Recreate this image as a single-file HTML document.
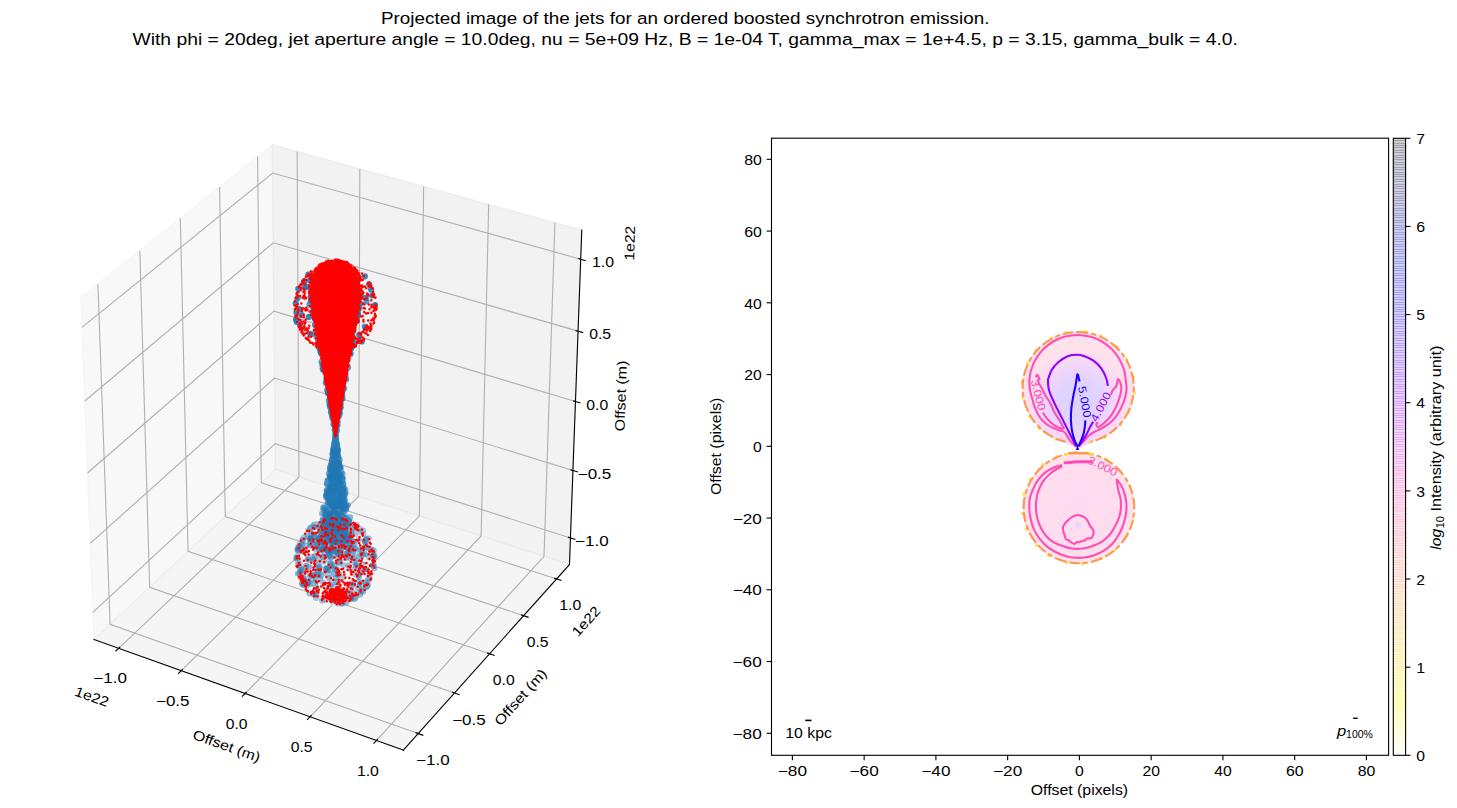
<!DOCTYPE html>
<html><head><meta charset="utf-8"><title>jets</title>
<style>html,body{margin:0;padding:0;background:#fff}svg{display:block}text{font-family:"Liberation Sans",sans-serif}</style>
</head><body>
<svg width="1457" height="808" viewBox="0 0 1457 808">
<rect width="1457" height="808" fill="#fff"/>
<g id="ax3d">
<polygon points="93.90,639.47 275.42,469.53 272.40,144.78 80.76,297.48" fill="rgb(242,242,242)" fill-opacity="0.5" stroke="rgb(242,242,242)" stroke-opacity="0.5" stroke-width="1.39" stroke-linejoin="miter"/>
<polygon points="275.42,469.53 569.48,564.54 581.78,230.00 272.40,144.78" fill="rgb(230,230,230)" fill-opacity="0.5" stroke="rgb(230,230,230)" stroke-opacity="0.5" stroke-width="1.39" stroke-linejoin="miter"/>
<polygon points="93.90,639.47 403.28,750.13 569.48,564.54 275.42,469.53" fill="rgb(236,236,236)" fill-opacity="0.5" stroke="rgb(236,236,236)" stroke-opacity="0.5" stroke-width="1.39" stroke-linejoin="miter"/>
<polyline points="118.62,648.32 298.99,477.14 297.15,151.60" fill="none" stroke="#b0b0b0" stroke-width="1.11"/>
<polyline points="181.24,670.72 358.64,496.41 359.82,168.86" fill="none" stroke="#b0b0b0" stroke-width="1.11"/>
<polyline points="245.06,693.54 419.34,516.03 423.65,186.44" fill="none" stroke="#b0b0b0" stroke-width="1.11"/>
<polyline points="310.10,716.80 481.12,535.99 488.67,204.35" fill="none" stroke="#b0b0b0" stroke-width="1.11"/>
<polyline points="376.40,740.52 544.01,556.31 554.93,222.60" fill="none" stroke="#b0b0b0" stroke-width="1.11"/>
<polyline points="97.91,283.81 110.09,624.31 418.15,733.53" fill="none" stroke="#b0b0b0" stroke-width="1.11"/>
<polyline points="139.81,250.42 149.68,587.25 454.47,692.97" fill="none" stroke="#b0b0b0" stroke-width="1.11"/>
<polyline points="180.33,218.13 188.04,551.33 489.62,653.72" fill="none" stroke="#b0b0b0" stroke-width="1.11"/>
<polyline points="219.56,186.88 225.23,516.52 523.64,615.73" fill="none" stroke="#b0b0b0" stroke-width="1.11"/>
<polyline points="257.54,156.62 261.30,482.75 556.59,578.94" fill="none" stroke="#b0b0b0" stroke-width="1.11"/>
<polyline points="570.46,537.94 275.18,443.66 92.86,612.33" fill="none" stroke="#b0b0b0" stroke-width="1.11"/>
<polyline points="572.94,470.47 274.57,378.07 90.21,543.43" fill="none" stroke="#b0b0b0" stroke-width="1.11"/>
<polyline points="575.47,401.55 273.95,311.14 87.50,473.00" fill="none" stroke="#b0b0b0" stroke-width="1.11"/>
<polyline points="578.06,331.15 273.31,242.82 84.73,401.01" fill="none" stroke="#b0b0b0" stroke-width="1.11"/>
<polyline points="580.71,259.22 272.67,173.08 81.90,327.39" fill="none" stroke="#b0b0b0" stroke-width="1.11"/>
<polyline points="93.90,639.47 403.28,750.13" fill="none" stroke="#000" stroke-width="1.11" stroke-linecap="square"/>
<polyline points="120.17,646.84 115.51,651.27" fill="none" stroke="#000" stroke-width="1.11"/>
<polyline points="182.77,669.21 178.18,673.73" fill="none" stroke="#000" stroke-width="1.11"/>
<polyline points="246.56,692.01 242.04,696.61" fill="none" stroke="#000" stroke-width="1.11"/>
<polyline points="311.57,715.24 307.14,719.93" fill="none" stroke="#000" stroke-width="1.11"/>
<polyline points="377.85,738.93 373.50,743.71" fill="none" stroke="#000" stroke-width="1.11"/>
<polyline points="569.48,564.54 403.28,750.13" fill="none" stroke="#000" stroke-width="1.11" stroke-linecap="square"/>
<polyline points="415.58,732.61 423.32,735.36" fill="none" stroke="#000" stroke-width="1.11"/>
<polyline points="451.93,692.08 459.58,694.74" fill="none" stroke="#000" stroke-width="1.11"/>
<polyline points="487.10,652.87 494.66,655.44" fill="none" stroke="#000" stroke-width="1.11"/>
<polyline points="521.14,614.90 528.62,617.39" fill="none" stroke="#000" stroke-width="1.11"/>
<polyline points="554.12,578.13 561.52,580.54" fill="none" stroke="#000" stroke-width="1.11"/>
<polyline points="569.48,564.54 581.78,230.00" fill="none" stroke="#000" stroke-width="1.11" stroke-linecap="square"/>
<polyline points="567.99,537.15 575.39,539.52" fill="none" stroke="#000" stroke-width="1.11"/>
<polyline points="570.45,469.70 577.93,472.01" fill="none" stroke="#000" stroke-width="1.11"/>
<polyline points="572.95,400.80 580.51,403.07" fill="none" stroke="#000" stroke-width="1.11"/>
<polyline points="575.52,330.41 583.16,332.63" fill="none" stroke="#000" stroke-width="1.11"/>
<polyline points="578.13,258.50 585.86,260.66" fill="none" stroke="#000" stroke-width="1.11"/>
</g>
<g id="scatter" fill="none" stroke-linecap="round">
<path d="M349.6 595.9h0M368.7 538.5h0M361.5 583.7h0M374.3 557.5h0M363.1 554.8h0M302.3 569.8h0M312.4 556.8h0M363.1 530.6h0M303.6 545.8h0M334.3 565.4h0M316.5 549.9h0M365.0 542.1h0M333.0 587.2h0M297.8 562.6h0M323.1 550.3h0M349.5 589.5h0M340.4 527.4h0M298.4 548.0h0M344.2 535.7h0M359.6 550.7h0M343.0 593.3h0M343.3 565.0h0M355.7 565.6h0M316.6 537.6h0M334.9 532.3h0M329.1 591.3h0M302.7 547.4h0M347.3 557.1h0M349.0 590.3h0M335.4 586.8h0M296.9 559.1h0M364.6 569.5h0M358.9 540.2h0M307.9 558.4h0M324.2 554.5h0M316.5 536.3h0M321.7 535.1h0M315.4 536.5h0M305.5 581.3h0M343.5 590.0h0M337.3 603.6h0M322.0 600.5h0M311.8 557.5h0M311.8 574.8h0M360.2 585.3h0M346.9 553.7h0M373.4 563.8h0M312.7 579.2h0M369.2 574.5h0" stroke="#1f77b4" stroke-opacity="0.36" stroke-width="6.2"/>
<path d="M332.0 599.5h0M316.1 598.0h0M323.8 599.7h0M313.7 533.6h0M367.8 547.8h0M300.7 572.1h0M355.6 534.2h0M360.6 572.4h0M325.4 572.9h0M353.7 532.1h0M329.2 574.3h0M299.9 544.1h0M340.4 532.2h0M345.2 535.4h0M338.0 552.6h0M303.5 551.8h0M297.7 549.8h0M358.3 531.5h0M329.9 550.0h0M368.9 557.4h0M330.1 565.2h0M318.4 559.4h0M337.3 531.0h0M358.0 588.4h0M362.5 548.2h0M338.6 532.2h0M330.9 599.6h0M339.5 519.0h0M323.9 529.4h0M299.5 563.4h0M341.5 557.4h0M369.4 578.4h0M322.0 526.5h0M355.5 597.7h0M319.8 573.4h0M303.9 537.4h0M316.1 574.4h0M359.3 586.9h0M323.0 582.7h0M360.3 549.2h0M329.4 560.9h0M302.7 539.0h0M312.9 593.8h0M352.9 553.4h0M329.0 532.7h0M341.8 558.1h0M311.4 539.3h0M346.2 544.5h0M309.6 543.6h0" stroke="#1f77b4" stroke-opacity="0.36" stroke-width="6.2"/>
<path d="M354.7 560.7h0M358.9 571.7h0M340.0 562.5h0M333.0 548.5h0M343.1 577.4h0M298.3 551.0h0M318.6 544.4h0M347.7 558.2h0M330.5 563.6h0M319.6 568.9h0M332.3 529.8h0M353.8 562.0h0M342.1 535.0h0M308.1 530.6h0M363.3 533.6h0M330.8 551.7h0M351.5 569.8h0M315.9 547.5h0M302.7 584.2h0M355.7 574.4h0M346.5 556.4h0M312.6 526.3h0M338.4 588.7h0M338.3 555.1h0M347.2 557.3h0M304.6 572.2h0M351.7 556.7h0M333.2 532.9h0M308.2 583.3h0M367.5 580.0h0M338.2 573.4h0M315.1 543.5h0M330.2 535.3h0M302.7 549.7h0M362.0 553.5h0M321.3 575.4h0M353.5 552.2h0M338.5 574.8h0M329.5 555.1h0M331.0 599.5h0M362.7 564.7h0M333.9 518.7h0M337.4 547.2h0M323.6 561.5h0M338.9 562.9h0M359.6 528.5h0M310.6 528.9h0M348.0 528.4h0M357.0 527.2h0" stroke="#1f77b4" stroke-opacity="0.36" stroke-width="6.2"/>
<path d="M329.8 530.9h0M333.3 531.7h0M341.2 528.5h0M328.4 531.0h0M334.1 529.2h0M338.8 525.1h0M355.0 547.8h0M373.2 556.0h0M315.5 578.3h0M373.7 550.3h0M337.9 527.5h0M336.3 532.8h0M314.8 556.1h0M341.6 534.5h0M319.1 540.3h0M334.4 573.9h0M318.1 538.1h0M320.0 539.0h0M337.9 513.2h0M327.9 570.1h0M326.0 515.2h0M374.4 568.2h0M343.7 517.2h0M374.0 566.7h0M320.2 578.3h0M322.3 542.7h0M344.3 528.3h0M303.6 584.9h0M346.2 527.3h0M353.5 558.1h0M318.1 564.5h0M367.0 586.4h0M337.4 529.7h0M350.1 546.5h0M336.7 538.7h0M303.0 540.1h0M328.3 525.1h0M337.0 569.4h0M329.3 578.4h0M324.2 544.3h0M332.5 537.9h0M341.8 528.4h0M341.1 518.0h0M330.9 519.5h0M323.6 541.9h0M296.3 558.1h0M348.3 565.7h0M331.9 564.1h0M330.6 514.1h0" stroke="#1f77b4" stroke-opacity="0.44" stroke-width="6.2"/>
<path d="M341.0 521.4h0M332.7 568.3h0M341.6 515.1h0M297.5 549.6h0M356.5 525.4h0M334.4 531.5h0M356.4 566.6h0M319.4 548.9h0M363.1 591.5h0M354.2 549.0h0M368.0 584.7h0M322.7 520.3h0M340.8 516.5h0M374.4 555.4h0M318.2 571.9h0M333.8 555.7h0M331.4 527.4h0M301.9 583.4h0M365.9 587.3h0M333.0 528.9h0M310.3 527.9h0M314.9 527.0h0M328.9 525.4h0M327.1 532.3h0M338.7 574.2h0M299.2 546.1h0M349.4 539.0h0M340.8 524.5h0M330.9 518.5h0M331.6 521.0h0M347.9 548.3h0M330.2 569.9h0M343.1 522.8h0M334.4 523.7h0M339.4 542.7h0M344.1 535.6h0M329.5 525.4h0M342.7 603.3h0M335.3 520.5h0M325.8 534.4h0M326.0 538.6h0M331.4 527.2h0M319.8 541.6h0M320.3 538.9h0M320.5 530.0h0M349.2 536.8h0M325.2 519.5h0M345.2 533.4h0M354.4 524.8h0" stroke="#1f77b4" stroke-opacity="0.44" stroke-width="6.2"/>
<path d="M316.5 524.3h0M297.9 573.5h0M353.1 583.1h0M342.1 543.1h0M354.5 598.8h0M360.1 594.4h0M328.8 552.1h0M337.5 528.0h0M316.2 540.8h0M322.0 548.9h0M354.4 544.1h0M320.2 529.6h0M346.3 532.5h0M345.1 541.0h0M298.2 547.9h0M338.9 561.9h0M327.5 540.4h0M342.5 528.7h0M326.7 520.7h0M333.6 542.2h0M345.7 528.4h0M317.4 544.5h0M337.2 525.0h0M339.8 520.0h0M314.3 524.7h0M316.0 525.7h0M333.9 525.8h0M328.1 524.8h0M356.5 563.6h0M352.5 541.5h0M329.7 519.3h0M325.0 520.7h0M309.4 593.3h0M335.3 537.2h0M325.4 525.7h0M335.9 536.0h0M335.3 569.4h0M318.0 574.9h0M334.9 519.7h0M327.9 529.6h0M358.5 595.0h0M339.4 520.3h0M346.5 517.9h0M333.0 518.8h0M326.7 532.3h0M341.4 603.6h0M321.9 535.4h0M346.4 602.4h0M296.9 556.7h0" stroke="#1f77b4" stroke-opacity="0.44" stroke-width="6.2"/>
<path d="M345.1 505.2h0M361.6 590.6h0M316.0 593.7h0M325.4 514.7h0M326.8 517.8h0M360.7 591.7h0M338.5 543.9h0M303.8 579.4h0M333.8 548.7h0M341.6 523.2h0M335.5 523.5h0M302.1 544.9h0M325.0 522.9h0M333.0 503.7h0M344.0 539.7h0M335.5 508.8h0M334.1 541.0h0M311.4 534.4h0M330.6 514.5h0M351.2 547.1h0M348.7 520.4h0M371.2 549.5h0M334.1 536.4h0M327.5 525.5h0M334.8 551.1h0M335.5 523.2h0M345.4 554.1h0M345.3 532.4h0M345.5 525.6h0M334.3 544.4h0M353.5 593.1h0M331.5 547.8h0M337.9 528.7h0M344.5 501.5h0M326.8 533.9h0M348.8 549.2h0M340.4 535.1h0M327.2 539.5h0M337.6 529.3h0M337.4 535.1h0M335.6 505.3h0M338.0 515.7h0M346.0 523.1h0M337.9 519.4h0M344.3 554.3h0M325.4 520.1h0M339.1 599.3h0M307.0 585.6h0M351.0 598.9h0" stroke="#1f77b4" stroke-opacity="0.48" stroke-width="6.2"/>
<path d="M328.3 520.2h0M329.4 537.3h0M339.3 541.5h0M345.5 522.5h0M352.6 528.1h0M365.5 542.8h0M344.1 521.1h0M326.4 510.7h0M304.3 583.0h0M345.0 536.4h0M340.2 542.6h0M372.7 555.3h0M342.7 539.6h0M338.7 531.8h0M334.4 524.5h0M332.0 599.4h0M333.3 521.1h0M337.0 539.6h0M334.3 533.9h0M340.7 534.7h0M335.8 577.5h0M343.0 534.2h0M321.3 550.2h0M339.4 515.1h0M324.6 513.5h0M341.8 531.9h0M340.3 503.2h0M327.5 549.3h0M341.2 529.4h0M347.1 537.8h0M338.2 505.1h0M327.7 504.3h0M372.6 565.6h0M323.5 543.6h0M330.4 516.4h0M341.4 522.3h0M332.5 516.1h0M338.1 515.9h0M342.9 522.4h0M325.4 529.9h0M301.0 568.3h0M338.6 513.5h0M366.2 538.7h0M338.5 551.4h0M303.9 578.2h0M337.5 524.0h0M324.4 526.1h0M338.0 519.9h0M347.7 534.1h0" stroke="#1f77b4" stroke-opacity="0.48" stroke-width="6.2"/>
<path d="M338.2 532.4h0M336.4 515.3h0M347.3 524.7h0M345.4 528.6h0M334.3 539.0h0M334.7 515.2h0M365.9 539.8h0M334.6 520.6h0M351.2 598.2h0M333.3 520.5h0M336.8 523.5h0M327.1 528.2h0M329.3 522.8h0M320.7 533.7h0M323.1 547.9h0M333.0 519.5h0M300.3 569.8h0M333.4 502.9h0M324.6 548.3h0M365.7 582.6h0M328.0 551.0h0M332.3 541.6h0M342.2 529.3h0M335.0 510.1h0M328.6 524.8h0M335.1 599.5h0M338.3 513.6h0M366.2 547.5h0M332.6 506.4h0M334.1 507.0h0M299.5 573.5h0M332.2 520.8h0M322.7 523.5h0M320.8 524.9h0M325.0 547.2h0M314.4 594.7h0M349.4 537.1h0M307.6 536.7h0M340.5 550.6h0M340.8 550.0h0M339.1 513.5h0M331.2 505.1h0M338.8 507.0h0M342.3 511.7h0M338.8 515.1h0M320.8 525.4h0M330.6 540.5h0M330.1 524.0h0M364.9 540.6h0" stroke="#1f77b4" stroke-opacity="0.48" stroke-width="6.2"/>
<path d="M335.7 499.8h0M332.9 502.3h0M314.7 545.0h0M349.1 521.7h0M359.7 582.3h0M319.2 539.2h0M326.8 534.7h0M310.4 542.3h0M330.7 544.2h0M331.7 497.9h0M344.3 545.3h0M327.7 491.9h0M324.1 542.4h0M334.7 527.5h0M345.5 523.0h0M331.5 523.8h0M333.7 494.6h0M327.5 530.3h0M329.5 489.2h0M323.4 507.9h0M330.7 527.2h0M310.1 576.0h0M348.6 551.4h0M346.2 523.8h0M329.0 555.4h0M315.4 582.8h0M325.9 496.8h0M323.1 521.8h0M322.9 519.5h0M343.2 508.7h0M344.1 534.9h0M339.5 495.1h0M338.6 531.5h0M314.0 536.6h0M332.6 540.3h0M341.1 500.5h0M308.2 559.7h0M311.6 583.8h0M346.2 507.0h0M310.2 545.5h0M336.8 497.2h0M339.7 501.2h0M347.7 521.9h0M341.8 548.1h0M325.3 547.1h0M332.9 503.9h0M334.7 502.9h0M316.5 587.9h0M329.9 513.1h0" stroke="#1f77b4" stroke-opacity="0.51" stroke-width="6.2"/>
<path d="M333.1 530.4h0M324.5 509.7h0M350.1 517.3h0M342.8 503.2h0M337.3 511.7h0M348.1 541.6h0M306.1 565.9h0M339.6 498.3h0M345.1 508.1h0M327.9 502.5h0M347.4 523.4h0M332.0 520.8h0M331.7 538.0h0M323.4 523.9h0M338.4 541.6h0M331.7 491.2h0M351.6 533.5h0M336.0 499.5h0M365.0 554.0h0M340.8 509.0h0M349.3 519.9h0M340.2 532.9h0M329.2 540.4h0M343.7 544.9h0M333.7 490.5h0M346.4 539.8h0M353.4 541.3h0M331.5 506.3h0M335.1 532.4h0M326.4 537.4h0M331.7 506.5h0M340.4 522.8h0M347.4 592.9h0M336.4 593.5h0M341.2 498.4h0M338.0 553.6h0M338.6 513.8h0M337.8 507.9h0M334.7 505.1h0M344.5 514.2h0M347.3 544.1h0M333.3 508.0h0M331.7 496.9h0M310.3 538.6h0M339.8 503.3h0M365.2 569.0h0M338.6 520.8h0M332.5 550.9h0M338.0 528.1h0" stroke="#1f77b4" stroke-opacity="0.51" stroke-width="6.2"/>
<path d="M327.2 509.8h0M330.6 537.0h0M327.3 493.1h0M323.4 509.5h0M358.9 576.8h0M329.6 531.5h0M332.5 502.6h0M332.2 524.1h0M335.9 538.4h0M332.3 504.2h0M330.0 499.2h0M331.1 557.4h0M348.0 505.1h0M340.3 504.0h0M347.2 505.5h0M324.8 520.7h0M340.6 594.3h0M339.1 540.0h0M338.5 503.6h0M326.3 518.1h0M348.1 538.0h0M308.4 581.9h0M310.2 538.9h0M345.2 530.4h0M341.7 492.9h0M323.5 507.3h0M326.6 497.1h0M345.0 500.2h0M336.0 486.9h0M339.3 498.7h0M322.2 513.7h0M337.5 530.7h0M334.7 491.8h0M326.8 534.8h0M352.6 585.1h0M331.2 523.0h0M329.9 499.0h0M332.8 489.9h0M348.5 540.9h0M309.2 567.1h0M329.4 554.2h0M332.0 544.1h0M335.3 527.5h0M323.9 512.7h0M325.8 532.6h0M330.1 502.8h0M339.9 495.8h0M332.0 505.7h0M343.3 489.8h0" stroke="#1f77b4" stroke-opacity="0.51" stroke-width="6.2"/>
<path d="M330.0 476.6h0M339.8 486.1h0M334.9 486.2h0M334.4 483.8h0M344.5 492.3h0M332.6 481.1h0M331.2 504.7h0M328.0 497.8h0M331.8 500.0h0M330.1 500.8h0M340.4 487.8h0M332.4 487.1h0M339.8 496.9h0M339.4 519.7h0M331.2 518.9h0M331.8 487.3h0M337.5 490.0h0M322.6 556.7h0M329.6 490.0h0M330.1 500.6h0M326.9 568.1h0M344.0 495.4h0M344.4 504.2h0M331.4 492.4h0M337.4 514.1h0M330.7 495.4h0M329.7 501.9h0M333.1 497.2h0M339.0 490.7h0M342.2 539.4h0M336.8 481.8h0M337.3 480.7h0M329.2 506.1h0M334.7 481.0h0M342.8 538.6h0M329.8 487.1h0M332.2 510.8h0M328.0 525.0h0M329.7 494.0h0M338.1 487.7h0M333.4 496.6h0M340.2 504.3h0M337.0 503.2h0M333.2 501.3h0M329.7 524.8h0M342.0 508.0h0M335.8 506.8h0M340.4 505.5h0M333.5 498.0h0" stroke="#1f77b4" stroke-opacity="0.54" stroke-width="6.2"/>
<path d="M336.9 506.2h0M333.6 502.4h0M333.0 520.2h0M337.4 485.0h0M333.8 529.0h0M329.9 489.8h0M346.1 508.7h0M316.6 568.1h0M325.8 568.8h0M339.3 481.9h0M320.3 540.1h0M334.8 491.6h0M329.7 515.4h0M343.5 496.2h0M332.8 478.8h0M344.7 518.5h0M332.5 503.5h0M331.5 480.1h0M337.6 523.1h0M333.3 486.7h0M339.4 486.1h0M334.1 525.0h0M329.7 524.8h0M326.9 549.9h0M333.5 476.1h0M335.5 501.8h0M335.6 483.5h0M337.4 479.2h0M329.3 498.8h0M339.6 500.4h0M334.7 488.9h0M342.7 479.9h0M343.7 489.4h0M341.1 481.3h0M345.4 490.1h0M340.5 481.9h0M338.3 491.5h0M338.4 505.5h0M333.1 505.5h0M333.9 510.8h0M331.4 476.4h0M339.7 480.1h0M340.4 477.3h0M336.5 502.1h0M319.4 567.0h0M336.6 507.5h0M341.6 506.0h0M330.2 514.6h0M345.5 493.1h0" stroke="#1f77b4" stroke-opacity="0.54" stroke-width="6.2"/>
<path d="M333.8 505.9h0M337.1 505.2h0M330.0 531.4h0M339.0 481.6h0M332.5 540.8h0M344.6 495.7h0M340.0 496.6h0M329.2 522.4h0M336.8 502.2h0M313.5 575.0h0M326.3 494.5h0M340.6 499.6h0M342.8 511.8h0M328.9 496.4h0M328.3 516.1h0M336.0 502.3h0M313.0 559.5h0M339.0 500.5h0M343.9 500.7h0M337.9 501.3h0M332.7 512.3h0M331.4 487.2h0M342.0 498.2h0M331.1 515.3h0M339.2 491.8h0M343.0 502.1h0M328.9 491.8h0M336.2 582.2h0M331.8 477.7h0M326.8 490.5h0M333.7 481.1h0M330.7 584.7h0M329.1 490.9h0M358.9 556.4h0M328.1 500.3h0M346.1 505.3h0M344.8 494.9h0M339.7 489.2h0M341.7 506.9h0M333.7 492.7h0M330.2 486.4h0M331.3 485.5h0M332.1 489.5h0M340.4 498.4h0M343.0 484.3h0M329.7 496.6h0M334.6 549.2h0M345.8 509.6h0M326.6 511.6h0" stroke="#1f77b4" stroke-opacity="0.54" stroke-width="6.2"/>
<path d="M332.3 492.6h0M335.5 463.9h0M336.4 489.2h0M338.5 469.8h0M328.5 492.6h0M335.1 489.3h0M340.6 475.1h0M331.8 472.1h0M330.0 475.8h0M337.4 471.9h0M340.4 502.8h0M334.0 474.7h0M339.6 475.6h0M333.4 486.6h0M330.6 480.0h0M340.8 468.6h0M341.3 472.2h0M337.3 466.1h0M334.3 475.8h0M338.1 486.3h0M338.9 504.3h0M333.5 491.2h0M333.7 481.1h0M331.8 487.6h0M338.4 491.6h0M339.1 473.8h0M332.8 471.1h0M335.8 473.6h0M334.1 465.1h0M339.0 483.2h0M342.6 489.0h0M334.6 467.3h0M333.9 461.7h0M335.6 481.0h0M332.3 472.9h0M335.3 486.1h0M334.3 469.0h0M337.1 491.5h0M335.7 471.7h0M334.8 461.5h0M332.3 492.1h0M339.4 489.2h0M336.9 488.6h0M334.8 481.1h0M338.3 479.8h0M334.0 469.1h0M328.9 473.5h0M334.2 474.1h0M340.7 504.2h0" stroke="#1f77b4" stroke-opacity="0.57" stroke-width="6.2"/>
<path d="M341.5 481.4h0M336.2 475.9h0M327.7 480.5h0M327.0 483.9h0M330.3 474.9h0M343.3 483.7h0M337.9 474.2h0M333.0 467.1h0M338.5 471.7h0M330.0 470.2h0M336.6 494.8h0M338.2 471.3h0M337.7 493.9h0M333.4 482.2h0M342.5 478.3h0M333.4 473.4h0M330.6 480.6h0M336.8 467.5h0M330.6 477.8h0M330.3 466.8h0M327.9 488.7h0M333.0 478.7h0M330.7 473.8h0M335.0 472.0h0M328.5 496.3h0M336.5 480.3h0M337.7 491.7h0M332.7 487.0h0M339.4 474.0h0M336.0 467.7h0M336.4 471.8h0M342.9 492.3h0M326.8 490.7h0M331.7 474.3h0M328.4 494.5h0M338.7 463.8h0M338.4 467.2h0M339.9 498.5h0M337.8 481.0h0M332.4 499.0h0M342.0 488.1h0M339.0 500.0h0M336.2 475.6h0M340.3 467.1h0M340.8 476.9h0M333.2 472.7h0M330.4 482.9h0M330.3 499.1h0M343.2 491.8h0" stroke="#1f77b4" stroke-opacity="0.57" stroke-width="6.2"/>
<path d="M334.1 467.5h0M328.3 492.5h0M329.4 483.4h0M335.4 466.8h0M333.6 481.2h0M333.0 470.6h0M327.8 480.9h0M341.6 489.0h0M340.6 483.1h0M338.3 466.4h0M333.7 496.1h0M336.4 471.8h0M338.9 487.0h0M329.3 480.6h0M336.1 499.8h0M343.6 499.3h0M340.8 485.0h0M339.3 503.1h0M327.0 483.5h0M331.3 503.3h0M328.7 481.2h0M337.1 484.0h0M330.5 475.9h0M340.7 483.0h0M344.2 488.0h0M332.2 488.4h0M341.1 483.1h0M331.0 470.0h0M338.6 475.8h0M339.2 473.2h0M341.5 479.9h0M337.9 483.5h0M331.2 489.9h0M339.2 464.3h0M337.5 464.5h0M326.6 495.0h0M341.8 477.6h0M342.2 495.2h0M334.6 491.9h0M334.7 476.7h0M329.8 476.8h0M334.6 478.4h0M327.8 480.6h0M331.9 466.2h0M337.0 498.1h0M342.5 474.0h0M331.7 464.3h0M338.1 493.9h0M342.5 476.8h0" stroke="#1f77b4" stroke-opacity="0.57" stroke-width="6.2"/>
<path d="M334.7 464.5h0M339.3 459.4h0M337.6 460.5h0M333.5 454.7h0M338.0 455.5h0M334.2 458.8h0M337.4 459.8h0M338.0 455.5h0M339.8 468.0h0M337.9 475.7h0M336.9 459.1h0M335.9 460.7h0M335.1 459.6h0M336.1 465.4h0M336.9 457.5h0M339.3 483.4h0M338.8 468.2h0M339.7 460.3h0M334.4 482.8h0M331.4 483.9h0M333.1 472.3h0M335.1 472.8h0M334.8 457.5h0M337.0 466.5h0M336.5 462.4h0M331.7 465.7h0M339.5 466.2h0M337.6 469.8h0M338.4 461.1h0M335.9 458.2h0M332.7 456.3h0M333.7 468.0h0M332.5 454.2h0M335.8 453.3h0M335.1 460.1h0M336.1 453.0h0M335.7 456.0h0M334.0 475.4h0M334.5 457.1h0M336.1 479.3h0M332.2 464.5h0M335.6 479.1h0M333.7 457.7h0M331.6 462.9h0M333.2 455.7h0M335.7 457.1h0M336.7 451.0h0M335.6 453.8h0M336.7 454.3h0" stroke="#1f77b4" stroke-opacity="0.60" stroke-width="6.2"/>
<path d="M333.8 463.3h0M338.8 465.0h0M336.0 453.8h0M332.2 459.7h0M338.9 462.5h0M334.1 459.1h0M333.7 454.7h0M338.2 478.0h0M335.9 455.4h0M333.6 453.7h0M336.2 476.0h0M337.2 462.6h0M331.9 465.2h0M332.0 469.1h0M337.3 451.9h0M338.5 464.3h0M331.7 473.2h0M333.5 476.1h0M335.1 470.8h0M332.3 465.8h0M330.1 468.0h0M338.4 457.9h0M336.4 449.3h0M334.9 460.0h0M338.0 473.6h0M335.1 452.0h0M333.7 460.0h0M337.2 460.1h0M333.3 457.2h0M336.8 455.9h0M332.3 466.9h0M333.6 459.3h0M333.4 465.0h0M331.0 465.2h0M336.8 454.5h0M336.3 465.1h0M333.5 454.9h0M333.1 455.0h0M336.9 450.4h0M335.5 460.0h0M334.0 467.8h0M337.3 457.2h0M338.0 461.2h0M333.7 464.1h0M333.5 461.1h0M337.1 450.9h0M335.6 462.3h0M335.6 452.8h0M336.7 457.2h0" stroke="#1f77b4" stroke-opacity="0.60" stroke-width="6.2"/>
<path d="M334.0 487.2h0M335.8 451.7h0M334.3 458.1h0M335.5 456.7h0M337.7 450.6h0M333.5 460.3h0M338.1 483.3h0M332.9 470.3h0M334.0 457.2h0M338.7 463.7h0M337.2 451.0h0M336.2 466.5h0M334.8 467.7h0M335.9 462.5h0M337.5 463.3h0M332.9 452.9h0M334.9 451.4h0M339.5 467.6h0M338.6 462.8h0M330.8 478.2h0M335.6 461.8h0M336.7 475.8h0M335.0 459.8h0M331.6 471.1h0M336.0 456.3h0M331.9 476.6h0M331.7 468.4h0M333.0 473.3h0M336.7 456.4h0M333.4 449.9h0M335.2 453.8h0M336.2 456.4h0M334.8 465.5h0M337.7 468.4h0M332.8 473.3h0M332.2 459.4h0M333.2 455.3h0M335.3 460.6h0M332.8 461.9h0M340.1 475.4h0M333.7 452.5h0M333.6 461.1h0M330.6 469.9h0M332.9 454.3h0M333.5 466.5h0M337.8 454.4h0M336.3 464.7h0M335.4 474.9h0M337.7 457.0h0" stroke="#1f77b4" stroke-opacity="0.60" stroke-width="6.2"/>
<path d="M335.3 439.8h0M332.7 418.7h0M334.0 451.8h0M336.4 431.5h0M335.2 447.4h0M333.6 450.1h0M334.4 446.2h0M335.7 433.9h0M337.7 402.4h0M334.6 451.9h0M336.0 446.4h0M335.4 438.2h0M336.9 445.4h0M335.7 439.0h0M335.9 444.5h0M335.0 444.2h0M339.5 410.4h0M336.1 424.2h0M334.3 448.6h0M336.8 421.1h0M333.8 446.9h0M336.5 429.4h0M336.1 442.0h0M337.3 446.5h0M337.1 447.6h0M334.5 443.8h0M334.5 424.3h0M336.6 454.0h0M335.5 436.5h0M334.8 449.4h0M338.9 416.2h0M335.3 446.8h0M335.3 445.4h0M336.9 405.1h0M335.7 432.7h0M336.2 447.0h0M336.6 447.7h0M335.7 429.3h0M335.5 436.9h0M335.6 441.1h0M335.8 439.2h0M336.6 422.6h0M335.5 436.9h0M335.6 438.2h0M336.0 458.6h0M335.7 435.5h0M335.9 445.7h0M337.6 449.8h0M337.6 451.1h0" stroke="#1f77b4" stroke-opacity="0.64" stroke-width="6.2"/>
<path d="M335.7 443.9h0M337.3 407.0h0M333.4 424.2h0M337.7 422.2h0M337.7 449.9h0M338.5 404.6h0M335.4 438.2h0M334.8 445.1h0M336.4 445.1h0M337.8 417.8h0M335.0 445.0h0M334.0 445.2h0M337.7 424.8h0M335.5 437.3h0M335.2 447.2h0M335.4 446.4h0M335.5 435.2h0M335.7 440.0h0M335.8 438.8h0M335.5 437.0h0M335.4 442.7h0M335.6 442.9h0M331.5 408.8h0M335.2 439.7h0M334.3 443.9h0M335.5 436.9h0M333.3 450.2h0M336.5 446.3h0M334.1 449.6h0M337.2 448.2h0M335.8 440.8h0M332.0 416.5h0M337.0 413.6h0M336.0 441.3h0M335.9 424.8h0M336.2 426.2h0M339.5 405.1h0M334.4 445.1h0M334.5 447.8h0M336.1 442.2h0M335.0 442.6h0M336.0 446.7h0M336.9 444.9h0M334.3 444.4h0M336.0 425.7h0M334.2 409.0h0M335.1 444.7h0M334.6 430.1h0M333.5 449.0h0" stroke="#1f77b4" stroke-opacity="0.64" stroke-width="6.2"/>
<path d="M334.9 423.3h0M333.3 455.3h0M331.4 412.2h0M335.0 455.1h0M334.9 447.9h0M335.8 440.3h0M334.9 441.5h0M335.3 454.8h0M336.7 447.4h0M334.8 448.0h0M335.4 438.0h0M335.6 436.0h0M335.6 439.7h0M336.5 402.7h0M335.2 449.5h0M335.7 435.1h0M335.9 441.1h0M334.7 441.6h0M336.5 442.6h0M333.7 451.0h0M331.1 412.7h0M335.5 437.6h0M335.1 419.0h0M335.2 444.1h0M338.5 403.2h0M335.4 433.2h0M335.6 437.4h0M335.4 439.2h0M335.8 454.8h0M335.7 429.9h0M334.8 426.3h0M334.8 452.3h0M335.3 440.0h0M336.1 450.9h0M335.4 446.1h0M333.6 419.8h0M337.3 449.0h0M335.5 437.3h0M337.1 451.5h0M335.5 444.3h0M334.2 449.5h0M335.5 444.0h0M333.9 448.7h0M336.9 425.9h0M336.6 430.4h0M335.3 446.0h0M335.6 439.9h0M336.3 443.1h0M334.9 453.5h0" stroke="#1f77b4" stroke-opacity="0.64" stroke-width="6.2"/>
<path d="M342.8 360.4h0M327.2 390.1h0M330.3 327.0h0M327.6 371.6h0M345.7 361.3h0M339.8 333.0h0M345.1 368.1h0M333.9 383.1h0M340.2 404.0h0M334.0 389.4h0M330.5 400.0h0M323.4 368.1h0M329.5 404.8h0M332.6 385.3h0M328.8 385.2h0M322.9 369.5h0M342.4 398.6h0M339.8 398.9h0M327.4 372.5h0M332.1 331.6h0M332.3 340.2h0M326.4 377.8h0M342.0 385.4h0M322.0 362.7h0M321.6 361.8h0M342.4 344.2h0M339.3 414.2h0M332.5 410.0h0M343.8 388.8h0M339.9 413.2h0M334.9 396.7h0M323.4 367.0h0M328.6 332.1h0M346.8 360.7h0M328.3 392.7h0M341.3 396.4h0M324.8 318.5h0M331.4 363.6h0M328.3 372.1h0M329.6 380.1h0M337.1 416.2h0M331.8 388.7h0M341.5 394.8h0M312.5 298.5h0M334.4 364.2h0M323.5 340.2h0M333.3 301.2h0M330.4 370.4h0M320.7 290.0h0" stroke="#1f77b4" stroke-opacity="0.74" stroke-width="6.2"/>
<path d="M324.0 366.6h0M325.9 382.7h0M339.2 387.8h0M330.1 406.9h0M326.5 379.6h0M309.5 304.7h0M335.5 351.8h0M335.9 390.9h0M323.9 370.1h0M323.4 346.0h0M343.0 376.8h0M328.7 369.1h0M332.0 414.2h0M334.6 391.7h0M334.9 405.9h0M329.5 360.6h0M314.4 334.3h0M348.2 328.3h0M319.6 348.3h0M340.0 399.3h0M334.2 414.2h0M333.8 340.1h0M335.5 378.9h0M325.8 382.8h0M327.1 373.0h0M341.6 392.7h0M333.0 337.1h0M333.9 309.1h0M333.6 394.6h0M337.5 388.7h0M327.9 393.0h0M343.6 388.1h0M326.4 371.5h0M337.8 412.6h0M323.9 346.4h0M331.1 399.7h0M340.2 387.6h0M334.3 413.7h0M340.3 407.8h0M328.3 276.4h0M342.3 395.6h0M326.0 365.3h0M337.6 370.9h0M337.8 404.7h0M339.0 413.4h0M331.1 411.5h0M348.4 292.3h0M332.3 390.7h0M328.3 364.4h0" stroke="#1f77b4" stroke-opacity="0.74" stroke-width="6.2"/>
<path d="M337.4 331.2h0M329.4 401.6h0M321.3 332.9h0M320.3 331.8h0M334.4 353.3h0M337.8 414.5h0M340.8 351.2h0M328.9 400.7h0M334.5 392.0h0M340.7 407.3h0M330.7 304.9h0M339.5 308.6h0M322.7 368.2h0M341.1 389.3h0M329.8 389.2h0M331.8 392.1h0M366.5 301.3h0M346.2 379.2h0M327.3 375.3h0M364.8 326.5h0M341.7 398.9h0M334.1 338.3h0M335.5 403.2h0M342.3 391.2h0M330.0 403.2h0M333.2 408.4h0M339.7 378.3h0M340.8 384.0h0M357.0 283.0h0M327.5 378.9h0M336.3 329.6h0M339.5 315.5h0M340.7 404.1h0M332.7 415.3h0M330.5 402.3h0M340.0 281.5h0M349.4 322.3h0M333.1 413.6h0M325.1 333.7h0M322.5 365.7h0M328.1 392.1h0M329.8 394.1h0M351.0 338.2h0M321.9 330.7h0M329.2 392.1h0M335.2 321.5h0M345.6 376.9h0M350.4 285.1h0M348.0 367.5h0" stroke="#1f77b4" stroke-opacity="0.74" stroke-width="6.2"/>
<path d="M354.4 280.7h0M325.2 319.8h0M320.9 353.0h0M312.9 293.6h0M311.2 288.6h0M299.5 309.1h0M356.7 294.1h0M360.7 294.8h0M355.4 308.5h0M318.4 344.2h0M326.2 302.0h0M311.3 277.5h0M346.4 264.2h0M319.5 348.1h0M323.0 348.2h0M361.8 341.5h0M329.1 282.8h0M353.7 339.2h0M312.6 312.2h0M296.4 312.5h0M313.1 306.7h0M352.2 342.4h0M357.4 315.7h0M308.3 274.5h0M358.3 296.8h0M340.3 269.1h0M316.9 304.7h0M308.8 316.9h0M345.4 270.5h0M310.9 300.5h0M348.8 353.6h0M344.1 315.8h0M304.3 281.2h0M350.4 331.9h0M353.1 320.8h0M349.6 324.4h0M324.9 311.5h0M330.1 324.5h0M347.3 351.1h0M354.6 343.4h0M353.4 329.2h0M330.5 370.6h0M349.5 301.3h0M304.6 287.3h0M354.8 322.1h0M329.4 358.4h0M320.3 270.6h0M325.7 272.6h0M303.9 281.9h0" stroke="#1f77b4" stroke-opacity="0.87" stroke-width="6.2"/>
<path d="M369.2 284.6h0M335.6 350.7h0M317.7 309.4h0M333.6 371.9h0M375.1 305.0h0M371.1 289.6h0M327.1 346.4h0M350.8 349.3h0M315.1 325.1h0M350.6 353.7h0M365.8 297.9h0M341.7 351.5h0M350.5 302.8h0M313.9 307.7h0M346.5 350.3h0M311.4 300.0h0M356.8 320.9h0M296.1 319.6h0M328.4 309.6h0M314.8 312.6h0M297.6 298.0h0M342.4 365.6h0M360.1 303.7h0M332.3 324.5h0M357.2 313.5h0M352.5 297.3h0M333.6 334.9h0M344.6 266.5h0M358.8 309.1h0M350.6 290.2h0M329.5 351.4h0M319.8 291.8h0M320.0 319.1h0M350.8 333.2h0M338.3 368.3h0M352.5 321.0h0M315.1 305.1h0M337.1 335.6h0M326.2 265.3h0M310.0 280.4h0M352.2 343.6h0M333.4 350.0h0M331.3 263.5h0M307.6 287.2h0M360.3 297.1h0M318.2 324.7h0M329.4 329.8h0M356.3 315.9h0M352.4 345.1h0" stroke="#1f77b4" stroke-opacity="0.87" stroke-width="6.2"/>
<path d="M320.5 351.2h0M316.2 315.4h0M358.8 306.2h0M364.9 276.3h0M351.7 347.0h0M355.5 310.3h0M349.0 302.4h0M328.1 366.4h0M318.0 323.1h0M365.8 328.2h0M322.5 303.1h0M346.4 270.0h0M301.7 315.2h0M321.1 303.6h0M359.4 334.9h0M314.9 306.7h0M372.2 295.5h0M358.4 307.5h0M329.0 273.8h0M295.7 303.3h0M318.0 339.6h0M320.9 329.4h0M325.0 285.7h0M300.0 324.9h0M358.1 314.2h0M348.6 285.9h0M326.7 350.8h0M319.8 333.7h0M315.3 310.2h0M332.9 315.3h0M352.2 333.8h0M348.1 339.4h0M349.5 287.7h0M343.7 351.2h0M350.0 321.0h0M317.0 333.5h0M296.7 321.7h0M314.8 318.5h0M335.8 326.2h0M340.5 295.0h0M328.6 263.9h0M310.6 297.0h0M334.9 339.2h0M317.9 331.4h0M342.8 345.2h0M310.1 333.8h0M298.3 288.9h0M329.1 354.8h0M336.0 267.3h0" stroke="#1f77b4" stroke-opacity="0.87" stroke-width="6.2"/>
<polygon points="326.79,261.00 323.09,263.00 321.20,265.00 318.98,267.00 316.13,269.00 315.67,271.00 314.36,273.00 313.49,275.00 312.98,277.00 312.59,279.00 311.62,281.00 310.93,283.00 311.39,285.00 311.56,287.00 310.74,289.00 311.48,291.00 310.80,293.00 310.90,295.00 311.33,297.00 311.64,299.00 313.01,301.00 312.77,303.00 312.83,305.00 312.60,307.00 313.75,309.00 313.41,311.00 314.09,313.00 315.59,315.00 315.91,317.00 315.00,319.00 316.25,321.00 316.60,323.00 316.36,325.00 316.89,327.00 317.22,329.00 318.15,331.00 317.48,333.00 318.28,335.00 318.63,337.00 319.22,339.00 319.57,341.00 319.56,343.00 319.59,345.00 320.12,347.00 320.81,349.00 320.59,351.00 321.13,353.00 321.50,355.00 321.58,357.00 322.76,359.00 322.42,361.00 322.68,363.00 323.72,365.00 323.92,367.00 324.15,369.00 324.11,371.00 324.71,373.00 324.92,375.00 325.27,377.00 325.43,379.00 325.94,381.00 326.79,383.00 326.50,385.00 327.14,387.00 327.63,389.00 327.94,391.00 328.18,393.00 328.28,395.00 328.79,397.00 328.97,399.00 329.48,401.00 329.85,403.00 330.26,405.00 330.62,407.00 330.84,409.00 331.16,411.00 331.38,413.00 331.69,415.00 332.11,417.00 332.46,419.00 332.79,421.00 333.18,423.00 333.53,425.00 333.83,427.00 334.15,429.00 334.52,431.00 334.87,433.00 335.18,435.00 335.50,437.50 335.87,435.00 336.21,433.00 336.50,431.00 336.84,429.00 337.25,427.00 337.47,425.00 337.86,423.00 338.17,421.00 338.57,419.00 338.92,417.00 339.20,415.00 339.59,413.00 340.00,411.00 340.14,409.00 340.54,407.00 341.11,405.00 341.11,403.00 341.57,401.00 341.84,399.00 342.11,397.00 342.45,395.00 343.10,393.00 343.39,391.00 343.73,389.00 343.99,387.00 344.23,385.00 344.46,383.00 345.04,381.00 345.62,379.00 345.37,377.00 346.03,375.00 346.21,373.00 346.98,371.00 347.21,369.00 347.06,367.00 347.86,365.00 347.97,363.00 348.33,361.00 348.65,359.00 349.40,357.00 349.55,355.00 349.72,353.00 349.73,351.00 350.42,349.00 350.96,347.00 351.25,345.00 351.77,343.00 351.74,341.00 353.20,339.00 352.20,337.00 353.63,335.00 352.94,333.00 353.53,331.00 353.64,329.00 354.33,327.00 354.80,325.00 355.36,323.00 354.92,321.00 356.28,319.00 356.14,317.00 356.39,315.00 356.41,313.00 357.54,311.00 356.80,309.00 358.24,307.00 356.67,305.00 357.56,303.00 359.01,301.00 358.92,299.00 359.31,297.00 359.31,295.00 360.38,293.00 360.26,291.00 360.27,289.00 359.62,287.00 360.42,285.00 358.24,283.00 359.12,281.00 359.40,279.00 357.26,277.00 357.04,275.00 356.68,273.00 355.53,271.00 354.05,269.00 352.14,267.00 350.19,265.00 347.72,263.00 344.56,261.00" fill="#ff0000" stroke="#ff0000" stroke-width="1.0" stroke-linejoin="round"/>
<path d="M335.7 389.6h0M335.9 315.6h0M334.7 408.4h0M330.7 382.0h0M334.5 274.2h0M346.9 343.4h0M333.2 390.1h0M333.0 391.0h0M331.8 403.5h0M349.4 323.7h0M332.6 416.7h0M332.3 265.3h0M336.7 427.6h0M337.4 384.1h0M332.7 405.0h0M334.5 347.4h0M348.8 290.1h0M336.0 412.4h0M323.4 299.8h0M339.5 277.4h0M343.9 300.8h0M325.5 355.0h0M333.4 389.3h0M337.1 362.8h0M327.2 349.4h0M330.2 389.8h0M341.0 342.0h0M330.4 327.0h0M333.2 408.1h0M329.2 347.2h0M335.9 434.1h0M318.5 328.2h0M347.2 299.5h0M335.9 413.8h0M348.9 264.3h0M323.9 333.8h0M335.6 435.6h0M326.8 323.9h0M337.8 362.1h0M347.0 314.3h0M335.2 430.8h0M340.0 384.7h0M335.4 422.8h0M325.5 353.7h0M334.8 301.0h0M331.4 391.0h0M318.4 289.6h0M327.8 381.3h0M346.4 296.7h0M332.9 382.6h0M338.5 409.1h0M334.9 431.2h0M340.1 380.4h0M359.4 281.5h0M339.7 405.4h0M356.1 310.1h0M334.3 416.3h0M351.8 314.2h0M330.0 379.5h0M350.0 285.6h0M349.6 311.4h0M343.1 389.7h0M324.2 339.2h0M347.0 356.3h0M318.5 265.7h0M335.5 279.3h0M335.1 374.6h0M341.9 364.8h0M331.9 383.8h0M336.8 402.2h0M335.0 418.6h0M339.5 342.9h0M335.6 407.7h0M358.1 313.7h0M339.9 392.5h0M337.0 363.2h0M346.0 287.5h0M321.3 269.3h0M337.5 367.7h0M329.6 399.0h0M331.9 267.3h0M344.2 338.0h0M334.4 404.1h0M339.0 273.6h0M342.2 305.7h0M346.5 278.2h0M330.8 375.7h0M342.2 393.4h0M345.1 361.5h0M346.7 296.8h0M349.3 317.8h0M328.4 392.3h0M335.7 433.8h0M335.4 321.6h0M338.4 410.3h0M344.9 330.1h0M334.1 319.4h0M339.8 403.4h0M339.6 350.7h0M334.9 321.6h0M340.3 282.4h0M326.0 338.1h0M329.9 383.1h0M338.6 344.9h0M336.3 370.8h0M336.8 360.6h0M333.3 399.1h0M335.2 414.3h0M343.2 330.9h0M315.9 314.0h0M315.0 310.6h0M347.1 315.0h0M326.7 344.2h0M322.2 337.9h0M336.5 335.5h0M334.1 321.9h0M331.2 298.4h0M337.9 355.1h0M332.7 268.9h0M336.2 411.9h0M351.6 274.6h0M343.1 372.1h0M329.7 399.6h0M314.4 274.5h0M336.6 418.5h0M344.7 378.0h0M326.4 347.0h0M338.1 261.6h0M331.8 389.6h0M316.9 290.5h0M334.1 398.8h0M340.2 358.0h0M348.2 322.5h0M330.5 389.0h0M330.2 401.0h0M337.1 408.5h0M337.5 423.2h0M333.3 421.3h0M337.2 403.3h0M345.0 274.8h0M326.7 377.0h0M336.8 427.6h0M336.3 303.2h0M338.6 328.1h0M335.9 373.8h0M339.1 368.7h0M333.7 288.3h0M336.4 430.3h0M332.9 394.3h0M332.3 412.2h0M349.4 311.9h0M336.2 404.9h0M336.2 424.7h0M341.6 346.7h0M320.3 331.5h0M337.7 418.0h0M334.3 374.3h0M321.0 351.8h0M330.2 376.2h0M325.1 306.6h0M336.4 423.8h0M335.1 386.7h0M328.8 338.6h0M336.5 421.2h0M318.8 331.5h0M334.8 306.0h0M337.2 407.5h0M332.8 287.9h0M337.7 386.9h0M334.5 375.5h0M344.0 274.9h0M330.7 261.5h0M346.1 354.9h0M346.0 376.0h0M342.1 324.0h0M320.8 309.0h0M333.3 294.4h0M327.3 363.5h0M338.2 389.2h0M330.6 305.2h0M324.8 343.0h0M334.7 376.9h0M350.6 341.8h0M333.8 332.0h0M330.7 357.5h0M321.7 281.3h0M330.6 302.7h0M343.1 326.1h0M331.8 374.7h0M345.5 286.7h0M343.2 374.3h0M315.0 307.1h0M341.3 326.3h0M333.8 293.4h0M335.0 398.9h0M355.5 294.2h0M342.1 324.1h0M312.4 305.6h0M338.2 410.1h0M342.4 353.3h0M330.3 359.8h0M336.0 433.9h0M335.3 417.1h0M338.0 393.2h0M335.5 435.9h0M344.3 314.4h0M332.7 392.6h0M335.3 392.7h0M338.4 346.0h0M340.2 300.7h0M318.5 336.8h0M337.8 310.5h0M336.5 340.2h0M339.5 263.0h0M345.5 313.9h0M327.4 388.4h0M335.2 432.8h0M335.2 428.8h0M338.1 356.5h0M350.2 317.1h0M323.1 297.3h0M340.0 263.0h0M338.7 397.1h0M335.4 433.6h0M325.7 377.2h0M342.5 391.0h0M335.0 269.7h0M357.6 292.6h0M334.9 419.2h0M340.7 265.7h0M336.9 304.0h0M339.9 301.7h0M331.4 392.0h0M327.8 305.3h0M342.2 396.4h0M329.0 379.4h0M330.5 299.6h0M320.9 312.2h0M339.6 411.3h0M332.0 416.0h0M327.9 330.8h0M329.6 391.6h0M335.5 416.2h0M332.8 414.9h0M337.2 417.2h0M320.2 286.6h0M346.4 267.0h0M325.1 331.3h0M336.1 421.0h0M335.4 434.4h0M355.8 298.0h0M336.1 372.5h0M326.1 276.2h0M334.0 406.5h0M334.5 423.8h0M335.6 434.9h0M325.4 351.5h0M331.2 400.4h0M336.9 373.8h0M336.5 426.6h0M343.5 390.5h0M325.5 345.3h0M340.4 319.4h0M340.1 372.9h0M332.1 339.9h0M335.2 427.0h0M342.8 372.8h0M336.3 410.8h0M339.5 357.4h0M335.6 436.3h0M344.1 309.5h0M338.9 289.2h0M335.6 292.0h0M327.0 359.6h0M346.3 355.0h0M329.8 402.9h0M336.9 396.2h0M341.7 279.7h0M333.8 421.5h0M337.6 292.1h0M330.5 297.3h0M354.0 272.0h0M331.0 409.7h0M330.9 319.8h0M348.0 352.3h0M334.8 260.4h0M335.3 433.0h0M342.1 371.5h0M343.7 384.2h0M348.3 344.5h0M333.5 293.1h0M319.0 329.6h0M321.1 291.9h0M334.0 409.3h0M343.4 360.3h0M338.0 307.4h0M341.0 292.2h0M323.4 268.9h0M331.7 334.3h0M321.0 313.6h0M350.5 332.1h0M328.5 363.2h0M341.2 358.5h0M337.6 397.2h0M337.3 355.0h0M328.7 278.1h0M337.4 338.3h0M331.8 383.6h0M330.0 329.5h0M352.5 305.8h0M336.7 419.6h0M327.6 383.1h0M332.1 296.1h0M341.3 316.8h0M314.8 275.5h0M331.0 409.6h0M316.4 299.6h0M335.1 381.7h0M334.9 394.1h0M340.1 374.3h0M321.2 278.0h0M337.7 424.0h0M341.9 353.6h0M329.6 380.2h0M327.5 283.4h0M325.7 348.6h0M338.4 286.9h0M346.5 275.4h0M339.4 403.6h0M339.0 316.2h0M328.9 344.8h0M334.1 423.0h0M335.9 432.2h0M337.3 416.0h0M340.1 403.7h0M340.4 389.5h0M348.4 291.5h0M336.5 297.3h0M349.9 303.1h0M333.1 296.2h0M329.0 383.4h0M334.1 384.8h0M336.2 359.6h0M339.2 409.3h0M337.3 358.3h0M334.3 309.2h0M319.8 349.3h0M342.1 281.5h0M337.9 272.2h0M335.8 416.7h0M354.6 291.7h0M335.4 400.3h0M328.3 367.1h0M344.4 370.0h0M320.9 338.9h0M331.8 381.0h0M332.9 405.2h0M344.9 350.8h0M336.1 423.5h0M337.2 370.1h0M344.6 378.4h0M335.5 436.4h0M314.1 303.6h0M338.7 339.7h0M332.8 352.8h0M340.0 398.2h0M322.3 274.9h0M339.4 403.7h0M335.6 428.4h0M339.1 380.5h0M339.8 266.5h0M331.5 385.2h0M327.4 305.4h0M332.3 290.2h0M322.9 343.2h0M329.8 305.7h0M341.4 358.8h0M330.7 360.2h0M343.4 382.9h0M328.1 335.3h0M350.4 268.5h0M354.8 312.8h0M332.4 392.0h0M344.7 332.1h0M338.4 341.7h0M341.3 327.9h0M332.6 311.1h0M349.4 345.9h0M336.0 261.7h0M342.5 374.6h0M319.7 342.0h0M324.0 268.6h0M344.5 291.0h0M335.6 428.2h0M328.6 298.9h0M345.5 293.3h0M335.1 322.2h0M334.5 421.4h0M324.9 315.7h0M348.1 275.5h0M328.2 277.0h0M336.2 367.3h0M340.6 386.3h0M339.1 404.0h0M337.7 384.7h0M340.1 344.6h0M332.1 327.0h0M348.6 350.9h0M332.2 349.6h0M317.1 333.7h0M334.3 419.6h0M334.6 385.7h0M335.1 431.1h0M318.6 268.7h0M338.5 408.9h0M341.7 366.5h0M334.5 377.5h0M329.6 372.5h0M315.4 271.4h0M331.1 402.0h0M328.6 268.8h0M336.9 280.4h0M340.0 357.1h0M336.3 424.5h0M325.6 313.5h0M327.9 318.1h0M336.0 412.4h0M340.1 338.9h0M346.7 280.5h0M337.4 380.6h0M313.9 315.3h0M317.6 295.2h0M333.5 396.3h0M320.4 325.4h0M354.0 299.4h0M337.7 361.6h0M333.0 394.7h0M337.1 422.8h0M345.8 281.1h0M327.0 282.4h0M331.6 400.2h0M336.1 429.6h0M344.5 365.6h0M358.2 287.7h0M334.1 412.2h0M335.3 435.1h0M338.2 345.8h0M313.0 282.1h0M312.9 313.1h0M327.3 359.8h0M325.2 337.3h0M334.8 262.3h0M329.4 341.4h0M335.8 433.4h0M342.4 380.9h0M342.0 392.1h0M317.8 309.1h0M335.4 399.1h0M332.6 339.9h0M341.0 389.0h0M314.9 273.5h0M347.7 322.7h0M330.1 392.3h0M332.3 402.5h0M327.5 360.9h0M331.5 377.1h0M330.2 283.8h0M337.5 351.0h0M328.8 387.3h0M321.3 289.8h0M335.5 430.6h0M330.4 381.9h0M344.6 312.4h0M329.3 286.2h0M332.2 341.8h0M347.5 357.8h0M335.7 432.3h0M333.8 423.6h0M332.5 373.2h0M335.5 381.0h0M350.3 267.5h0M334.2 338.4h0M320.9 352.3h0M343.7 306.0h0M346.3 339.4h0M325.0 293.6h0M335.6 426.8h0M337.2 340.1h0M335.7 402.7h0M317.9 325.1h0M347.4 356.0h0M346.3 301.3h0M336.4 425.3h0M339.5 376.2h0M330.4 270.2h0M337.0 326.9h0M333.5 283.8h0M321.8 308.5h0M351.4 322.6h0M344.5 294.3h0M337.3 380.0h0M325.7 364.8h0M333.9 421.9h0M335.2 416.0h0M343.9 334.9h0M336.2 375.2h0M351.6 331.1h0M339.0 380.3h0M353.1 319.8h0M332.1 342.8h0M335.7 431.2h0M333.8 339.4h0M347.8 291.3h0M332.4 404.0h0M319.1 280.2h0M340.0 341.3h0M343.9 386.8h0M316.1 294.7h0M331.2 263.3h0M334.8 404.9h0M333.9 416.0h0M335.9 431.4h0M334.6 370.6h0M321.9 309.3h0M331.7 354.1h0M338.5 376.6h0M340.6 405.6h0M328.0 266.9h0M332.1 377.0h0M317.5 292.3h0M327.2 300.4h0M340.2 358.4h0M340.7 375.5h0M341.6 288.5h0M336.9 418.4h0M338.2 394.6h0M330.9 336.7h0M329.2 371.5h0M331.8 324.2h0M330.8 401.5h0M338.1 384.1h0M334.4 398.1h0M325.0 303.4h0M336.6 406.0h0M324.1 291.9h0M328.4 363.5h0M332.4 414.7h0M328.5 290.0h0M334.0 357.2h0M329.0 366.0h0M333.1 342.6h0M342.4 383.7h0M349.5 267.0h0M338.6 414.8h0M338.8 384.3h0M335.3 362.7h0M337.4 378.7h0M335.3 431.2h0M323.5 368.1h0M333.9 294.8h0M334.0 428.8h0M322.3 346.0h0M329.8 289.1h0M337.3 269.3h0M333.4 407.8h0M338.7 400.7h0M325.5 294.0h0M330.6 372.6h0M351.1 309.0h0M325.5 268.9h0M337.6 415.4h0M333.9 373.7h0M332.3 416.8h0M334.6 430.9h0M341.5 312.4h0M330.6 342.5h0M336.4 333.6h0M333.4 411.3h0M335.5 436.5h0M327.9 316.5h0M339.2 321.9h0M335.6 434.2h0M335.1 431.4h0M332.7 336.6h0M331.3 297.9h0M335.5 433.2h0M342.5 273.5h0M342.3 337.8h0M326.5 358.6h0M335.9 433.9h0M340.8 349.4h0M344.0 328.4h0M330.4 330.6h0M340.4 273.2h0M333.1 404.9h0M330.6 291.7h0M344.6 376.1h0M335.2 395.8h0M335.9 432.2h0M336.4 394.3h0M327.9 340.1h0M346.8 282.7h0M331.7 361.6h0M339.0 411.5h0M335.0 400.0h0M325.9 355.2h0M357.9 308.4h0M334.4 292.6h0M326.9 338.5h0M340.1 407.7h0M342.1 274.2h0M336.4 419.0h0M331.2 279.2h0M336.4 298.3h0M334.6 300.4h0M335.0 431.9h0M342.2 395.9h0M337.7 417.1h0M335.8 433.8h0M336.6 303.3h0M336.7 416.1h0M353.4 277.1h0M347.0 365.4h0M328.0 370.6h0M337.2 343.1h0M338.8 336.5h0M324.5 283.4h0M326.8 369.4h0M337.1 287.3h0M342.9 359.2h0M345.8 312.4h0M335.8 433.4h0M335.8 357.9h0M347.6 325.7h0M335.2 377.8h0M341.8 337.7h0M336.9 403.4h0M337.9 418.3h0M326.6 281.3h0M360.5 280.0h0M334.1 418.1h0M339.0 303.9h0M335.4 433.4h0M344.9 290.5h0M337.9 410.3h0M341.0 334.9h0M345.7 348.9h0M322.9 311.1h0M345.5 302.3h0M339.1 352.9h0M335.9 417.7h0M331.1 299.2h0M333.3 386.2h0M333.9 411.0h0M338.9 383.8h0M339.9 345.3h0M335.9 433.2h0M332.0 288.3h0M344.9 385.6h0M325.9 311.5h0M350.0 291.4h0M337.4 339.9h0M335.6 420.7h0M341.2 396.0h0M355.1 271.7h0M334.9 432.3h0M344.0 385.9h0M331.5 345.7h0M341.3 356.2h0M336.7 423.1h0M332.7 404.4h0M346.6 304.5h0M334.1 386.4h0M333.0 337.6h0M340.4 383.1h0M318.0 293.1h0M337.3 420.4h0M338.8 377.1h0M323.3 313.7h0M336.6 420.1h0M329.2 373.8h0M348.4 300.6h0M345.6 329.0h0M333.0 407.7h0M340.8 314.6h0M329.2 369.5h0M352.4 303.7h0M325.3 286.2h0M332.9 366.2h0M336.7 417.5h0M336.4 411.7h0M341.6 293.6h0M333.8 390.1h0M334.7 428.9h0M339.5 404.1h0M350.4 343.7h0M335.5 435.8h0M334.9 344.7h0M339.8 341.7h0M347.5 306.6h0M337.5 399.2h0M330.3 399.2h0M331.2 333.8h0M333.6 376.3h0M335.7 428.3h0M330.3 321.4h0M336.3 400.6h0M320.0 270.7h0M333.8 425.4h0M337.3 406.3h0M310.7 287.4h0M350.3 339.2h0M335.1 405.4h0M335.6 352.2h0M331.9 320.1h0M338.1 343.0h0M323.4 272.0h0M335.2 418.2h0M335.6 421.4h0M335.7 281.3h0M340.7 381.3h0M337.8 354.4h0M351.0 301.7h0M351.9 316.7h0M336.5 294.8h0M323.9 263.9h0M329.3 295.1h0M321.3 284.7h0M344.0 372.6h0M336.4 424.9h0M358.1 282.1h0M329.7 363.2h0M334.6 413.9h0M334.2 405.6h0M327.9 388.0h0M339.7 355.1h0M342.7 338.1h0M344.0 348.7h0M332.9 364.3h0M334.8 286.2h0M337.9 412.4h0M337.3 406.1h0M338.8 361.0h0M329.0 352.2h0M337.6 390.2h0M331.8 406.9h0M335.5 435.1h0M335.4 421.0h0M336.1 407.1h0M335.4 296.8h0M335.0 362.1h0M334.6 416.4h0M344.0 306.4h0M335.4 412.7h0M316.8 325.2h0M346.9 299.0h0M350.8 271.3h0M338.4 303.8h0M356.5 282.2h0M336.3 429.1h0M327.1 387.1h0M317.7 267.7h0M337.2 356.3h0M331.9 389.8h0M327.1 325.5h0M336.7 267.5h0M329.7 358.5h0M339.6 360.9h0M340.0 368.6h0M326.8 310.6h0M335.4 435.7h0M320.0 302.5h0M336.6 318.5h0M347.7 283.4h0M341.3 375.6h0M352.1 345.3h0M336.0 429.3h0M325.9 371.7h0M337.2 426.5h0M339.1 300.6h0M316.4 323.9h0M337.2 379.5h0M333.3 374.4h0M340.8 325.8h0M352.4 341.5h0M343.7 356.6h0M323.9 362.0h0M345.5 271.3h0M332.7 395.9h0M337.1 424.6h0M352.9 331.0h0M343.8 348.4h0M325.4 301.2h0M332.2 302.7h0M325.3 321.3h0M335.3 384.1h0M325.7 300.4h0M319.5 280.3h0M337.7 410.3h0M329.6 390.4h0M343.1 348.9h0M326.0 368.5h0M341.4 379.6h0M331.4 308.8h0M337.5 412.9h0M335.5 426.0h0M338.6 409.3h0M339.1 289.1h0M332.2 416.4h0M316.3 283.8h0M334.7 395.5h0M345.2 310.4h0M337.1 394.1h0M322.9 289.3h0M335.0 385.4h0M319.7 277.6h0M317.3 323.5h0M336.4 358.6h0M337.2 414.5h0M336.4 419.5h0M338.2 372.3h0M349.2 273.2h0M321.6 295.3h0M334.6 371.9h0M332.4 378.1h0M340.6 317.8h0M331.8 410.2h0M335.9 427.9h0M327.3 371.4h0M332.3 401.6h0M317.7 290.5h0M338.8 338.5h0M316.2 321.5h0M347.1 290.7h0M324.1 320.8h0M346.7 322.8h0M335.7 430.4h0M326.9 307.1h0M344.9 278.7h0M341.8 315.9h0M345.6 353.0h0M334.3 310.3h0M342.8 294.3h0M338.0 308.1h0M336.1 427.9h0M333.2 370.3h0M335.8 347.7h0M330.7 401.2h0M334.5 380.2h0M341.5 373.2h0M350.2 336.2h0M335.4 428.4h0M330.1 386.8h0M319.9 312.8h0M321.9 272.9h0M346.3 299.7h0M335.2 411.5h0M321.5 300.8h0M321.8 352.2h0M324.0 278.7h0M343.8 367.5h0M337.3 356.8h0M337.8 414.9h0M336.0 382.8h0M319.6 345.6h0M315.5 319.3h0M338.5 386.4h0M337.1 318.1h0M337.3 338.2h0M336.9 381.0h0M332.4 281.1h0M312.6 286.0h0M338.4 392.6h0M333.2 297.3h0M336.6 381.2h0M349.7 295.9h0M336.3 431.3h0M320.7 341.2h0M335.5 435.9h0M336.9 427.9h0M343.2 321.4h0M344.3 265.5h0M325.0 370.9h0M329.9 393.5h0M332.2 410.2h0M335.4 430.3h0M340.6 362.2h0M332.1 340.3h0M332.3 405.6h0M335.2 365.5h0M336.2 408.8h0M334.4 424.1h0M322.2 263.4h0M338.9 400.5h0M336.1 430.8h0M333.5 404.6h0M338.7 264.9h0M345.5 352.0h0M332.0 404.9h0M332.2 400.5h0M329.6 382.9h0M338.5 317.7h0M339.9 399.4h0M336.3 273.9h0M333.2 423.3h0M346.5 266.2h0M337.9 409.4h0M340.3 319.0h0M341.3 404.7h0M347.0 363.4h0M345.0 343.6h0M346.4 348.4h0M336.1 316.0h0M330.2 302.8h0M353.6 312.8h0M354.3 315.5h0M328.4 392.2h0M346.0 351.6h0M334.0 279.4h0M317.7 319.9h0M347.9 335.6h0M334.1 310.1h0M334.2 266.6h0M340.4 371.3h0M345.9 299.1h0M329.1 328.0h0M335.7 314.3h0M335.9 434.0h0M354.5 312.4h0M332.1 267.9h0M353.7 292.9h0M333.1 355.4h0M336.1 423.1h0M336.7 333.0h0M343.5 379.7h0M328.2 269.3h0M338.5 360.1h0M322.1 331.1h0M317.3 298.0h0M337.1 365.6h0M334.9 363.8h0M335.5 433.3h0M346.0 315.9h0M336.9 302.5h0M326.4 356.1h0M335.6 385.6h0M334.1 381.4h0M323.4 323.9h0M335.8 432.0h0M345.2 382.9h0M336.2 397.1h0M334.4 407.1h0M336.4 407.6h0M331.5 350.0h0M342.8 330.2h0M331.0 309.4h0M343.5 362.6h0M323.5 365.8h0M335.9 414.8h0M332.2 295.4h0M337.4 387.2h0M326.3 334.8h0M334.5 347.8h0M330.3 370.5h0M334.6 387.8h0M343.8 378.9h0M337.5 424.8h0M335.6 434.4h0M336.0 429.3h0M326.7 310.9h0M334.3 405.3h0M332.5 278.9h0M339.8 344.7h0M320.9 319.2h0M318.8 281.0h0M320.8 272.0h0M338.5 397.6h0M357.4 307.3h0M342.0 322.6h0M347.4 318.2h0M325.0 271.3h0M337.2 338.5h0M338.3 387.9h0M332.5 341.8h0M345.1 332.2h0M322.5 350.8h0M331.9 382.0h0M329.0 314.5h0M326.5 370.1h0M334.4 339.7h0M336.5 406.1h0M338.7 411.1h0M336.3 403.7h0M341.7 346.0h0M338.3 365.8h0M331.2 362.9h0M335.9 416.2h0M335.3 432.9h0M330.1 333.3h0M339.3 345.8h0M334.8 317.8h0M346.0 364.4h0M340.7 400.6h0M330.7 336.5h0M353.5 327.3h0M350.8 337.3h0M343.9 275.8h0M337.9 381.1h0M325.5 354.5h0M337.2 342.8h0M326.7 329.8h0M352.5 275.7h0M343.7 353.9h0M317.6 315.1h0M324.8 269.3h0M336.1 364.7h0M337.8 418.1h0M334.2 425.7h0M320.0 278.2h0M349.7 346.2h0M336.9 418.3h0M316.9 281.9h0M321.7 303.8h0M332.4 270.1h0M331.8 300.5h0M325.6 360.0h0M336.4 276.1h0M331.5 408.7h0M335.8 403.6h0M335.2 421.9h0M335.6 434.5h0M327.4 324.9h0M340.4 285.0h0M335.2 421.9h0M335.9 434.3h0M328.2 295.0h0M337.1 365.3h0M343.2 383.6h0M329.7 399.3h0M326.2 331.3h0M343.4 346.0h0M330.7 276.2h0M335.2 396.6h0M336.4 429.8h0M333.9 425.4h0M340.8 269.0h0M324.1 338.1h0M330.8 350.5h0M338.1 399.1h0M339.0 261.0h0M336.2 428.1h0M327.2 284.6h0M334.1 306.9h0M335.0 428.1h0M353.9 288.8h0M335.4 426.9h0M325.6 307.9h0M326.7 327.5h0M318.9 326.1h0M351.0 265.7h0M332.6 264.0h0M342.3 396.3h0M329.6 393.7h0M346.7 271.5h0M332.8 264.2h0M348.9 334.2h0M336.5 429.6h0M334.1 287.0h0M337.1 363.1h0M332.2 272.7h0M341.5 305.9h0M353.3 329.4h0M335.7 432.7h0M329.8 361.2h0M347.8 289.2h0M333.6 367.1h0M328.1 389.1h0M329.6 388.6h0M335.9 402.0h0M328.5 320.3h0M341.7 393.9h0M336.5 420.8h0M333.4 414.1h0M316.1 317.3h0M319.7 338.5h0M337.1 334.5h0M344.0 372.6h0M333.9 425.8h0M335.5 435.5h0M332.2 414.4h0M332.9 388.2h0M336.4 412.3h0M340.4 369.8h0M337.7 326.6h0M335.5 418.6h0M331.4 276.8h0M342.3 396.1h0M346.0 367.1h0M334.6 421.5h0M335.2 412.9h0M338.4 378.8h0M349.7 333.9h0M339.8 385.8h0M334.0 409.1h0M327.3 328.2h0M352.9 297.9h0M326.0 299.6h0M336.3 421.8h0M336.6 408.1h0M324.7 347.2h0M336.2 421.8h0M337.0 272.1h0M350.2 311.4h0M321.1 334.8h0M338.7 370.4h0M331.6 408.6h0M338.0 409.8h0M347.8 363.0h0M337.7 285.3h0M315.7 281.2h0M338.1 266.4h0M332.2 411.5h0M335.2 420.3h0M334.2 308.8h0M337.3 291.2h0M335.8 344.3h0M335.5 408.6h0M319.5 324.8h0M331.7 407.9h0M350.6 309.2h0M346.6 344.7h0M340.4 408.9h0M349.3 335.6h0M321.8 322.6h0M335.1 414.8h0M329.0 343.9h0M327.0 372.7h0M328.4 316.5h0M335.5 436.4h0M331.6 290.5h0M344.9 369.7h0M335.0 352.2h0M318.4 335.9h0M335.4 434.5h0M336.4 401.5h0M311.0 299.4h0M357.8 289.0h0M336.4 428.4h0M338.7 297.6h0M334.5 386.7h0M330.7 401.8h0M323.5 350.3h0M348.0 280.8h0M334.9 425.3h0M330.4 375.0h0M330.9 394.7h0M344.4 341.5h0M331.0 397.4h0M336.8 399.3h0M333.3 413.3h0M339.7 399.2h0M348.0 316.1h0M332.7 408.3h0M332.3 393.8h0M342.6 294.4h0M337.7 350.9h0M337.7 407.7h0M326.9 336.1h0M332.3 262.2h0M334.8 406.7h0M316.6 297.9h0M333.2 417.3h0M334.8 431.1h0M356.9 303.6h0M323.6 300.3h0M328.6 391.4h0M340.7 354.4h0M341.9 368.2h0M330.4 393.3h0M335.1 395.0h0M345.9 319.4h0M347.1 284.3h0M336.3 420.9h0M338.7 291.2h0M327.2 308.4h0M336.7 381.7h0M341.9 330.6h0M333.8 418.4h0M329.0 286.9h0M337.1 421.9h0M335.5 435.6h0M334.2 401.5h0M325.2 367.9h0M334.2 385.7h0M335.1 429.4h0M335.5 432.2h0M330.7 381.0h0M332.4 361.3h0M346.2 305.9h0M326.9 262.1h0M334.4 422.7h0M336.4 423.1h0M339.2 347.4h0M331.4 328.5h0M350.3 320.4h0M331.9 342.8h0M341.2 381.7h0M332.7 339.9h0M335.5 431.1h0M328.4 328.4h0M333.1 342.6h0M339.9 380.0h0M332.8 319.4h0M324.9 287.9h0M333.4 384.0h0M335.9 271.1h0M341.1 262.9h0M353.0 278.0h0M342.2 346.9h0M339.3 354.5h0M336.8 424.9h0M344.8 299.7h0M334.9 428.1h0M325.8 375.7h0M334.4 287.6h0M348.9 325.1h0M324.6 373.1h0M336.3 335.1h0M355.5 273.2h0M340.1 346.9h0M324.5 333.9h0M335.7 431.1h0M344.0 324.7h0M344.5 320.8h0M333.0 411.8h0M337.3 413.4h0M332.9 263.0h0M346.8 358.1h0M329.4 263.2h0M335.9 381.7h0M340.2 396.4h0M342.6 389.9h0M337.4 384.8h0M336.8 322.7h0M337.0 361.4h0M332.9 312.5h0M353.9 290.0h0M336.9 421.8h0M329.9 337.0h0M319.7 268.7h0M336.1 287.2h0M347.1 348.0h0M326.9 309.3h0M338.0 412.9h0M340.9 315.8h0M329.1 291.2h0M320.0 328.3h0M335.1 430.6h0M332.3 410.7h0M349.9 306.1h0M342.2 274.5h0M335.6 433.8h0M345.4 309.9h0M325.3 285.4h0M348.2 315.0h0M328.9 365.0h0M336.6 412.6h0M344.0 317.7h0M336.3 420.1h0M344.1 344.0h0M325.4 357.5h0M344.2 358.2h0M337.4 411.1h0M327.6 303.2h0M337.5 370.1h0M330.9 273.8h0M340.0 303.7h0M346.7 339.1h0M337.4 396.8h0M323.1 306.6h0M335.4 333.9h0M327.2 266.2h0M334.2 401.7h0M339.8 299.5h0M343.2 338.6h0M342.2 385.5h0M342.1 292.2h0M330.0 388.6h0M329.7 367.9h0M338.1 397.4h0M335.2 321.1h0M319.3 317.1h0M349.3 266.6h0M333.6 356.4h0M339.0 391.2h0M334.4 370.6h0M330.8 401.9h0M326.4 306.4h0M334.4 378.8h0M338.8 412.6h0M341.1 337.5h0M327.6 267.5h0M335.8 431.9h0M354.5 306.3h0M336.4 264.1h0M338.6 289.3h0M326.9 380.8h0M356.3 316.5h0M341.2 323.3h0M335.1 434.1h0M340.6 328.1h0M342.1 331.1h0M338.8 334.7h0M335.6 414.4h0M336.9 383.5h0M338.8 351.7h0M346.7 311.5h0M346.4 333.5h0M322.8 305.8h0M335.4 425.0h0M346.9 282.6h0M334.2 424.9h0M336.5 411.5h0M331.8 270.2h0M339.3 400.1h0M341.1 297.5h0M337.8 346.6h0M333.6 313.4h0M327.0 281.8h0M336.3 357.7h0M353.8 304.5h0M334.6 391.2h0M332.4 401.4h0M337.6 401.0h0M334.9 420.6h0M336.7 353.0h0M344.0 374.3h0M336.9 328.6h0M333.2 336.4h0M333.0 410.8h0M329.5 314.7h0M340.3 377.8h0M339.0 350.9h0M338.9 377.2h0M349.3 289.5h0M335.2 423.9h0M335.9 365.1h0M335.4 358.6h0M315.5 292.9h0M352.4 283.7h0M330.0 384.8h0M333.5 307.5h0M337.6 339.6h0M331.7 382.4h0M328.4 395.1h0M336.7 391.5h0M337.6 391.3h0M332.0 401.1h0M336.3 370.5h0M330.0 264.5h0M331.8 358.7h0M326.8 372.8h0M346.8 299.4h0M336.4 401.4h0M360.2 295.5h0M337.7 348.3h0M335.1 425.2h0M329.0 296.9h0M319.9 302.6h0M335.4 433.5h0M336.5 410.0h0M336.6 386.0h0M332.5 283.3h0M334.9 398.3h0M328.0 281.4h0M317.2 318.5h0M329.8 318.0h0M337.0 379.1h0M333.6 395.4h0M334.0 392.3h0M328.4 333.4h0M326.1 373.8h0M344.9 377.1h0M342.4 353.2h0M335.2 412.1h0M344.4 373.9h0M337.5 372.0h0M335.2 321.5h0M339.2 414.3h0M335.4 433.6h0M333.4 270.1h0M347.5 314.5h0M351.3 275.1h0M345.9 331.7h0M335.8 434.3h0M336.8 327.6h0M330.5 376.2h0M335.7 361.4h0M335.9 361.6h0M341.0 325.7h0M333.6 393.9h0M331.3 403.4h0M349.7 313.4h0M334.0 411.1h0M339.8 348.6h0M331.8 397.5h0M329.7 275.8h0M335.0 407.0h0M328.5 296.3h0M343.7 320.3h0M335.5 426.2h0M351.7 306.7h0M333.7 395.4h0M336.9 401.1h0M332.4 383.7h0M330.3 374.6h0M342.2 345.7h0M341.4 269.7h0M341.7 340.4h0M320.2 341.2h0M344.7 278.8h0M339.2 379.8h0M331.4 321.8h0M334.2 410.9h0M333.8 377.0h0M330.1 364.8h0M323.5 363.8h0M336.7 420.3h0M332.9 326.8h0M332.6 420.5h0M348.4 265.2h0M337.6 423.9h0M335.4 434.6h0M334.6 362.3h0M337.6 268.6h0M342.7 346.6h0M323.5 352.7h0M351.7 310.7h0M325.4 369.6h0M337.2 401.9h0M335.4 435.2h0M336.2 308.3h0M341.6 334.2h0M337.8 399.6h0M312.8 293.7h0M342.7 328.4h0M344.8 376.3h0M344.7 332.9h0M350.3 326.2h0M334.4 407.1h0M325.5 281.6h0M337.5 266.8h0M325.7 344.8h0M353.6 305.5h0M329.7 334.1h0M327.0 357.2h0M344.0 314.7h0M343.3 375.9h0M336.3 428.4h0M329.8 348.7h0M335.1 288.6h0M331.4 394.4h0M327.6 351.4h0M327.9 368.8h0M345.2 352.7h0M321.9 292.5h0M338.2 350.8h0M335.9 427.9h0M344.0 349.1h0M343.2 267.6h0M340.5 395.8h0M334.7 384.0h0M334.3 416.7h0M337.8 274.0h0M317.0 283.0h0M341.1 393.8h0M338.4 356.1h0M334.5 405.2h0M325.4 318.4h0M340.4 401.2h0M329.6 266.0h0M346.8 305.5h0M333.9 412.6h0M344.3 282.1h0M335.3 427.8h0M339.7 389.4h0M316.2 296.8h0M331.9 387.0h0M337.7 404.0h0M342.4 398.0h0M341.7 386.5h0M329.1 394.5h0M327.7 323.1h0M337.1 295.9h0M331.9 381.0h0M341.1 351.1h0M334.3 315.4h0M339.9 401.3h0M323.5 326.9h0M323.8 353.6h0M349.9 310.1h0M350.5 344.8h0M348.3 345.1h0M352.4 325.5h0M343.6 352.3h0M355.9 304.3h0M344.4 361.1h0M339.2 290.7h0M335.3 433.7h0M337.8 379.9h0M311.7 305.8h0M331.4 408.2h0M328.1 327.2h0M333.5 408.4h0M338.9 394.6h0M334.9 389.9h0M336.1 369.4h0M336.9 421.3h0M346.5 270.7h0M360.4 293.2h0M320.1 295.0h0M332.0 410.4h0M317.6 293.0h0M334.1 420.3h0M333.5 425.3h0M345.4 295.1h0M336.6 365.3h0M337.5 391.4h0M343.6 345.0h0M331.3 398.5h0M325.3 266.1h0M332.6 408.0h0M323.7 345.8h0M340.1 294.1h0M337.3 349.5h0M336.6 429.2h0M340.2 377.7h0M340.3 266.5h0M334.0 400.6h0M347.1 357.8h0M345.4 262.9h0M339.0 360.1h0M337.1 417.4h0M336.7 269.6h0M356.1 291.2h0M328.1 350.1h0M311.7 299.3h0M331.7 389.5h0M347.2 340.1h0M337.4 412.6h0M335.3 421.0h0M345.7 334.6h0M326.9 354.3h0M326.5 275.6h0M341.2 391.4h0M338.7 294.8h0M339.0 390.0h0M346.2 359.4h0M343.9 356.1h0M332.8 382.8h0M320.8 288.8h0M341.3 310.4h0M342.5 282.3h0M324.8 298.4h0M327.8 326.1h0M332.3 391.4h0M345.1 280.0h0M337.7 334.2h0M321.3 355.5h0M335.5 434.3h0M311.9 276.7h0M341.1 336.2h0M310.2 299.0h0M335.1 431.5h0M348.1 352.7h0M360.5 278.0h0M331.5 382.8h0M321.5 351.9h0M328.2 291.8h0M346.2 317.1h0M345.3 305.4h0M313.7 274.8h0M346.4 319.4h0M335.5 357.0h0M345.5 362.1h0M342.2 365.6h0M334.8 431.3h0M331.1 304.0h0M324.5 334.9h0M334.7 431.1h0M328.8 339.1h0M341.9 393.1h0M337.7 405.1h0M340.8 393.9h0M340.2 396.1h0M330.4 306.7h0M354.6 313.8h0M335.5 436.5h0M332.9 356.5h0M325.7 321.4h0M332.2 387.5h0M339.7 387.7h0M338.4 334.9h0M339.3 369.8h0M333.6 419.8h0M335.4 389.8h0M339.7 403.9h0M335.0 423.2h0M344.8 329.6h0M334.3 356.5h0M333.1 319.3h0M319.5 293.7h0M344.6 343.7h0M329.5 369.3h0M338.2 380.8h0M335.7 434.5h0M340.2 290.7h0M326.1 306.7h0M346.4 264.7h0M322.5 356.2h0M339.9 404.4h0M339.5 348.8h0M316.9 293.3h0M331.2 401.7h0M354.8 309.9h0M329.7 395.0h0M334.3 426.4h0M358.6 276.7h0M333.2 409.1h0M336.0 429.4h0M335.9 387.8h0M332.8 390.8h0M328.8 314.4h0M335.6 395.5h0M333.5 282.1h0M334.4 402.0h0M330.5 383.6h0M337.5 284.3h0M335.6 435.4h0M344.7 360.9h0M328.6 296.0h0M355.9 272.8h0M324.9 355.4h0M326.8 291.9h0M319.1 322.2h0M333.2 393.1h0M338.3 300.2h0M330.9 409.6h0M336.0 340.1h0M338.2 317.6h0M324.0 336.9h0M331.5 388.0h0M326.7 339.6h0M349.4 348.4h0M335.9 392.0h0M338.3 341.1h0M337.6 415.3h0M351.9 316.1h0M334.4 403.8h0M316.9 303.5h0M343.6 365.9h0M334.3 334.8h0M335.0 404.6h0M328.6 294.8h0M323.7 270.5h0M333.8 384.4h0M326.0 369.9h0M334.7 431.3h0M340.3 308.2h0M333.1 375.8h0M329.6 371.7h0M336.7 400.1h0M327.1 378.0h0M335.1 404.4h0M331.3 372.7h0M346.2 309.8h0M335.6 431.3h0M325.1 358.4h0M323.0 320.8h0M331.7 416.3h0M332.9 375.9h0M322.9 278.6h0M343.5 269.6h0M317.7 296.0h0M332.6 344.3h0M340.8 328.7h0M322.5 302.3h0M335.8 408.9h0M334.1 417.4h0M343.1 288.2h0M328.0 380.5h0M342.0 378.7h0M354.5 327.4h0M332.8 272.0h0M328.1 390.4h0M322.6 345.3h0M326.3 327.1h0M335.8 433.4h0M322.6 278.3h0M337.9 308.4h0M335.4 388.3h0M338.8 410.5h0M334.4 429.1h0M333.5 421.6h0M339.0 318.3h0M342.8 331.7h0M338.4 349.8h0M321.3 351.6h0M330.4 396.5h0M329.4 337.1h0M347.5 365.2h0M332.1 329.8h0M336.3 414.3h0M341.9 360.2h0M336.1 423.2h0M335.8 419.4h0M334.1 399.7h0M328.7 365.6h0M336.5 412.1h0M335.0 427.3h0M316.3 279.8h0M336.7 417.4h0M329.1 386.2h0M331.3 288.8h0M341.2 270.9h0M335.6 432.3h0M337.8 362.6h0M335.7 425.7h0M320.4 292.0h0M338.1 332.0h0M336.6 419.0h0M334.1 296.0h0M332.8 380.3h0M326.8 378.5h0M335.7 398.7h0M341.4 279.6h0M334.9 430.8h0M338.8 321.2h0M333.2 411.8h0M330.2 322.6h0M339.7 393.0h0M343.3 387.9h0M318.3 300.3h0M349.9 325.8h0M331.9 413.6h0M336.7 416.1h0M337.0 389.7h0M334.9 419.0h0M328.3 368.1h0M326.6 312.0h0M349.3 325.3h0M325.6 286.2h0M335.0 424.2h0M326.2 298.1h0M334.5 426.1h0M334.7 274.0h0M318.2 308.2h0M331.7 386.5h0M341.6 366.5h0M332.5 396.9h0M332.6 393.6h0M336.5 335.1h0M328.8 268.2h0M332.5 315.1h0M349.0 298.5h0M344.8 331.3h0M349.6 351.1h0M346.8 292.5h0M328.4 326.2h0M335.5 436.5h0M316.7 269.4h0M333.9 397.1h0M335.6 405.8h0M323.5 325.3h0M332.1 393.8h0M334.2 395.0h0M333.8 372.5h0M335.7 378.2h0M334.0 388.2h0M330.9 401.3h0M335.5 436.6h0M334.2 399.9h0M342.0 285.8h0M324.2 361.1h0M331.2 379.0h0M334.5 425.4h0M344.6 321.0h0M327.2 324.6h0M339.2 353.2h0M343.0 263.8h0M352.1 307.4h0M333.1 271.7h0M329.1 347.2h0M341.5 264.0h0M337.7 316.0h0M322.4 299.0h0M323.7 281.9h0M329.3 365.4h0M346.6 330.0h0M335.4 435.2h0M338.1 345.0h0M337.4 347.5h0M335.0 430.3h0M335.3 393.3h0M323.6 310.6h0M332.7 344.3h0M335.5 431.4h0M345.6 290.0h0M340.0 390.7h0M326.0 299.8h0M335.4 434.6h0M351.1 277.8h0M337.6 425.0h0M336.7 423.8h0M354.2 317.7h0M351.1 328.2h0M339.2 383.6h0M324.2 298.2h0M335.5 436.6h0M340.1 308.3h0M342.0 373.2h0M339.7 398.0h0M343.1 310.3h0M344.3 382.3h0M332.3 370.1h0M333.3 415.1h0M340.1 401.9h0M345.8 271.7h0M341.8 345.8h0M332.7 411.0h0M343.7 388.5h0M330.5 366.7h0M338.9 366.0h0M329.5 267.6h0M334.3 292.6h0M335.9 434.5h0M329.4 283.8h0M339.7 406.0h0M336.9 403.6h0M330.8 391.2h0M330.3 293.7h0M330.0 360.9h0M339.9 389.9h0M351.5 332.8h0M326.8 336.1h0M337.8 381.9h0M326.1 383.8h0M335.9 400.7h0M333.4 321.0h0M340.2 382.9h0M347.4 353.2h0M333.4 286.0h0M339.4 384.4h0M336.9 423.4h0M328.0 386.6h0M337.6 379.1h0M322.9 320.7h0M349.0 316.3h0M330.7 369.0h0M332.7 410.4h0M329.5 352.7h0M335.9 311.4h0M330.0 349.8h0M332.8 380.0h0M333.0 402.4h0M314.6 283.3h0M329.2 379.3h0M333.6 361.0h0M342.5 270.3h0M333.5 265.5h0M340.6 372.0h0M329.6 330.9h0M349.5 312.1h0M350.6 304.5h0M334.3 418.6h0M341.9 300.8h0M328.5 352.6h0M316.3 304.3h0M339.6 353.3h0M349.9 323.8h0M331.7 358.9h0M332.5 399.6h0M335.5 432.4h0M316.0 318.8h0M335.3 425.7h0M327.4 326.4h0M342.6 372.1h0M333.8 409.7h0M337.4 413.3h0M341.2 350.2h0M337.5 412.6h0M336.4 426.0h0M335.2 375.9h0M336.4 431.0h0M335.3 428.5h0M357.5 304.4h0M320.0 275.7h0M334.4 416.1h0M323.2 275.9h0M331.8 395.3h0M322.1 298.1h0M331.3 410.4h0M332.5 407.2h0M328.1 389.0h0M331.4 345.1h0M337.2 395.0h0M348.7 307.7h0M335.1 332.3h0M335.5 291.7h0M335.7 404.0h0M329.7 334.8h0M345.6 380.3h0M330.3 387.0h0M332.4 403.7h0M320.9 330.8h0M337.5 390.4h0M335.2 391.7h0M338.2 286.9h0M351.5 303.9h0M345.5 298.0h0M336.9 290.0h0M346.2 338.2h0M330.8 355.0h0M345.0 345.9h0M316.2 319.1h0M335.4 432.6h0M333.0 407.5h0M334.8 408.7h0M331.3 409.4h0M329.6 342.7h0M317.7 273.5h0M313.2 308.8h0M326.8 313.3h0M331.6 348.4h0M343.8 351.5h0M355.2 302.6h0M337.3 378.2h0M335.7 342.2h0M337.2 384.5h0M343.1 391.1h0M335.5 420.3h0M335.8 431.4h0M332.8 377.8h0M350.6 316.1h0M344.4 293.0h0M334.2 396.2h0M354.9 326.5h0M347.7 268.5h0M339.3 415.8h0M348.9 276.4h0M324.9 318.2h0M340.4 265.0h0M324.3 282.9h0M339.4 337.9h0M332.4 419.4h0M315.6 317.1h0M329.3 376.5h0M338.0 418.4h0M322.6 308.1h0M325.1 290.7h0M336.4 343.8h0M347.4 348.9h0M331.4 385.2h0M351.2 331.6h0M336.9 374.3h0M337.7 367.0h0M339.9 270.7h0M334.7 430.7h0M337.4 426.3h0M322.4 337.6h0M329.5 331.7h0M343.3 269.3h0M336.2 386.8h0M338.1 388.2h0M346.3 266.8h0M346.8 357.8h0M338.2 417.5h0M339.7 298.8h0M324.5 334.3h0M335.4 429.3h0M342.6 279.9h0M343.8 270.6h0M347.2 276.3h0M349.3 315.9h0M337.1 376.4h0M339.5 400.2h0M329.0 337.8h0M345.8 331.6h0M336.0 395.9h0M326.7 338.8h0M342.4 297.0h0M334.0 356.0h0M335.9 369.2h0M329.9 361.5h0M325.8 375.2h0M351.1 330.3h0M328.7 303.1h0M320.1 324.5h0M343.2 271.8h0M335.1 431.3h0M334.9 408.7h0M347.7 330.8h0M356.6 281.7h0M327.3 297.9h0M344.0 291.2h0M345.8 288.1h0M336.2 427.8h0M330.1 394.5h0M348.7 331.4h0M340.5 381.9h0M332.2 318.9h0M335.6 360.9h0M352.3 344.8h0M325.8 297.8h0M337.6 279.5h0M335.8 426.7h0M348.6 319.4h0M345.9 326.7h0M336.6 408.7h0M345.9 368.1h0M332.0 397.2h0M332.1 373.4h0M334.6 410.4h0M332.0 260.9h0M333.0 421.3h0M329.9 298.8h0M346.4 360.8h0M340.1 328.3h0M336.7 417.6h0M341.7 379.7h0M334.2 381.1h0M340.8 308.5h0M338.2 389.3h0M331.1 324.2h0M339.6 360.4h0M351.4 302.3h0M337.8 423.5h0M327.1 276.8h0M346.1 309.1h0M337.5 406.6h0M329.8 266.5h0M332.3 400.3h0M343.1 362.2h0M335.5 400.6h0M334.6 388.0h0M336.8 428.2h0M338.8 365.8h0M336.9 314.6h0M325.0 362.9h0M324.2 314.7h0M314.5 308.2h0M331.7 393.9h0M332.4 366.8h0M319.4 300.0h0M331.5 327.9h0M337.3 354.9h0M322.5 265.0h0M336.7 307.6h0M334.8 393.5h0M338.2 412.2h0M334.1 264.8h0M340.3 383.5h0M336.7 396.0h0M339.0 291.9h0M329.2 308.7h0M335.3 347.0h0M333.5 414.2h0M344.7 278.1h0M328.1 329.8h0M336.1 401.6h0M325.0 294.8h0M335.1 330.4h0M320.2 278.0h0M327.4 368.2h0M316.8 328.8h0M335.4 423.6h0M335.3 427.1h0M346.4 291.2h0M326.0 285.2h0M338.8 273.8h0M335.7 376.9h0M318.5 277.0h0M341.5 383.3h0M334.2 324.8h0M343.9 387.6h0M339.1 334.8h0M326.2 338.7h0M339.6 285.9h0M337.5 377.3h0M338.0 414.9h0M345.9 316.7h0M323.0 284.8h0M341.0 338.0h0M347.1 332.3h0M335.3 423.2h0M337.8 416.3h0M337.2 281.0h0M336.5 369.5h0M335.2 426.0h0M323.4 332.6h0M332.8 322.8h0M326.6 287.1h0M339.3 405.8h0M318.3 303.7h0M337.9 309.4h0M335.6 435.1h0M335.4 288.5h0M332.1 375.3h0M328.5 299.9h0M340.7 304.7h0M326.8 339.4h0M332.3 316.3h0M338.4 388.6h0M334.7 390.7h0M345.9 302.1h0M329.3 378.1h0M335.4 270.6h0M332.4 372.1h0M336.8 335.4h0M345.7 379.6h0M337.9 413.0h0M335.0 432.2h0M317.7 314.1h0M342.5 317.3h0M323.1 351.3h0M327.1 286.8h0M327.4 389.5h0M346.3 304.5h0M337.6 421.9h0M332.2 306.6h0M322.8 341.3h0M336.1 411.2h0M334.4 419.6h0M329.3 395.2h0M335.2 428.3h0M311.5 275.6h0M340.3 338.1h0M329.8 352.6h0M336.7 428.7h0M330.0 331.1h0M341.9 385.6h0M329.4 380.9h0M340.4 388.2h0M338.5 274.2h0M324.5 352.6h0M337.0 425.9h0M349.9 314.9h0M331.5 375.9h0M335.2 431.5h0M328.9 375.1h0M326.1 370.0h0M340.2 361.9h0M338.7 418.3h0M344.3 285.7h0M329.8 337.6h0M337.3 348.8h0M326.9 380.6h0M331.2 322.0h0M346.0 341.4h0M320.8 273.7h0M340.5 307.9h0M337.9 419.0h0M338.3 396.7h0M355.3 292.9h0M344.8 335.5h0M357.5 308.0h0M325.8 331.0h0M346.3 356.3h0M344.0 314.3h0M338.6 400.1h0M346.2 346.4h0M334.3 406.8h0M317.4 327.4h0M313.3 287.0h0M353.3 300.1h0M334.2 411.6h0M331.4 350.0h0M335.6 403.0h0M322.2 327.3h0M341.1 330.1h0M328.4 282.0h0M340.3 270.6h0M320.3 299.5h0M338.4 395.7h0M332.1 314.9h0M324.6 321.5h0M331.3 405.5h0M336.7 356.4h0M335.2 434.1h0M335.5 436.1h0M341.1 274.2h0M331.6 363.4h0M333.0 371.4h0M316.6 305.5h0M335.4 433.7h0M323.3 280.4h0M338.9 379.3h0M332.1 330.5h0M334.1 390.4h0M336.1 430.7h0M328.6 389.8h0M336.6 355.0h0M346.1 299.5h0M321.1 285.4h0M335.3 389.7h0M334.7 395.1h0M349.0 352.4h0M332.2 332.7h0M322.1 333.7h0M342.3 265.3h0M318.8 281.2h0M344.0 331.2h0M337.9 418.0h0M336.1 370.6h0M335.0 390.1h0M322.3 268.3h0M328.8 277.3h0M338.7 287.8h0M339.5 410.3h0M325.2 364.4h0M321.4 295.7h0M324.5 353.1h0M339.5 301.3h0M323.6 349.4h0M335.1 429.9h0M333.1 406.9h0M347.0 362.5h0M338.2 376.2h0M334.2 267.2h0M332.3 340.7h0M336.2 398.2h0M332.7 264.2h0M321.3 351.7h0M323.4 269.2h0M326.6 305.2h0M340.9 288.9h0M322.2 313.2h0M336.2 427.5h0M341.2 346.5h0M345.7 311.0h0M325.1 337.0h0M346.7 277.8h0M340.0 379.5h0M334.4 330.0h0M346.3 366.5h0M336.7 422.0h0M341.4 359.9h0M323.4 321.6h0M331.8 379.0h0M315.1 305.9h0M337.4 377.4h0M349.7 353.7h0M326.1 310.0h0M337.5 397.7h0M330.4 289.6h0M336.2 400.2h0M339.3 396.3h0M338.7 414.8h0M339.4 414.0h0M325.2 360.9h0M327.0 301.6h0M328.2 318.4h0M333.4 420.9h0M351.7 320.0h0M330.5 324.3h0M344.6 365.2h0M352.7 284.3h0M333.7 311.0h0M342.9 308.6h0M327.7 365.0h0M321.7 301.4h0M332.5 274.6h0M342.0 310.1h0M338.2 402.7h0M344.9 305.3h0M334.8 394.6h0M331.0 373.3h0M339.5 336.5h0M345.6 322.8h0M337.4 349.5h0M337.5 395.7h0M351.1 271.8h0M343.1 269.9h0M338.6 365.5h0M335.9 367.1h0M336.9 304.2h0M319.8 264.8h0M337.7 336.5h0M335.1 305.2h0M337.7 399.8h0M358.7 286.2h0M323.6 341.0h0M341.9 380.8h0M336.0 409.7h0M333.3 366.4h0M338.6 263.4h0M340.4 402.4h0M343.8 377.4h0M322.7 303.5h0M345.7 368.3h0M332.4 398.6h0M336.0 427.7h0M353.2 308.3h0M332.6 321.3h0M326.4 303.8h0M333.5 268.8h0M326.7 328.6h0M347.0 331.6h0M312.2 294.1h0M332.1 267.3h0M336.0 341.8h0M314.1 295.6h0M336.6 346.2h0M346.1 326.4h0M331.9 280.1h0M339.0 405.9h0M342.0 266.2h0M334.8 293.3h0M346.6 341.6h0M322.0 320.3h0M334.1 407.0h0M332.3 412.4h0M332.4 340.5h0M351.6 292.8h0M350.7 290.3h0M341.7 330.8h0M349.1 305.7h0M345.8 347.2h0M329.8 306.9h0M345.9 337.6h0M319.1 281.5h0M341.7 386.6h0M348.2 294.4h0M335.4 429.7h0M339.1 334.5h0M339.2 403.1h0M340.2 286.5h0M333.5 324.8h0M335.0 370.0h0M353.8 271.4h0M328.5 370.0h0M323.8 264.8h0M339.8 272.0h0M338.7 331.6h0M327.7 271.5h0M350.7 295.4h0M335.7 369.2h0M312.9 307.8h0M336.7 412.3h0M333.3 390.9h0M338.4 397.3h0M319.8 284.5h0M340.2 382.5h0M335.9 428.3h0M334.7 415.6h0M335.9 427.1h0M338.2 412.2h0M325.6 288.8h0M346.0 288.6h0M333.4 278.1h0M321.8 292.4h0M353.8 298.4h0M325.3 323.6h0M330.8 308.7h0M327.1 379.6h0M331.4 343.3h0M336.5 390.0h0M335.5 344.5h0M334.0 417.0h0M326.6 359.9h0M332.3 382.7h0M339.2 323.0h0M333.1 420.2h0M335.0 320.8h0M331.6 347.9h0M321.0 335.9h0M343.4 367.7h0M354.2 289.2h0M333.9 423.2h0M339.4 265.6h0M321.9 326.9h0M336.1 309.6h0M337.5 350.6h0M334.8 335.4h0M354.3 290.2h0M342.1 295.4h0M338.4 271.0h0M349.7 304.8h0M343.5 393.1h0M338.1 328.4h0M336.5 406.3h0M345.3 277.0h0M336.5 429.8h0M334.2 306.1h0M338.4 297.9h0M319.0 297.9h0M346.2 270.7h0M318.6 291.4h0M351.8 324.2h0M329.8 385.1h0M314.8 322.2h0M343.3 334.8h0M338.6 268.0h0M320.6 303.9h0M326.9 379.7h0M336.0 425.9h0M349.3 298.8h0M319.4 266.8h0M336.5 412.1h0M311.2 298.4h0M329.0 319.4h0M335.9 430.3h0M328.7 360.2h0M338.0 376.1h0M337.8 400.7h0M320.0 287.4h0M339.1 276.8h0M340.5 290.5h0M350.3 319.8h0M327.8 362.1h0M328.9 378.6h0M340.0 379.6h0M333.6 422.4h0M334.7 364.8h0M325.1 311.6h0M335.7 341.8h0M338.4 285.4h0M336.0 376.0h0M321.0 299.1h0M347.6 297.4h0M333.2 411.9h0M317.2 311.3h0M345.7 344.8h0M331.4 326.6h0M337.6 387.2h0M336.0 268.9h0M342.8 305.8h0M332.5 373.3h0M331.1 289.4h0M330.8 405.4h0M331.5 350.7h0M336.1 324.9h0M338.5 263.5h0M336.8 272.9h0M351.3 314.3h0M339.2 333.5h0M333.5 398.0h0M338.0 409.9h0M338.4 279.4h0M345.3 295.7h0M340.3 338.6h0M335.2 425.8h0M334.1 368.7h0M336.5 395.1h0M343.6 381.9h0M336.3 424.4h0M341.3 316.5h0M340.8 341.0h0M336.2 424.7h0M329.0 335.8h0M333.2 404.7h0M327.1 364.5h0M335.2 430.4h0M336.5 391.0h0M340.2 396.4h0M343.3 344.9h0M344.5 267.1h0M340.2 405.1h0M317.6 286.8h0M323.6 337.0h0M335.5 435.9h0M331.0 349.9h0M337.3 379.9h0M335.8 399.4h0M343.2 288.4h0M336.7 405.6h0M337.3 409.1h0M324.8 372.7h0M335.6 357.1h0M333.9 423.8h0M324.9 332.9h0M321.9 298.9h0M343.8 300.5h0M336.3 426.8h0M329.3 265.1h0M333.8 417.9h0M335.5 362.2h0M325.5 356.0h0M340.9 289.7h0M336.2 431.4h0M330.4 386.3h0M334.6 407.9h0M346.5 279.4h0M341.7 385.8h0M347.1 370.2h0M347.1 345.7h0M344.6 373.6h0M335.8 414.5h0M319.1 292.0h0M344.5 353.3h0M336.3 429.6h0M346.3 376.3h0M346.7 262.0h0M335.8 260.9h0M335.8 392.2h0M310.7 289.1h0M350.7 304.0h0M334.8 430.1h0M325.7 383.6h0M342.8 273.1h0M351.8 327.0h0M337.3 382.7h0M330.6 295.8h0M325.7 265.6h0M337.7 405.4h0M328.2 351.5h0M333.7 426.1h0M336.9 265.6h0M351.9 343.8h0M334.6 401.7h0M351.1 353.4h0M327.0 360.9h0M354.0 311.7h0M320.2 338.1h0M332.8 412.3h0M321.6 266.1h0M330.7 353.8h0M343.2 381.7h0M333.1 404.6h0M348.6 270.8h0M336.4 372.8h0M325.8 309.4h0M346.6 284.6h0M339.1 416.2h0M326.4 346.7h0M335.6 419.1h0M326.4 376.9h0M326.3 356.5h0M317.0 303.8h0M320.2 344.9h0M340.9 397.6h0M352.7 281.7h0M321.2 324.5h0M329.2 400.0h0M338.8 401.8h0M359.9 295.5h0M326.1 380.0h0M350.5 281.3h0M318.6 345.5h0M357.1 298.0h0M340.7 406.3h0M335.0 402.9h0M336.3 292.8h0M338.7 316.2h0M347.6 347.0h0M336.9 411.9h0M336.6 420.3h0M322.5 365.7h0M351.6 311.4h0M325.8 372.5h0M323.0 369.7h0M354.6 323.0h0M324.5 263.6h0M333.2 305.9h0M354.6 331.9h0M342.4 391.5h0M332.7 349.3h0M338.1 409.2h0M339.9 369.9h0M319.4 328.7h0M320.9 351.3h0M337.2 368.4h0M350.4 352.1h0M338.0 339.1h0M333.5 289.8h0M338.6 351.9h0M327.2 376.3h0M329.3 399.0h0M334.9 400.7h0M340.8 390.3h0M339.1 286.2h0M335.5 436.1h0M335.9 426.0h0M351.4 292.8h0M340.2 404.7h0M341.4 290.9h0M347.4 350.6h0M316.1 278.0h0M316.6 329.5h0M351.4 348.9h0M319.6 327.8h0M354.7 331.5h0M346.3 375.9h0M336.8 370.7h0M340.4 299.5h0M345.7 321.7h0M343.4 385.2h0M334.3 402.2h0M339.3 412.9h0M342.8 388.0h0M358.8 307.5h0M327.8 379.2h0M358.8 308.7h0M339.8 409.5h0M336.7 348.8h0M347.4 266.2h0M331.1 412.1h0M325.0 318.0h0M334.2 415.7h0M331.4 406.3h0M336.3 431.4h0M318.5 336.2h0M358.8 273.6h0M337.2 413.8h0M329.5 279.0h0M336.4 429.0h0M340.7 391.0h0M341.6 382.2h0M342.8 383.5h0M311.8 278.0h0M327.2 358.6h0M331.1 345.9h0M332.8 419.9h0M349.1 321.7h0M337.5 423.5h0M328.4 388.7h0M322.0 363.8h0M347.4 270.1h0M351.8 270.7h0M338.7 350.7h0M317.7 335.7h0M351.6 283.4h0M340.9 394.4h0M327.9 396.0h0M343.8 331.9h0M338.5 387.5h0M353.0 332.6h0M324.7 371.9h0M338.8 366.3h0M326.0 262.6h0M331.5 367.3h0M345.6 263.0h0M335.1 338.1h0M336.5 431.4h0M346.3 378.5h0M355.5 327.2h0M316.1 318.0h0M332.4 399.9h0M340.8 398.7h0M330.4 301.3h0M328.8 380.0h0M342.6 391.6h0M342.8 394.5h0M339.7 409.3h0M312.7 294.6h0M358.5 287.3h0M315.0 309.9h0M341.5 396.5h0M338.4 420.6h0M329.3 372.9h0M336.9 426.8h0M332.4 331.7h0M325.8 295.4h0M345.6 339.9h0M354.0 304.9h0M341.2 404.9h0M328.9 265.6h0M336.3 431.8h0M334.0 423.4h0M334.0 272.3h0M352.0 310.4h0M355.4 324.4h0M310.4 294.8h0M353.8 326.5h0M334.1 369.2h0M337.9 382.8h0M342.8 366.8h0M355.6 269.7h0M327.2 353.5h0M329.3 368.1h0M318.1 286.3h0M337.5 356.7h0M333.9 422.3h0M342.4 376.3h0M341.2 382.2h0M318.7 345.8h0M334.4 410.0h0M325.3 319.3h0M354.9 315.1h0M326.1 374.4h0M322.5 366.2h0M335.4 435.9h0M334.8 431.0h0M327.3 382.9h0M328.1 381.8h0M335.6 435.7h0M348.8 324.7h0M320.3 337.3h0M329.4 390.9h0M327.9 286.3h0M342.9 397.2h0M339.4 408.0h0M343.4 363.6h0M334.7 417.3h0M334.3 426.2h0M315.4 300.6h0M357.9 307.5h0M334.5 339.8h0M338.9 417.2h0M339.4 369.2h0M334.1 348.6h0M334.4 429.2h0M335.5 434.5h0M334.6 370.2h0M320.7 300.4h0M351.9 314.1h0M344.3 333.8h0M335.6 424.5h0M334.4 327.6h0M340.8 325.4h0M343.0 389.2h0M337.8 389.6h0M325.2 376.2h0M339.3 409.1h0M332.2 309.6h0M330.3 391.9h0M345.0 346.3h0M321.9 362.7h0M354.3 324.8h0M326.4 377.8h0M339.5 290.4h0M338.3 416.8h0M328.4 383.1h0M345.5 323.3h0M350.7 268.7h0M313.4 286.1h0M357.1 282.9h0M336.2 323.9h0M336.0 375.7h0M356.5 306.9h0M320.0 345.8h0M321.7 319.3h0M322.4 327.3h0M348.3 354.8h0M334.3 428.2h0M325.3 348.0h0M341.3 314.9h0M324.9 342.8h0M337.6 338.6h0M327.5 359.7h0M351.1 326.3h0M352.1 320.8h0M340.0 412.2h0M311.8 280.4h0M320.0 292.7h0M336.4 308.3h0M312.3 295.4h0M325.8 264.3h0M338.2 419.1h0M318.6 283.8h0M348.6 311.4h0M344.1 345.7h0M322.9 333.0h0M336.5 410.5h0M335.1 272.7h0M341.0 403.5h0M325.5 364.3h0M342.8 274.7h0M346.1 356.5h0M351.4 337.3h0M321.3 328.8h0M337.1 275.7h0M351.6 265.5h0M345.5 350.5h0M330.1 406.8h0M335.8 422.4h0M350.2 354.8h0M345.8 351.5h0M348.9 345.2h0M319.0 303.8h0M323.2 292.3h0M337.7 376.7h0M356.0 325.0h0M330.6 362.8h0M333.3 373.7h0M343.6 388.8h0M341.0 339.5h0M351.2 274.2h0M329.0 344.0h0M328.7 362.1h0M340.9 399.2h0M327.0 358.9h0M352.8 298.5h0M323.1 358.3h0M339.9 277.9h0M348.3 338.9h0M339.6 412.5h0M356.0 318.8h0M326.8 267.9h0M353.1 303.2h0M341.1 370.5h0M333.5 425.8h0M349.6 264.4h0M330.2 407.3h0M314.7 313.4h0M336.4 318.1h0M322.5 365.3h0M353.2 292.8h0M334.9 414.4h0M334.8 431.6h0M335.1 378.2h0M328.6 396.2h0M356.0 322.5h0M323.9 366.0h0M329.2 397.8h0M318.0 326.9h0M358.6 300.0h0M333.7 278.8h0M335.9 429.5h0M315.6 308.3h0M321.2 352.8h0M344.8 295.8h0M348.0 333.1h0M338.1 414.4h0M331.1 363.0h0M334.9 403.4h0M335.3 435.1h0M347.8 277.9h0M343.3 369.5h0M323.8 368.2h0M323.4 363.7h0M330.3 286.5h0M322.3 287.8h0M346.2 317.6h0M344.9 383.8h0M321.7 351.2h0M353.9 329.6h0M350.3 328.8h0M325.5 372.8h0M340.6 400.4h0M330.0 362.1h0M346.6 374.6h0M351.1 299.3h0M338.5 405.4h0M339.0 412.5h0M326.4 363.8h0M335.4 402.8h0M333.4 424.8h0M334.3 388.6h0M339.9 342.0h0M345.6 285.1h0M349.7 352.5h0M343.7 290.6h0M342.0 341.0h0M342.4 393.5h0M328.7 274.7h0M338.1 260.0h0M351.9 346.8h0M352.9 285.5h0M333.6 345.5h0M334.0 386.7h0M338.3 407.4h0M343.9 375.7h0M346.3 311.5h0M350.9 350.3h0M334.3 426.8h0M337.0 400.2h0M337.2 422.5h0M330.5 363.3h0M344.5 264.2h0M348.1 326.2h0M317.3 318.0h0M314.7 302.5h0M347.1 345.1h0M308.9 292.0h0M340.7 394.6h0M334.1 306.5h0M338.9 393.4h0M356.7 287.5h0M336.2 416.5h0M335.7 435.9h0M332.1 396.7h0M323.5 371.1h0M360.4 301.2h0M347.2 373.7h0M336.1 385.0h0M319.6 311.5h0M336.6 362.7h0M340.2 350.0h0M343.8 369.3h0M320.5 340.1h0M334.9 355.4h0M336.9 398.6h0M335.6 391.4h0M330.7 307.3h0M339.2 385.9h0M317.5 328.8h0M314.4 274.8h0M329.6 326.9h0M335.7 434.3h0M330.3 357.5h0M323.6 364.5h0M312.5 283.1h0M322.9 318.8h0M333.2 389.2h0M327.0 335.8h0M336.8 312.9h0M353.6 286.2h0M341.6 403.0h0M329.5 400.8h0M328.4 387.3h0M321.2 290.1h0M332.8 413.4h0M337.7 363.2h0M318.9 313.7h0M334.7 431.4h0M335.3 408.7h0M326.4 330.9h0M346.0 372.2h0M359.2 279.3h0M342.2 349.2h0M333.5 425.2h0M345.0 340.4h0M327.9 376.3h0M313.6 297.8h0M312.2 303.8h0M311.7 285.4h0M320.1 290.2h0M326.9 349.1h0M327.4 387.0h0M320.6 267.9h0M336.1 431.9h0M339.7 407.1h0M333.3 422.2h0M338.7 403.3h0M348.8 268.3h0M356.6 303.9h0M324.3 268.2h0M347.9 361.1h0M336.2 431.6h0M349.6 358.2h0M336.9 289.5h0M333.4 386.4h0M333.7 262.1h0M313.7 313.4h0M345.2 290.9h0M315.0 304.6h0M326.9 323.0h0M338.2 420.4h0M353.4 328.5h0M330.1 388.7h0M340.4 410.1h0M342.6 391.7h0M333.0 405.4h0M347.9 367.1h0M321.1 334.6h0M335.9 426.0h0M317.4 306.3h0M336.3 431.9h0M326.8 358.7h0M335.3 423.5h0M340.4 397.7h0M329.0 344.1h0M349.0 338.2h0M322.6 326.7h0M340.8 404.4h0M341.0 373.2h0M335.7 433.1h0M347.3 371.5h0M338.5 420.4h0M355.2 330.5h0M335.9 387.2h0M336.8 335.9h0M313.3 297.0h0M331.3 408.4h0M353.3 321.6h0M334.7 416.5h0M337.6 403.2h0M342.4 393.0h0M312.2 279.6h0M327.6 390.2h0M346.6 370.9h0M335.1 408.4h0M348.5 353.5h0M333.6 404.5h0M346.7 270.6h0M335.3 425.3h0M324.4 367.7h0M315.9 303.8h0M332.5 410.6h0M340.4 401.3h0M337.1 405.0h0M330.9 282.4h0M336.8 410.0h0M332.8 421.8h0M336.5 318.5h0M344.6 310.0h0M342.6 396.7h0M335.4 416.5h0M329.9 397.1h0M334.4 425.0h0M339.0 375.7h0M333.2 286.3h0M348.9 280.2h0M325.2 376.5h0M347.5 301.2h0M351.5 340.2h0M337.8 369.0h0M339.8 409.3h0M332.5 404.9h0M325.1 346.9h0M358.3 298.6h0M358.2 311.4h0M333.0 371.0h0M320.7 341.8h0M335.6 436.0h0M354.2 315.7h0M324.5 351.4h0M335.0 394.0h0M351.1 351.8h0M359.5 295.6h0M326.6 344.6h0M335.8 344.5h0M321.7 352.5h0M334.5 410.3h0M342.8 395.3h0M355.1 326.5h0M331.4 411.9h0M313.2 306.2h0M359.2 284.6h0M321.9 320.2h0M314.3 291.0h0M310.0 287.9h0M332.5 301.7h0M350.3 340.9h0M339.4 400.5h0M356.2 281.0h0M335.2 433.1h0M357.3 319.4h0M312.1 294.1h0M335.2 403.1h0M337.2 421.8h0M334.8 431.9h0M352.6 324.7h0M313.3 305.0h0M335.7 325.8h0M313.1 315.4h0M359.6 291.8h0M334.9 343.7h0M342.3 395.7h0M339.1 410.1h0M323.9 322.1h0M327.2 270.0h0M337.3 413.8h0M334.1 382.0h0M348.8 358.6h0M334.1 349.5h0M336.7 408.3h0M326.4 380.2h0M322.2 300.2h0M336.7 347.7h0M333.7 426.7h0M350.5 349.3h0M313.8 309.8h0M339.3 405.9h0M337.4 418.9h0M330.8 406.2h0M345.4 358.3h0M356.7 317.1h0M313.2 312.8h0M352.4 330.8h0M326.3 287.9h0M323.7 346.6h0M352.6 319.0h0M323.6 291.0h0M338.3 376.2h0M319.3 303.8h0M355.1 273.1h0M311.1 299.3h0M321.3 358.3h0M343.0 279.3h0M319.1 301.5h0M328.3 315.6h0M327.2 310.2h0M321.5 264.4h0M347.4 338.0h0M312.4 277.6h0M336.2 429.3h0M335.5 435.4h0M343.3 297.3h0M335.0 389.4h0M311.3 305.7h0M333.6 415.4h0M327.2 372.6h0M360.0 291.1h0M336.3 431.7h0M313.9 312.0h0M311.6 302.8h0M330.1 400.8h0M346.7 315.4h0M328.9 349.4h0M332.8 326.0h0M318.5 328.2h0M331.1 315.2h0M325.8 378.5h0M327.4 362.8h0M338.4 347.6h0M318.7 337.9h0M334.1 393.6h0M313.6 294.7h0M319.0 309.4h0M356.7 310.9h0M326.7 381.0h0M334.7 390.4h0M336.2 415.7h0M313.9 290.9h0M346.9 358.0h0M334.7 416.5h0M337.0 370.9h0M351.8 306.6h0M331.0 296.3h0M333.8 423.3h0M342.9 341.3h0M341.6 260.9h0M327.9 292.8h0M357.0 280.6h0M357.4 271.2h0M342.3 342.0h0M344.4 379.4h0M324.7 327.8h0M334.3 373.1h0M327.8 288.5h0M346.1 378.4h0M335.6 414.3h0M345.2 348.4h0M329.8 388.5h0M329.6 404.6h0M358.9 290.7h0M348.6 265.0h0M351.3 298.8h0M339.2 416.3h0M337.4 339.6h0M339.8 412.7h0M351.7 304.1h0M327.2 337.6h0M320.7 294.5h0M339.7 405.1h0M350.6 346.9h0M321.1 301.7h0M328.7 345.1h0M330.3 343.4h0M345.5 342.3h0M330.1 403.5h0M332.7 418.2h0M355.5 305.7h0M337.0 401.8h0M336.2 426.0h0M342.9 335.5h0M330.8 331.8h0M320.2 285.5h0M353.3 321.9h0M317.4 306.9h0M329.8 277.2h0M320.0 344.7h0M317.7 305.0h0M337.1 427.2h0M361.2 285.9h0M338.0 418.9h0M347.4 361.5h0M332.6 359.0h0M347.8 277.2h0M330.7 396.0h0M336.3 413.4h0M330.8 376.8h0M333.3 304.3h0M327.8 366.1h0M319.2 269.6h0M330.4 321.4h0M349.0 264.4h0M329.1 399.2h0M348.1 366.7h0M338.6 268.7h0M336.8 428.2h0M347.5 332.2h0M332.9 326.0h0M338.2 397.2h0M332.5 413.0h0M321.2 357.9h0M327.2 388.3h0M345.9 262.4h0M336.8 370.7h0M325.7 276.1h0M338.0 414.7h0M352.2 346.1h0M324.3 340.3h0M342.0 351.1h0M333.2 422.9h0M333.9 358.5h0M329.8 398.0h0M332.7 347.4h0M336.5 429.9h0M322.7 361.5h0M322.4 333.8h0M335.9 388.8h0M352.3 298.9h0M326.7 367.3h0M337.3 391.7h0M329.8 391.7h0M358.7 304.2h0M351.5 303.4h0M357.5 310.8h0M357.7 311.6h0M334.6 355.8h0M310.2 279.1h0M324.9 374.1h0M335.0 434.0h0M324.3 372.7h0M335.9 396.0h0M318.5 341.1h0M339.0 367.8h0M342.6 336.5h0M327.9 363.5h0M333.8 420.9h0M328.4 390.3h0M334.3 284.1h0M330.4 291.9h0M327.6 343.9h0M327.6 317.5h0M347.2 353.0h0M324.9 359.7h0M335.4 393.1h0M347.0 327.8h0M316.8 323.4h0M332.8 407.0h0M348.6 360.1h0M329.5 396.2h0M331.5 387.2h0M358.6 303.8h0M312.5 280.6h0M336.1 432.0h0M347.7 276.2h0M331.1 410.3h0M341.4 376.5h0M331.3 400.5h0M320.6 341.7h0M339.6 353.6h0M340.2 404.2h0M331.3 327.9h0M323.9 347.7h0M329.0 326.3h0M349.8 326.1h0M324.1 311.0h0M343.0 385.6h0M348.4 348.0h0M358.3 302.1h0M335.5 436.3h0M323.5 354.5h0M342.3 289.1h0M337.9 403.9h0M333.7 423.0h0M333.7 416.8h0M330.7 408.8h0M359.3 299.2h0M321.6 346.9h0M334.1 426.5h0M354.1 318.1h0M334.7 417.1h0M315.8 319.8h0M333.4 357.6h0M340.7 375.1h0M329.4 397.6h0M321.9 293.0h0M328.2 344.1h0M330.0 324.3h0M347.7 366.7h0M326.5 294.2h0M325.7 369.1h0M357.0 310.2h0M333.6 426.2h0M335.1 429.8h0M327.5 308.6h0M329.5 329.0h0M338.4 368.4h0M333.8 426.2h0M338.9 365.3h0M355.1 329.7h0M352.3 278.3h0M333.9 418.2h0M322.3 362.7h0M346.5 307.1h0M340.0 409.0h0M333.9 420.0h0M336.8 412.2h0M317.4 335.5h0M334.1 415.4h0M335.3 434.5h0M344.0 387.7h0M328.9 345.3h0M361.0 279.9h0M335.2 434.6h0M332.5 419.7h0M336.0 432.3h0M312.6 283.8h0M345.7 335.1h0M313.0 286.7h0M333.4 365.9h0M334.2 376.1h0M318.5 332.0h0M329.0 309.2h0M323.2 277.5h0M337.2 415.8h0M329.2 383.3h0M340.3 301.7h0M335.0 404.1h0M342.8 340.6h0M325.9 371.2h0M339.1 402.9h0M352.2 276.4h0M322.8 334.2h0M334.7 431.5h0M326.2 264.6h0M338.9 382.7h0M316.0 308.3h0M325.9 282.6h0M340.8 368.3h0M342.2 382.0h0M343.0 393.7h0M326.9 273.6h0M345.0 323.3h0M329.6 357.8h0M334.1 425.2h0M331.7 408.8h0M310.5 286.1h0M326.1 261.6h0M329.1 283.0h0M325.8 338.6h0M321.5 352.9h0M319.7 340.7h0M319.5 330.1h0M334.6 267.5h0M347.2 342.5h0M349.8 330.1h0M329.6 313.4h0M356.3 280.5h0M331.2 360.8h0M319.4 283.4h0M336.6 429.8h0M311.7 282.1h0M350.0 275.4h0M347.3 323.5h0M331.0 367.9h0M331.0 412.2h0M352.8 325.6h0M343.4 380.9h0M350.7 266.3h0M330.6 351.4h0M334.0 291.8h0M334.9 268.8h0M327.6 350.6h0M332.0 355.8h0M325.5 378.7h0M354.8 322.5h0M338.9 409.6h0M357.3 302.4h0M352.9 307.1h0M335.8 433.6h0M341.1 358.4h0M321.9 356.9h0M345.1 306.7h0M330.5 404.4h0M338.3 412.8h0M333.5 423.2h0M347.7 352.9h0M332.4 310.5h0M353.7 329.0h0M326.9 278.6h0M324.3 320.8h0M334.7 426.9h0M359.7 293.9h0M345.1 262.9h0M328.1 260.8h0M352.4 337.5h0M324.0 359.1h0M331.2 275.1h0M343.0 380.0h0M328.2 303.0h0M346.2 352.5h0M339.3 274.4h0M347.3 322.5h0M336.7 360.7h0M334.7 431.9h0M316.4 323.3h0M331.3 394.8h0M329.4 389.5h0M332.6 368.1h0M324.7 336.7h0M319.9 311.0h0M333.5 424.0h0M313.9 317.1h0M331.5 398.9h0M317.2 314.4h0M342.4 384.0h0M348.7 327.8h0M344.7 340.1h0M321.1 330.7h0M342.4 378.9h0M335.0 317.0h0M319.5 308.9h0M339.0 341.2h0M343.0 328.6h0M347.1 371.1h0M322.1 295.4h0M335.9 434.2h0M332.5 379.8h0M334.9 290.5h0M352.6 315.1h0M338.5 380.7h0M342.8 362.9h0M332.4 419.7h0M356.0 315.0h0M342.0 390.5h0M334.1 419.1h0M316.3 332.5h0M338.5 420.7h0M337.8 266.5h0M334.7 405.9h0M346.0 279.7h0M334.5 386.4h0M334.4 374.5h0M320.9 353.9h0M309.3 285.6h0M338.8 411.3h0M355.5 321.5h0M327.9 388.4h0M336.0 433.5h0M315.3 313.1h0M337.5 406.5h0M352.2 294.0h0M322.3 353.8h0M350.9 354.3h0M343.7 304.9h0M343.8 336.9h0M319.0 344.5h0M349.2 308.6h0M343.0 391.3h0M332.4 412.0h0M315.5 309.8h0M337.6 412.3h0M330.7 325.0h0M337.5 338.8h0M354.3 315.8h0M334.3 377.4h0M342.0 327.7h0M337.0 259.8h0M325.2 380.9h0M343.7 274.3h0M341.3 405.7h0M320.4 344.8h0M351.2 346.2h0M339.8 404.0h0M357.0 309.6h0M344.4 387.0h0M313.9 273.8h0M329.5 389.3h0M333.5 359.0h0M346.2 321.5h0M339.6 275.5h0M335.8 431.0h0M342.3 385.5h0M359.0 295.2h0M344.3 262.9h0M350.5 330.7h0M352.3 312.6h0M331.5 415.0h0M348.2 335.3h0M330.0 392.1h0M356.0 323.8h0M342.8 323.2h0M312.0 274.7h0M339.2 328.5h0M332.6 413.6h0M337.9 279.2h0M334.6 412.7h0M336.3 324.5h0M336.4 405.1h0M336.8 353.2h0M341.0 363.6h0M348.6 285.3h0M360.7 286.3h0M328.5 284.9h0M352.0 303.3h0M317.3 338.4h0M350.0 355.0h0M334.7 429.1h0M335.5 314.5h0M357.7 289.1h0M346.0 310.1h0M350.7 344.9h0M328.8 398.2h0M341.8 344.0h0M338.2 409.0h0M314.2 276.9h0M326.7 321.8h0M341.8 332.2h0M329.4 289.9h0M339.8 411.0h0M335.5 436.5h0M336.0 282.2h0M337.4 269.9h0M360.0 280.0h0M338.1 329.6h0M354.5 330.0h0M344.8 293.7h0M347.3 351.2h0M339.5 396.1h0M335.8 431.6h0M357.9 302.4h0M331.1 408.3h0M335.2 399.2h0M331.4 384.7h0M346.3 338.2h0M348.3 361.8h0M333.0 421.5h0M331.1 390.2h0M337.3 347.8h0M328.6 398.2h0M335.6 435.8h0M333.7 415.5h0M333.5 423.4h0M345.9 327.2h0M320.3 284.2h0M333.9 406.8h0M352.3 322.1h0M327.5 390.1h0M347.2 287.4h0M309.2 293.3h0M339.9 401.3h0M333.3 422.9h0M359.2 292.3h0M326.8 388.2h0M359.8 295.3h0M337.4 400.5h0M329.5 274.6h0M336.1 390.6h0M341.3 300.0h0M316.8 322.8h0M324.9 371.3h0M332.7 390.4h0M326.9 335.7h0M324.1 334.2h0M361.9 285.5h0M318.9 338.7h0M358.5 306.6h0M329.1 312.8h0M322.0 265.7h0M349.0 297.8h0M352.2 277.7h0M316.7 320.5h0M320.2 348.9h0M330.3 407.0h0M327.3 354.2h0M337.7 413.3h0M339.9 261.3h0M325.2 332.4h0M340.3 401.0h0M337.7 424.0h0M324.3 348.3h0M340.8 383.6h0M338.2 357.0h0M331.6 385.7h0M331.3 368.7h0M336.9 426.1h0M336.5 426.8h0M316.5 309.6h0M358.5 299.6h0M326.0 379.0h0M333.2 407.4h0M313.7 296.6h0M322.8 367.2h0M350.9 266.8h0M340.0 376.3h0M330.0 400.8h0M345.4 347.7h0M329.2 280.4h0M355.8 306.5h0M334.9 433.2h0M325.5 275.5h0M338.1 381.7h0M330.9 404.8h0M346.1 360.6h0M334.5 372.2h0M334.7 430.0h0M329.6 402.4h0M336.3 430.6h0M337.5 374.6h0M351.1 341.0h0M318.7 340.1h0M320.7 333.1h0M351.0 337.5h0M340.8 402.7h0M341.3 350.0h0M331.5 298.1h0M342.7 386.2h0M317.9 295.1h0M337.7 321.7h0M359.1 303.3h0M336.9 355.8h0M346.8 292.9h0M329.1 361.2h0M347.4 356.2h0M323.2 370.0h0M330.9 358.9h0M332.2 417.3h0M338.2 408.3h0M330.9 410.9h0M343.0 390.1h0M317.3 328.0h0M353.5 318.4h0M347.6 358.4h0M326.8 375.6h0M346.6 369.4h0M326.6 387.8h0M353.8 328.4h0M323.5 371.9h0M310.2 286.6h0M354.1 291.6h0M349.2 302.6h0M310.9 289.7h0M325.1 292.9h0M325.1 325.2h0M358.1 305.7h0M326.4 352.5h0M351.2 271.6h0M318.9 347.2h0M334.8 387.0h0M346.8 355.3h0M337.8 423.4h0M352.7 332.6h0M335.9 421.9h0M335.3 349.5h0M329.8 347.6h0M321.4 291.3h0M313.5 276.2h0M314.0 300.9h0M355.5 321.3h0M336.6 424.0h0M331.8 279.3h0M314.0 317.8h0M346.1 353.8h0M320.0 350.8h0M328.8 390.6h0M334.0 427.4h0M324.4 354.9h0M323.9 372.7h0M348.5 327.9h0M336.2 427.2h0M327.2 379.2h0M335.1 403.1h0M313.3 289.3h0M335.7 417.7h0M336.3 346.4h0M340.5 402.4h0M342.3 320.2h0M331.9 401.7h0M328.2 335.7h0M333.3 413.4h0M312.8 301.8h0M312.4 273.9h0M314.7 302.4h0M325.3 273.8h0M335.5 295.6h0M313.7 312.5h0M332.7 421.2h0M329.0 351.3h0M340.0 386.2h0M337.0 318.8h0M331.0 365.7h0M329.8 404.4h0M315.7 316.5h0M315.1 269.9h0M318.9 303.6h0M334.7 430.9h0M346.1 348.1h0M333.9 423.2h0M336.9 322.4h0M351.1 312.3h0M339.0 417.6h0M341.9 389.1h0M312.1 276.3h0M343.0 389.4h0M347.8 362.5h0M318.9 311.1h0M335.6 435.2h0M320.1 348.6h0M335.7 424.1h0M335.4 431.8h0M340.2 348.1h0M313.6 304.7h0M341.4 402.0h0M354.3 294.5h0M330.1 400.3h0M329.3 399.1h0M333.5 419.3h0M336.3 423.6h0M356.0 312.5h0M350.3 328.4h0M331.8 416.7h0M313.0 288.6h0M353.5 321.5h0M330.5 373.8h0M337.6 363.9h0M317.7 282.8h0M323.8 284.8h0M321.4 283.1h0M339.1 372.6h0M343.4 381.2h0M348.5 337.5h0M338.8 416.1h0M348.3 288.7h0M348.7 351.3h0M345.8 344.7h0M309.1 287.5h0M332.9 387.0h0M337.3 361.6h0M333.7 366.8h0M319.3 339.8h0M338.8 400.3h0M334.4 408.2h0M333.7 270.9h0M320.0 277.9h0M331.3 367.9h0M344.1 287.1h0M336.7 422.8h0M311.5 291.7h0M360.2 278.6h0M336.9 409.1h0M335.3 432.3h0M310.3 300.8h0M340.6 300.5h0M317.5 269.7h0M349.1 341.8h0M334.9 396.6h0M356.7 320.7h0M315.6 308.6h0M333.0 420.4h0M338.6 404.5h0M326.0 365.8h0M353.7 309.6h0M344.7 302.1h0M340.5 371.9h0M313.4 318.2h0M353.0 300.3h0M311.5 295.7h0M323.1 276.8h0M336.1 347.8h0M331.0 384.5h0M338.1 403.7h0M312.2 298.3h0M341.7 403.2h0M334.0 343.2h0M343.5 385.3h0M313.6 318.4h0M323.7 364.5h0M351.9 336.1h0M330.4 347.4h0M340.5 383.6h0M353.6 318.8h0M315.0 292.0h0M336.3 316.7h0M321.3 355.4h0M343.9 378.3h0M334.0 428.6h0M326.1 334.7h0M359.4 299.1h0M313.7 312.9h0M331.6 335.1h0M350.4 333.9h0M318.8 339.1h0M351.8 336.5h0M335.9 341.6h0M319.1 299.0h0M339.8 406.1h0M346.2 355.0h0M336.6 356.0h0M351.7 307.7h0M337.0 357.5h0M350.8 353.7h0M330.5 408.1h0M344.8 328.0h0M361.5 297.0h0M320.9 317.8h0M330.3 398.5h0M349.1 277.1h0M332.1 319.4h0M357.3 285.8h0M332.1 365.9h0M320.2 264.8h0M322.0 317.9h0M338.1 396.8h0M333.6 396.3h0M355.6 323.8h0M339.4 260.2h0M350.1 289.6h0M313.1 298.1h0M351.7 323.5h0M349.3 341.2h0M340.1 333.5h0M347.3 313.3h0M330.3 408.5h0M359.3 286.3h0M348.3 338.0h0M350.5 285.1h0M328.6 272.7h0M326.3 386.6h0M354.1 331.9h0M319.0 269.3h0M336.3 431.7h0M352.6 276.3h0M315.6 329.3h0M320.8 327.2h0M339.7 385.6h0M350.7 297.8h0M340.8 365.6h0M346.5 373.9h0M321.9 315.5h0M329.3 400.7h0M340.9 407.7h0M313.4 316.8h0M312.1 311.1h0M342.3 353.9h0M315.3 283.9h0M325.3 375.7h0M332.8 276.6h0M319.4 328.5h0M335.7 403.9h0M326.0 378.2h0M334.0 422.7h0M323.4 352.3h0M341.1 263.2h0M318.4 306.6h0M331.4 413.4h0M354.7 307.5h0M340.8 286.4h0M352.0 320.3h0M327.7 346.8h0M342.4 399.9h0M324.6 356.6h0M312.8 291.7h0M324.0 373.9h0M354.9 327.2h0M325.8 358.5h0M336.2 426.5h0M334.1 429.1h0M331.3 300.5h0M355.3 279.4h0M333.9 427.4h0M340.9 373.5h0M329.5 352.7h0M324.2 370.5h0M344.8 288.4h0M347.2 328.2h0M335.8 419.3h0M353.8 301.7h0M335.8 416.5h0M335.4 399.6h0M339.2 370.1h0M340.4 353.7h0M336.7 421.6h0M337.1 419.7h0M327.7 292.6h0M345.6 281.1h0M346.5 312.5h0M334.3 339.6h0M320.7 336.3h0M345.6 341.9h0M346.1 355.4h0M352.8 339.4h0M313.3 316.6h0M335.2 432.8h0M339.8 278.7h0M331.7 340.4h0M325.0 266.4h0M343.0 282.2h0M354.4 324.6h0M342.9 360.4h0M337.8 423.5h0M350.6 282.3h0M312.3 312.6h0M333.6 421.3h0M312.2 281.3h0M342.0 357.8h0M350.7 322.2h0M336.5 430.1h0M358.3 282.8h0M337.2 327.2h0M329.0 390.5h0M314.4 309.9h0M355.1 328.1h0M319.2 272.4h0M325.9 334.2h0M354.3 295.7h0M336.6 377.2h0M323.1 315.5h0M337.4 335.5h0M336.7 427.0h0M334.8 384.7h0M318.8 327.6h0M344.7 360.9h0M330.9 380.1h0M337.2 316.3h0M341.2 280.0h0M335.6 393.8h0M345.8 275.6h0M344.0 385.8h0M328.2 378.0h0M324.1 361.9h0M336.4 420.1h0M345.8 356.6h0M338.9 417.9h0M335.6 433.9h0M314.0 287.1h0M351.2 301.7h0M334.3 419.9h0M339.7 410.2h0M334.4 420.3h0M343.3 347.5h0M318.9 265.4h0M339.2 341.4h0M351.7 310.7h0M328.9 371.0h0M321.1 348.4h0M335.4 307.2h0M319.1 334.2h0M352.3 338.1h0M337.1 405.7h0M324.8 358.6h0M320.5 355.5h0M335.0 432.5h0M360.6 298.5h0M348.0 333.5h0M357.2 316.8h0M337.2 422.2h0M356.6 310.9h0M313.9 276.9h0M337.7 423.4h0M330.7 376.2h0M325.8 295.2h0M329.4 401.2h0M354.8 298.2h0M344.7 351.2h0M344.9 319.2h0M345.3 342.3h0M360.2 279.8h0M320.7 264.4h0M329.8 316.8h0M331.2 371.8h0M333.2 384.7h0M336.3 425.4h0M344.7 357.6h0M330.8 314.7h0M348.6 290.0h0M331.7 376.1h0M321.3 329.8h0M329.4 401.8h0M338.8 332.5h0M352.4 281.5h0M335.3 389.6h0M329.9 404.3h0M355.7 273.7h0M335.6 337.3h0M333.7 355.7h0M352.8 333.8h0M335.6 428.6h0M335.4 389.5h0M331.0 321.1h0M331.7 324.7h0M329.4 273.2h0M325.4 381.8h0M331.7 381.4h0M314.9 326.2h0M314.4 299.6h0M345.7 376.8h0M334.2 382.5h0M329.8 279.8h0M355.7 319.0h0M315.3 291.3h0M318.5 342.7h0M353.6 269.2h0M335.8 428.7h0M329.4 400.8h0M313.8 295.6h0M339.0 417.4h0M340.4 359.0h0M318.1 343.3h0M338.1 337.2h0M327.6 365.7h0M326.3 278.6h0M325.8 383.9h0M333.3 417.9h0M362.3 291.1h0M343.4 380.9h0M335.5 406.5h0M327.5 376.0h0M346.1 379.6h0M341.0 327.0h0M338.9 416.5h0M327.2 378.2h0M357.0 318.8h0M338.5 418.1h0M337.0 415.5h0M325.1 300.4h0M335.7 414.0h0M354.5 331.2h0M321.6 358.4h0M359.8 276.3h0M338.8 411.1h0M330.0 287.0h0M334.0 392.2h0M334.6 425.3h0M352.7 299.6h0M331.3 390.5h0M315.3 326.5h0M327.4 389.0h0M343.5 371.4h0M323.1 346.5h0M319.5 333.9h0M349.6 276.0h0M343.7 317.4h0M340.0 412.4h0M334.4 423.1h0M353.5 269.8h0M323.6 317.1h0M327.3 386.7h0M331.5 415.0h0M336.1 284.3h0M335.9 259.7h0M316.7 271.1h0M336.5 279.4h0M321.1 326.5h0M335.4 424.8h0M314.0 320.7h0M347.8 268.0h0M326.9 380.1h0M332.8 411.6h0M342.1 267.3h0M326.0 306.4h0M310.8 291.3h0M350.0 352.0h0M316.9 268.1h0M349.4 360.2h0M332.0 262.0h0M332.4 367.5h0M349.7 335.0h0M331.0 311.5h0M311.9 284.6h0M326.0 350.3h0M328.8 397.9h0M324.6 275.8h0M348.4 345.6h0M335.2 425.8h0M347.4 369.9h0M317.6 271.7h0M317.3 302.5h0M319.2 312.5h0M338.8 408.2h0M338.2 422.1h0M324.8 363.7h0M361.3 286.6h0M356.2 292.3h0M342.7 390.7h0M351.0 306.9h0M352.1 328.7h0M353.5 325.3h0M343.3 359.8h0M335.5 435.6h0M327.0 372.7h0M329.0 396.9h0M339.0 397.4h0M323.2 337.4h0M315.7 324.5h0M335.1 433.2h0M348.6 316.2h0M335.0 268.4h0M329.2 359.7h0M335.4 319.6h0M354.8 325.6h0M327.3 311.0h0M342.7 394.7h0M324.6 363.4h0M331.3 411.1h0M331.1 409.4h0M335.7 429.2h0M348.7 364.9h0M327.7 359.2h0M342.9 375.8h0M335.8 432.5h0M334.8 273.7h0M343.0 373.4h0M335.2 434.9h0M336.1 411.7h0M345.3 319.5h0M348.7 289.1h0M319.6 271.7h0M352.8 279.9h0M313.0 305.8h0M337.8 293.2h0M342.3 397.7h0M321.3 346.2h0M334.5 430.9h0M321.4 349.2h0M341.5 262.9h0M333.7 420.2h0M333.6 269.6h0M320.3 308.0h0M333.4 422.4h0M331.5 279.0h0M327.3 375.5h0M342.5 334.7h0M352.0 347.1h0M336.6 422.8h0M340.7 381.9h0M336.3 432.0h0M336.2 378.6h0M341.9 396.3h0M335.0 430.4h0M344.5 371.8h0M325.5 281.6h0M330.9 302.8h0M338.0 416.8h0M348.5 270.5h0M333.8 411.9h0M333.4 283.8h0M340.3 403.2h0M336.5 426.7h0M323.2 361.0h0M310.4 282.3h0M336.6 403.1h0M337.2 427.0h0M358.1 286.2h0M325.6 306.5h0M328.9 313.0h0M321.7 359.2h0M340.0 369.8h0M348.4 322.1h0M334.6 429.1h0M333.9 414.3h0M358.3 303.9h0M312.8 274.1h0M331.4 355.1h0M339.8 397.2h0M334.9 259.8h0M340.3 410.6h0M335.8 425.9h0M357.1 304.8h0M333.7 424.2h0M322.8 319.8h0M326.6 270.8h0M332.5 335.7h0M338.6 408.7h0M324.6 274.7h0M344.8 381.8h0M341.1 400.3h0M353.4 323.7h0M335.2 433.6h0M327.9 383.6h0M320.2 264.2h0M340.3 396.5h0M334.2 261.2h0M330.6 406.1h0M321.3 315.7h0M316.0 317.3h0M322.2 338.0h0M330.2 385.6h0M337.6 423.5h0M336.2 416.3h0M341.0 404.1h0M343.1 290.6h0M341.1 405.8h0M333.9 349.9h0M333.6 341.8h0M332.6 419.8h0M360.3 301.7h0M340.5 361.9h0M312.8 306.5h0M320.6 332.3h0M334.5 430.4h0M331.5 356.5h0M320.7 340.4h0M331.4 413.6h0M311.1 287.1h0M325.5 371.7h0M355.0 267.9h0M347.8 318.6h0M319.0 291.5h0M357.1 291.4h0M339.3 366.0h0M346.6 312.2h0M319.0 338.9h0M326.2 374.5h0M331.8 317.5h0M346.9 332.4h0M325.2 361.5h0M325.4 373.6h0M357.2 288.1h0M349.8 356.0h0M346.0 264.3h0M334.1 397.2h0M349.3 340.6h0M360.9 294.5h0M335.1 317.0h0M354.6 324.7h0M329.7 357.4h0M328.3 397.8h0M359.7 279.7h0M336.9 378.0h0M347.4 269.8h0M334.1 427.2h0M337.4 385.0h0M348.8 283.5h0M349.8 319.0h0M328.7 307.5h0M361.4 289.0h0M329.2 300.8h0M353.4 337.7h0M333.0 366.3h0M350.0 327.8h0M329.8 393.3h0M329.5 400.5h0M326.9 302.5h0M337.5 396.3h0M346.7 370.7h0M338.2 279.0h0M352.4 276.4h0M358.7 292.0h0M325.6 334.3h0M356.6 296.2h0M334.0 424.1h0M332.6 420.8h0M336.9 418.0h0M335.5 430.4h0M313.6 309.3h0M344.2 306.4h0M353.5 338.9h0M321.7 358.0h0M326.9 311.4h0M331.7 412.9h0M331.8 298.2h0M339.2 399.1h0M318.1 335.1h0M351.3 338.7h0M352.4 269.3h0M331.8 404.9h0M350.3 352.8h0M325.3 380.9h0M330.0 271.7h0M310.4 297.2h0M335.1 427.2h0M333.0 271.8h0M320.0 348.8h0M321.8 264.2h0M338.4 386.8h0M336.8 366.0h0M337.5 334.2h0M336.4 279.4h0M329.8 404.3h0M340.1 359.4h0M339.6 390.7h0M335.6 434.4h0M328.0 362.5h0M346.9 262.7h0M339.1 404.9h0M336.2 421.0h0M330.1 407.1h0M341.9 351.6h0M344.4 367.3h0M339.3 415.9h0M324.9 372.5h0M346.9 304.3h0M348.8 311.6h0M336.4 416.7h0M337.3 426.2h0M336.9 399.2h0M333.8 295.0h0M335.2 429.3h0M334.3 429.5h0M335.0 432.7h0M333.2 314.5h0M341.0 330.2h0M345.0 379.5h0M333.0 410.1h0M328.6 395.4h0M335.8 368.7h0M350.2 322.5h0M336.8 420.8h0M358.3 300.9h0M335.3 432.0h0M337.5 353.9h0M359.5 295.8h0M351.3 311.6h0M346.1 375.5h0M343.8 298.2h0M326.1 295.7h0M351.5 329.3h0M326.3 266.6h0M307.8 331.1h0M358.3 342.8h0M369.6 282.6h0M300.7 290.1h0M300.8 284.6h0M368.8 327.4h0M323.1 334.0h0M356.9 308.0h0M313.5 305.1h0M351.1 267.3h0M296.7 294.3h0M308.6 328.3h0M327.2 301.7h0M315.5 315.5h0M376.3 305.9h0M375.6 310.0h0M303.4 291.7h0M304.1 279.4h0M317.8 341.5h0M363.8 330.6h0M302.1 331.3h0M309.9 278.2h0M313.7 305.2h0M333.5 323.3h0M303.7 282.8h0M370.7 326.1h0M295.8 298.3h0M343.3 351.3h0M355.8 323.0h0M315.7 272.3h0M324.6 309.6h0M357.6 322.1h0M341.6 337.6h0M308.3 339.1h0M361.9 273.5h0M341.2 307.4h0M317.3 270.8h0M339.7 341.4h0M331.1 336.2h0M350.9 332.4h0M356.9 270.2h0M329.1 328.5h0M342.3 274.0h0M345.2 350.8h0M309.0 293.6h0M311.5 287.2h0M341.4 349.1h0M346.4 300.5h0M326.3 268.4h0M302.1 310.9h0M355.2 286.8h0M341.5 270.7h0M361.0 342.4h0M354.1 336.5h0M334.3 276.7h0M339.7 349.9h0M369.1 286.4h0M302.7 334.1h0M375.0 306.7h0M356.3 273.1h0M360.9 333.4h0M361.7 332.6h0M343.2 294.0h0M355.8 345.5h0M367.9 334.9h0M315.6 338.2h0M349.0 339.8h0M350.7 270.6h0M318.1 342.7h0M303.1 282.1h0M315.6 268.5h0M337.1 262.7h0M338.4 328.2h0M337.0 316.6h0M311.1 336.8h0M350.3 336.6h0M376.5 308.3h0M370.4 323.5h0M317.4 345.1h0M367.4 293.4h0M295.4 305.6h0M294.8 309.5h0M304.4 326.1h0M331.2 333.6h0M307.8 274.4h0M339.6 316.3h0M303.8 315.0h0M331.5 318.1h0M303.8 317.3h0M346.5 349.3h0M362.7 316.1h0M301.3 303.6h0M376.2 307.4h0M366.5 297.9h0M299.6 324.6h0M318.9 292.7h0M339.7 293.5h0M344.0 281.8h0M312.4 293.3h0M346.4 347.9h0M303.6 327.6h0M371.5 287.5h0M305.4 310.1h0M300.0 326.1h0M333.8 262.6h0M364.2 339.1h0M337.4 300.1h0M354.8 295.2h0M316.0 345.2h0M303.1 328.0h0M297.4 304.4h0M325.6 296.6h0M356.1 338.5h0M323.2 295.9h0M369.5 309.3h0M363.0 303.5h0M301.4 332.0h0M351.5 304.9h0M300.6 284.3h0M358.2 321.9h0M310.6 291.4h0M309.3 325.7h0M355.8 346.3h0M322.7 271.3h0M348.9 348.3h0M301.6 284.6h0M304.5 291.9h0M304.0 283.6h0M298.9 287.2h0M310.8 271.6h0M343.8 344.1h0M325.6 290.5h0M348.7 265.1h0M320.0 276.6h0M362.0 341.3h0M303.4 333.5h0M335.5 319.8h0M358.6 333.4h0M346.0 275.8h0M310.4 283.1h0M362.0 298.4h0M355.0 346.8h0M322.8 286.9h0M358.2 312.7h0M297.5 308.3h0M295.1 301.2h0M331.5 344.6h0M359.9 289.9h0M357.7 273.4h0M312.5 343.0h0M339.2 350.5h0M364.8 308.6h0M359.5 295.0h0M345.0 343.8h0M316.4 347.0h0M340.3 265.2h0M368.4 329.3h0M326.4 325.1h0M304.5 295.4h0M340.0 321.6h0M304.1 279.3h0M349.6 302.5h0M329.5 349.0h0M371.5 326.2h0M370.1 330.9h0M353.9 268.8h0M303.5 334.7h0M346.6 340.6h0M312.3 297.8h0M302.6 297.8h0M321.8 266.6h0M296.6 297.4h0M371.0 329.4h0M352.7 269.5h0M317.5 314.1h0M305.3 284.2h0M297.9 295.4h0M300.8 327.8h0M328.8 346.3h0M373.7 296.5h0M366.3 288.2h0M340.3 295.6h0M339.5 316.0h0M348.8 343.3h0M367.3 294.5h0M332.4 327.8h0M360.0 308.6h0M297.7 312.5h0M314.9 334.3h0M349.8 327.6h0M327.7 300.9h0M298.4 318.8h0M324.9 303.9h0M312.1 275.7h0M371.3 300.3h0M345.2 294.5h0M306.2 307.8h0M320.3 272.8h0M336.9 351.4h0M367.9 294.8h0M336.0 321.9h0M301.3 321.6h0M364.8 286.6h0M357.8 339.1h0M373.9 323.1h0M331.0 262.9h0M373.5 323.4h0M358.5 320.6h0M354.0 267.5h0M345.2 350.8h0M316.0 334.0h0M314.8 296.9h0M338.7 288.2h0M331.2 304.6h0M354.7 337.6h0M318.4 326.2h0M364.5 298.9h0M358.5 307.2h0M308.5 336.7h0M303.8 321.5h0M336.1 335.1h0M357.5 271.9h0M326.4 341.6h0M324.5 344.9h0M337.7 291.8h0M311.6 282.3h0M301.8 330.2h0M329.4 351.7h0M328.4 341.1h0M306.2 280.0h0M368.0 295.5h0M319.8 270.7h0M303.7 288.5h0M330.1 307.9h0M351.8 268.9h0M324.4 350.2h0M360.7 334.8h0M350.0 270.6h0M349.7 265.5h0M366.8 330.4h0M370.0 285.2h0M309.5 341.0h0M350.7 295.8h0M304.5 327.5h0M338.0 349.5h0M316.5 282.6h0M330.8 315.3h0M357.4 341.5h0M368.0 327.0h0M322.7 300.0h0M375.4 304.6h0M371.3 320.3h0M325.1 342.4h0M302.6 330.1h0M320.2 333.1h0M367.2 325.5h0M331.8 350.1h0M343.2 275.9h0M312.5 278.9h0M294.7 305.6h0M355.9 317.1h0M375.4 297.7h0M359.8 338.0h0M349.7 341.3h0M320.0 347.8h0M299.7 285.8h0M344.0 266.8h0M338.9 266.5h0M314.5 290.2h0M352.3 306.1h0M354.3 282.3h0M354.0 310.9h0M300.3 328.3h0M333.2 350.5h0M355.8 278.7h0M302.1 309.2h0M362.9 286.8h0M371.4 306.5h0M337.2 316.5h0M318.2 299.1h0M358.9 274.9h0M324.9 264.2h0M327.4 287.3h0M327.7 276.8h0M330.7 307.2h0M307.4 275.9h0M328.7 336.5h0M327.8 290.9h0M310.4 342.8h0M373.2 293.7h0M314.8 272.0h0M319.1 315.3h0M331.4 264.7h0M373.2 292.0h0M306.0 298.2h0M334.1 347.4h0M295.4 315.9h0M372.6 288.3h0M360.8 316.4h0M303.4 296.3h0M348.7 276.9h0M312.7 318.1h0M306.6 333.1h0M315.2 278.5h0M295.6 317.6h0M373.4 319.6h0M375.3 317.6h0M299.9 329.4h0M371.6 304.7h0M358.6 276.8h0M333.0 350.2h0M319.1 317.8h0M357.9 306.6h0M305.3 297.1h0M353.0 271.1h0M305.9 337.9h0M347.1 322.0h0M372.8 295.1h0M370.6 328.4h0M345.6 350.8h0M311.8 271.7h0M358.6 340.7h0M340.8 299.4h0M320.9 266.4h0M329.1 309.4h0M337.9 313.4h0M354.9 300.2h0M342.2 349.9h0M327.2 310.5h0M313.1 280.1h0M322.9 281.1h0M341.3 351.7h0M332.2 318.9h0M339.7 338.0h0M335.9 262.6h0M343.0 275.0h0M345.7 346.1h0M349.5 302.6h0M364.2 304.5h0M364.8 328.7h0M317.6 337.4h0M341.7 273.4h0M299.9 323.5h0M368.2 320.5h0M334.5 268.2h0M350.2 345.9h0M354.5 267.9h0M367.8 283.7h0M368.0 282.7h0M300.1 296.1h0M340.2 351.2h0M335.3 319.0h0M313.2 297.4h0M324.2 274.7h0M357.4 273.5h0M339.4 263.5h0M344.0 317.5h0M298.4 292.2h0M311.1 274.2h0M338.8 296.6h0M334.3 346.6h0M320.9 347.0h0M314.4 271.0h0M303.8 280.9h0M350.9 348.9h0M304.5 291.1h0M332.4 342.5h0M363.4 321.6h0M341.1 297.0h0M359.7 342.2h0M319.0 285.4h0M338.0 280.6h0M373.1 318.2h0M340.4 345.4h0M353.9 270.2h0M352.2 318.6h0M302.3 329.2h0M331.5 351.0h0M368.0 313.0h0M319.0 344.9h0M348.1 298.5h0M375.8 315.7h0M356.4 271.1h0M312.2 306.4h0M325.9 279.1h0M352.9 319.2h0M309.5 291.3h0M306.6 329.5h0M317.9 281.4h0M365.8 327.5h0M307.4 309.7h0M356.3 281.3h0M354.3 344.6h0M371.2 285.7h0M354.4 345.8h0M316.0 325.5h0M296.9 322.2h0M355.1 280.2h0M341.1 267.5h0M323.5 274.3h0M304.6 293.7h0M371.3 328.6h0M373.2 294.6h0M363.4 292.5h0M345.5 321.2h0M310.3 275.9h0M323.3 277.8h0M371.4 312.7h0M338.8 314.6h0M322.1 341.6h0M309.6 311.6h0M371.4 307.2h0M348.4 271.8h0M366.0 313.4h0M347.0 342.5h0M372.3 288.3h0M374.5 310.0h0M371.7 295.5h0M303.2 308.3h0M362.9 279.8h0M324.3 341.4h0M303.7 335.6h0M307.8 274.4h0M316.9 343.0h0M323.5 338.7h0M374.2 294.5h0M371.3 329.0h0M356.4 320.8h0M323.0 266.0h0M337.0 328.6h0M349.2 265.2h0M348.3 270.5h0M335.3 344.3h0M356.9 342.8h0M373.7 307.5h0M358.7 287.8h0M353.6 327.1h0M339.1 346.1h0M324.6 287.0h0M337.7 331.9h0M313.4 344.5h0M331.8 270.1h0M351.9 327.6h0M361.7 298.1h0M354.2 337.5h0M354.2 300.2h0M313.8 330.4h0M317.6 312.8h0M334.6 288.6h0M314.2 279.7h0M318.2 293.7h0M320.4 279.4h0M302.5 323.7h0M371.0 324.9h0M300.6 325.8h0M352.1 275.4h0M356.0 270.2h0M328.7 348.2h0M339.7 327.2h0M296.6 293.2h0M373.8 319.7h0M307.4 339.1h0M317.2 271.1h0M345.2 267.6h0M304.9 333.8h0M328.9 272.5h0M354.0 280.3h0M310.0 306.0h0M305.4 308.9h0M328.0 299.2h0M342.9 347.2h0M363.4 340.2h0M356.4 288.8h0M362.2 294.1h0M342.2 286.1h0M364.2 312.0h0M356.8 279.0h0M331.2 287.2h0M321.8 316.9h0M328.0 294.1h0M297.0 315.7h0M308.1 274.4h0M323.3 302.2h0M355.3 299.6h0M305.8 319.5h0M373.5 311.0h0M352.3 344.2h0M360.5 280.2h0M342.5 319.8h0M300.9 287.9h0M351.6 345.6h0M359.2 279.6h0M344.8 336.2h0M316.6 275.7h0M358.6 273.9h0M328.6 321.2h0M360.6 340.8h0M314.7 271.4h0M374.7 309.0h0M336.7 351.8h0M350.0 334.7h0M371.0 327.2h0M300.9 316.1h0M354.1 345.5h0M313.6 291.7h0M349.0 289.6h0M354.6 347.0h0M353.2 282.0h0M374.8 315.6h0M355.0 283.4h0M323.8 264.6h0M368.9 327.3h0M298.5 310.5h0M299.4 286.2h0M332.1 350.6h0M355.6 288.7h0M363.9 339.5h0M352.6 323.8h0M309.0 274.2h0M341.2 346.6h0M316.6 344.6h0M330.3 280.3h0M351.3 340.4h0M320.8 325.0h0M310.9 315.2h0M362.5 337.4h0M301.8 308.6h0M320.6 272.1h0M305.2 330.0h0M323.5 268.5h0M344.7 276.2h0M368.8 304.4h0M323.4 344.5h0M297.2 315.1h0M358.5 320.9h0M376.4 309.5h0M314.7 274.7h0M308.1 339.8h0M314.1 329.8h0M328.6 349.2h0M320.7 340.3h0M322.1 328.0h0M304.6 298.5h0M312.2 308.5h0M325.0 295.3h0M299.0 327.0h0M341.4 350.9h0M323.6 350.2h0M318.0 338.6h0M363.3 331.8h0M306.5 338.9h0M305.0 323.4h0M342.6 298.3h0M360.3 298.1h0M302.2 281.6h0M338.7 306.7h0M305.9 276.7h0M343.0 348.1h0M376.1 308.9h0M372.6 319.8h0M295.1 309.1h0M322.6 333.8h0M330.0 272.2h0M337.7 349.8h0M345.0 310.6h0M305.5 322.5h0M315.5 343.0h0M322.1 270.1h0M307.3 276.2h0M346.0 264.1h0M363.5 307.9h0M348.7 302.9h0M305.7 310.6h0M309.9 333.4h0M366.4 333.5h0M344.8 328.0h0M329.1 266.0h0M363.9 275.9h0M363.3 320.0h0M300.2 319.9h0M360.4 276.7h0M313.2 318.7h0M332.0 349.3h0M337.3 310.2h0M327.0 348.1h0M312.5 278.2h0M315.9 279.0h0M304.4 289.9h0M320.2 340.1h0M296.5 307.0h0M315.9 329.8h0M334.0 262.7h0M357.8 321.4h0M332.6 262.7h0M325.4 279.0h0M316.9 270.2h0M306.7 328.6h0M335.6 285.9h0M341.0 265.8h0M360.3 276.2h0M297.3 307.1h0M335.5 317.0h0M350.2 267.1h0M358.3 319.2h0M374.1 322.2h0M355.6 270.2h0M322.0 266.3h0M357.0 287.5h0M334.6 325.4h0M336.5 322.5h0M314.4 321.0h0M365.2 333.2h0M348.3 271.9h0M375.0 313.7h0M331.0 341.9h0M343.0 316.4h0M371.1 578.4h0M362.1 566.3h0M330.6 541.4h0M307.7 591.3h0M370.5 580.1h0M311.1 592.2h0M320.4 570.0h0M300.7 574.7h0M352.3 593.5h0M317.6 596.6h0M318.4 592.6h0M326.0 557.4h0M313.6 576.9h0M301.2 550.8h0M370.0 565.7h0M319.9 540.2h0M313.3 541.3h0M331.1 518.6h0M360.7 590.1h0M355.3 594.7h0M332.0 518.3h0M303.1 582.1h0M349.4 601.0h0M361.1 561.3h0M333.4 524.2h0M331.1 549.7h0M371.3 571.3h0M372.3 554.2h0M344.2 545.9h0M296.9 558.3h0M313.0 528.1h0M360.1 565.8h0M344.0 529.1h0M364.6 569.2h0M323.3 592.6h0M347.0 589.5h0M350.8 561.8h0M315.5 570.3h0M370.7 543.7h0M349.2 551.2h0M350.8 536.3h0M301.7 576.4h0M317.3 526.1h0M308.9 580.0h0M334.2 518.2h0M350.9 528.7h0M348.0 584.8h0M335.0 536.6h0M355.9 593.0h0M314.0 588.6h0M371.4 574.0h0M309.2 531.1h0M355.3 525.0h0M347.6 570.1h0M314.2 563.7h0M357.1 525.3h0M346.2 600.3h0M338.9 527.5h0M350.5 536.3h0M322.8 598.8h0M323.9 520.0h0M374.9 561.3h0M356.5 527.2h0M338.9 547.3h0M303.8 538.9h0M343.0 603.0h0M368.6 569.4h0M337.3 526.7h0M304.2 579.8h0M343.2 519.3h0M364.7 589.9h0M307.2 590.7h0M341.5 545.5h0M305.9 586.8h0M325.7 583.1h0M367.8 584.2h0M314.2 596.2h0M330.0 524.0h0M348.1 597.8h0M340.4 602.9h0M325.0 533.6h0M338.0 590.3h0M300.3 572.5h0M336.4 519.7h0M338.0 599.6h0M314.1 548.1h0M326.1 532.6h0M345.4 577.7h0M350.2 525.1h0M350.8 566.0h0M372.4 560.4h0M301.0 580.2h0M333.2 526.2h0M325.5 572.1h0M327.9 595.8h0M321.5 540.7h0M373.2 562.2h0M338.4 550.9h0M362.3 558.4h0M318.8 554.9h0M323.5 583.4h0M315.4 560.5h0M362.1 529.4h0M299.3 544.4h0M313.8 592.3h0M369.8 542.7h0M365.5 584.7h0M358.0 594.4h0M326.9 543.7h0M368.7 554.3h0M343.6 556.9h0M352.1 543.2h0M342.6 601.1h0M302.4 578.1h0M304.6 552.8h0M299.6 578.3h0M356.2 540.0h0M307.4 584.8h0M357.4 527.2h0M359.0 572.4h0M364.5 573.9h0M316.6 582.6h0M296.5 565.9h0M342.0 551.9h0M307.3 531.0h0M346.6 527.9h0M372.6 551.1h0M340.6 524.7h0M351.3 598.4h0M315.4 533.3h0M374.1 558.4h0M365.9 567.1h0M339.9 575.1h0M337.6 575.2h0M359.3 560.4h0M325.1 519.7h0M323.3 522.2h0M348.0 541.3h0M337.7 559.5h0M370.1 551.6h0M296.7 556.4h0M363.3 548.2h0M305.9 589.4h0M342.0 594.9h0M329.1 582.8h0M345.0 559.6h0M352.4 589.0h0M354.9 523.7h0M302.6 577.9h0M303.7 553.3h0M310.2 574.3h0M341.3 562.8h0M327.3 592.2h0M302.5 575.9h0M322.8 597.0h0M344.4 583.0h0M306.5 548.2h0M370.0 574.4h0M305.8 589.3h0M311.4 593.8h0M317.5 586.9h0M330.1 598.9h0M312.9 533.1h0M318.5 541.7h0M352.1 556.9h0M347.0 521.1h0M372.1 573.4h0M348.8 549.9h0M360.4 591.4h0M369.2 572.8h0M321.5 551.0h0M349.3 577.9h0M350.7 533.4h0M356.2 574.2h0M358.3 526.3h0M343.5 601.4h0M298.8 563.0h0M307.8 571.5h0M346.4 599.0h0M374.4 567.7h0M351.6 574.4h0M373.4 551.0h0M373.5 560.0h0M300.7 551.4h0M326.7 528.7h0M307.8 560.0h0M305.0 573.4h0M372.7 565.3h0M355.1 550.3h0M353.5 542.5h0M352.2 583.7h0M366.2 544.8h0M336.1 568.3h0M361.0 553.7h0M354.8 525.3h0M314.3 528.7h0M357.2 576.3h0M322.0 599.8h0M367.9 576.0h0M350.9 536.8h0M338.8 600.7h0M314.2 592.7h0M297.2 567.1h0M308.7 554.6h0M358.3 570.8h0M342.3 518.6h0M303.5 549.9h0M300.6 552.1h0M337.7 569.4h0M316.1 581.6h0M332.5 530.4h0M320.7 556.3h0M302.3 579.5h0M337.6 569.3h0M313.2 570.1h0M357.8 540.6h0M302.0 582.7h0M316.8 554.2h0M331.3 602.3h0M302.6 550.5h0M354.8 527.8h0M356.8 529.5h0M297.5 566.6h0M317.7 540.8h0M332.2 529.9h0M345.9 520.0h0M369.2 539.1h0M361.3 574.1h0M336.9 603.9h0M363.8 546.8h0M305.6 565.9h0M322.1 527.5h0M342.2 597.7h0M322.9 595.9h0M361.5 560.4h0M331.5 537.9h0M311.9 591.6h0M368.4 572.7h0M306.6 583.1h0M373.9 551.7h0M319.6 522.2h0M335.0 601.9h0M342.1 591.1h0M350.4 599.4h0M350.8 529.8h0M351.1 523.9h0M344.7 519.8h0M366.4 562.9h0M363.1 547.1h0M353.4 522.7h0M343.8 601.0h0M302.8 582.9h0M366.8 585.1h0M331.8 546.4h0M369.2 551.6h0M338.9 579.8h0M362.9 533.6h0M361.1 548.5h0M371.7 549.5h0M339.9 527.5h0M318.8 581.3h0M304.0 560.7h0M363.8 539.9h0M330.6 524.9h0M349.3 537.1h0M356.6 595.1h0M315.1 564.2h0M333.2 591.8h0M367.9 570.9h0M299.0 576.9h0M355.3 528.4h0M369.7 546.7h0M363.1 580.7h0M321.5 536.0h0M342.7 518.9h0M306.3 547.8h0M339.7 603.9h0M298.8 555.9h0M343.7 537.7h0M341.2 535.2h0M338.9 571.0h0M363.5 567.5h0M358.6 570.9h0M355.6 580.9h0M307.6 530.8h0M305.1 533.8h0M363.6 567.4h0M329.7 550.4h0M305.3 581.0h0M341.7 547.3h0M340.6 559.1h0M323.1 529.8h0M355.8 524.8h0M307.5 552.1h0M324.5 541.2h0M298.5 548.0h0M358.4 530.2h0M300.9 540.6h0M346.7 590.9h0M346.0 528.6h0M341.3 590.3h0M347.3 541.4h0M323.5 536.7h0M311.8 576.3h0M311.3 562.8h0M344.9 548.6h0M350.8 532.2h0M324.1 550.3h0M318.8 575.9h0M359.5 537.0h0M353.9 560.1h0M356.4 566.4h0M330.9 595.4h0M338.9 546.0h0M319.0 544.4h0M313.1 549.5h0M305.6 571.4h0M325.2 527.9h0M355.4 569.9h0M357.7 586.8h0M330.9 578.2h0M352.7 536.8h0M359.1 539.5h0M364.3 586.2h0M321.7 539.2h0M355.0 584.4h0M359.4 583.0h0M349.8 555.3h0M334.5 557.6h0M361.3 555.0h0M343.9 545.6h0M350.9 545.9h0M328.6 564.7h0M352.8 579.2h0M335.8 543.8h0M336.3 540.4h0M362.0 533.7h0M345.9 546.9h0M350.9 588.4h0M318.6 569.6h0M335.4 547.9h0M329.5 583.6h0M330.8 567.4h0M341.5 580.3h0M313.0 590.4h0M367.3 546.2h0M326.3 576.9h0M351.2 574.2h0M329.4 548.6h0M323.6 543.4h0M363.7 550.0h0M344.8 584.7h0M325.4 535.1h0M339.0 582.1h0M343.1 568.7h0M342.2 529.1h0M310.7 571.3h0M363.3 571.4h0M310.6 573.3h0M340.5 585.3h0M331.3 533.1h0M322.2 529.4h0M336.0 560.7h0M339.1 592.6h0M360.7 583.5h0M304.9 585.6h0M301.4 576.8h0M313.4 539.5h0M359.1 543.2h0M328.7 595.4h0M353.9 580.2h0M321.0 526.2h0M319.9 561.2h0M341.5 541.4h0M360.9 565.9h0M330.3 539.6h0M309.5 575.2h0M306.5 569.0h0M318.8 589.9h0M323.7 596.3h0M351.3 572.6h0M349.6 548.6h0M324.5 549.8h0M344.3 574.6h0M342.0 535.7h0M353.0 549.7h0M313.4 567.7h0M337.3 583.7h0M351.2 541.6h0M341.9 556.1h0M325.6 542.4h0M342.3 554.5h0M353.3 571.7h0M362.8 535.4h0M314.6 561.6h0M338.6 587.2h0M338.7 556.3h0M349.6 582.8h0M345.9 555.5h0M315.2 575.2h0M335.1 596.1h0M305.3 554.9h0M326.8 544.5h0M347.6 582.8h0M338.7 530.0h0M343.8 572.0h0M359.2 568.5h0M360.3 568.2h0M298.3 565.5h0M328.1 534.9h0M309.5 539.6h0M325.2 584.2h0M324.9 571.9h0M357.8 575.5h0M344.0 524.5h0M354.1 524.2h0M369.4 558.9h0M325.0 555.5h0M336.6 572.6h0M360.4 563.9h0M308.9 550.9h0M325.6 547.7h0M299.7 558.7h0M316.7 548.0h0M347.8 586.6h0M312.2 547.1h0M330.6 549.3h0M362.1 553.4h0M318.7 530.1h0M320.8 569.6h0M333.2 580.0h0M342.5 581.4h0M318.2 552.6h0M341.0 557.7h0M372.7 557.0h0M314.8 565.9h0M348.6 554.4h0M324.8 558.6h0M338.7 573.1h0M350.1 567.4h0M310.8 543.7h0M333.7 548.2h0M324.3 562.1h0M303.8 548.9h0M326.5 546.9h0M336.3 562.9h0M345.9 583.4h0M344.5 547.6h0M335.8 588.8h0M349.4 584.6h0M316.3 588.5h0M348.3 566.4h0M329.8 584.4h0M353.1 541.9h0M300.1 564.7h0M312.1 533.6h0M350.7 570.3h0M323.9 522.2h0M323.1 585.1h0M353.6 535.5h0M333.8 590.2h0M360.2 545.5h0M346.8 556.4h0M332.6 535.1h0M341.4 569.3h0M340.6 558.6h0M352.9 549.2h0M317.4 532.4h0M351.4 558.9h0M306.3 551.5h0M335.3 598.9h0M334.1 600.9h0M338.9 595.0h0M326.9 588.4h0M344.8 592.9h0M334.5 599.1h0M339.2 597.6h0M346.3 591.7h0M342.3 597.9h0M341.1 593.4h0M343.9 595.5h0M316.8 591.2h0M327.4 594.3h0M329.1 598.7h0M336.5 598.9h0M354.0 595.4h0M341.6 593.5h0M342.6 600.3h0M329.9 591.3h0M336.2 590.6h0M338.2 598.2h0M322.8 593.5h0M333.2 589.2h0M331.6 596.5h0M324.5 583.3h0M340.6 596.6h0M343.4 593.4h0M343.9 589.3h0M344.2 593.5h0M341.6 600.3h0M339.3 588.1h0M342.8 591.3h0M329.9 598.3h0M342.8 589.5h0M339.9 589.5h0M340.5 599.8h0M337.2 593.9h0M329.7 596.8h0M335.0 602.6h0M326.2 594.8h0M346.2 596.9h0M328.3 594.9h0M330.9 598.1h0M343.0 597.3h0M352.1 594.3h0M332.6 595.9h0M337.4 589.6h0M344.6 598.2h0M335.5 597.5h0M340.8 594.4h0M343.0 597.0h0M325.3 597.5h0M334.3 595.4h0M336.0 596.2h0M337.7 600.1h0M334.3 594.8h0M343.2 593.0h0M349.4 592.1h0M329.8 592.8h0M329.0 595.3h0M326.8 592.9h0M329.5 596.9h0M328.2 588.1h0M347.6 585.6h0M339.8 584.4h0M343.7 588.6h0M339.8 599.1h0M335.0 593.8h0M340.9 600.5h0M340.5 597.2h0M341.4 595.8h0M340.4 596.5h0M339.7 593.2h0M338.8 595.7h0M340.2 594.2h0M344.6 597.5h0M331.0 599.6h0M336.0 591.8h0M336.5 587.5h0M325.2 590.4h0M326.8 601.2h0M338.0 598.7h0M331.5 596.5h0M335.5 598.0h0M335.1 594.5h0M337.1 594.2h0M331.0 590.9h0M334.0 600.0h0M334.4 601.7h0M328.2 595.7h0M331.5 598.9h0M326.7 597.7h0M337.8 595.0h0M341.7 598.3h0M324.0 587.9h0M332.8 593.3h0M338.3 599.1h0M321.2 586.6h0M338.0 592.0h0M331.8 593.4h0M332.8 591.6h0M330.7 596.1h0M336.7 589.7h0M344.8 597.4h0M329.0 595.4h0M327.1 598.4h0M332.8 598.6h0M342.7 597.0h0M337.9 602.4h0M336.4 597.1h0M335.8 591.9h0M331.9 592.2h0M343.3 600.2h0M343.0 590.5h0M335.7 594.0h0M342.6 599.1h0M346.1 593.6h0M329.9 590.2h0M332.2 596.9h0M332.0 595.0h0M331.0 597.6h0M332.5 591.5h0M335.2 600.0h0M331.9 598.8h0M345.3 601.0h0M336.6 594.6h0M332.0 594.5h0M341.5 594.0h0M352.8 595.8h0M332.9 596.8h0M338.5 599.3h0M335.5 593.3h0M334.7 599.3h0M332.9 594.9h0M326.1 596.6h0M336.2 592.7h0M346.2 596.4h0M334.8 597.2h0M339.4 598.4h0M341.5 596.3h0M343.0 589.6h0M337.9 594.2h0M334.0 591.7h0M343.0 594.8h0M326.8 583.2h0M341.2 595.7h0M330.2 594.5h0M329.1 595.8h0M329.7 585.4h0M335.9 599.9h0M350.1 596.1h0M345.9 595.9h0M331.2 600.2h0M338.9 599.8h0M333.6 595.1h0M337.3 592.4h0M340.3 590.9h0M325.9 594.4h0M328.4 597.0h0M335.2 595.7h0M330.8 601.5h0M340.2 599.4h0M324.7 591.8h0M331.4 589.3h0M345.0 592.1h0M330.1 598.5h0M327.8 586.3h0M340.5 585.8h0M331.2 598.7h0M336.9 591.7h0" stroke="#ff0000" stroke-width="2.5"/>
</g>
<g id="lbl3d">
<text transform="translate(110.15,672.59)" x="-16.81" y="10.60" font-size="13.89" textLength="33.62" lengthAdjust="spacingAndGlyphs" fill="#000" >−1.0</text>
<text transform="translate(172.77,695.24)" x="-16.75" y="10.60" font-size="13.89" textLength="33.50" lengthAdjust="spacingAndGlyphs" fill="#000" >−0.5</text>
<text transform="translate(236.58,718.32)" x="-10.94" y="10.60" font-size="13.89" textLength="21.88" lengthAdjust="spacingAndGlyphs" fill="#000" >0.0</text>
<text transform="translate(301.62,741.84)" x="-10.94" y="10.60" font-size="13.89" textLength="21.88" lengthAdjust="spacingAndGlyphs" fill="#000" >0.5</text>
<text transform="translate(367.92,765.82)" x="-11.00" y="10.60" font-size="13.89" textLength="22.00" lengthAdjust="spacingAndGlyphs" fill="#000" >1.0</text>
<text transform="translate(226.60,745.96) rotate(19.68)" x="-35.38" y="4.75" font-size="13.89" textLength="70.75" lengthAdjust="spacingAndGlyphs" fill="#000" >Offset (m)</text>
<text transform="translate(75.46,690.58) rotate(19.68)" x="0.00" y="5.00" font-size="13.89" textLength="34.88" lengthAdjust="spacingAndGlyphs" fill="#000" >1e22</text>
<text transform="translate(432.84,754.85)" x="-16.81" y="10.60" font-size="13.89" textLength="33.62" lengthAdjust="spacingAndGlyphs" fill="#000" >−1.0</text>
<text transform="translate(468.91,713.96)" x="-16.75" y="10.60" font-size="13.89" textLength="33.50" lengthAdjust="spacingAndGlyphs" fill="#000" >−0.5</text>
<text transform="translate(503.80,674.40)" x="-10.94" y="10.60" font-size="13.89" textLength="21.88" lengthAdjust="spacingAndGlyphs" fill="#000" >0.0</text>
<text transform="translate(537.58,636.11)" x="-10.94" y="10.60" font-size="13.89" textLength="21.88" lengthAdjust="spacingAndGlyphs" fill="#000" >0.5</text>
<text transform="translate(570.31,599.01)" x="-11.00" y="10.60" font-size="13.89" textLength="22.00" lengthAdjust="spacingAndGlyphs" fill="#000" >1.0</text>
<text transform="translate(520.44,697.14) rotate(-48.16)" x="-35.38" y="4.75" font-size="13.89" textLength="70.75" lengthAdjust="spacingAndGlyphs" fill="#000" >Offset (m)</text>
<text transform="translate(599.10,606.39) rotate(-48.16)" x="-37.17" y="5.00" font-size="13.89" textLength="34.88" lengthAdjust="spacingAndGlyphs" fill="#000" >1e22</text>
<text transform="translate(591.79,535.32)" x="-16.81" y="10.60" font-size="13.89" textLength="33.62" lengthAdjust="spacingAndGlyphs" fill="#000" >−1.0</text>
<text transform="translate(594.49,467.91)" x="-16.75" y="10.60" font-size="13.89" textLength="33.50" lengthAdjust="spacingAndGlyphs" fill="#000" >−0.5</text>
<text transform="translate(597.25,399.06)" x="-10.94" y="10.60" font-size="13.89" textLength="21.88" lengthAdjust="spacingAndGlyphs" fill="#000" >0.0</text>
<text transform="translate(600.07,328.74)" x="-10.94" y="10.60" font-size="13.89" textLength="21.88" lengthAdjust="spacingAndGlyphs" fill="#000" >0.5</text>
<text transform="translate(602.96,256.87)" x="-11.00" y="10.60" font-size="13.89" textLength="22.00" lengthAdjust="spacingAndGlyphs" fill="#000" >1.0</text>
<text transform="translate(620.94,395.93) rotate(-87.89)" x="-35.38" y="4.75" font-size="13.89" textLength="70.75" lengthAdjust="spacingAndGlyphs" fill="#000" >Offset (m)</text>
<text transform="translate(630.27,223.47) rotate(-87.89)" x="-37.17" y="5.00" font-size="13.89" textLength="34.88" lengthAdjust="spacingAndGlyphs" fill="#000" >1e22</text>
</g>
<g id="title">
<text x="380.95" y="23.80" font-size="16.67" textLength="608.50" lengthAdjust="spacingAndGlyphs" fill="#000">Projected image of the jets for an ordered boosted synchrotron emission.</text>
<text x="132.45" y="44.60" font-size="16.67" textLength="1105.50" lengthAdjust="spacingAndGlyphs" fill="#000">With phi = 20deg, jet aperture angle = 10.0deg, nu = 5e+09 Hz, B = 1e-04 T, gamma_max = 1e+4.5, p = 3.15, gamma_bulk = 4.0.</text>
</g>
<g id="ax2">
<g id="lobes">
<defs><radialGradient id="gt" gradientUnits="userSpaceOnUse" cx="1078" cy="402" r="52"><stop offset="0" stop-color="rgb(218,210,255)"/><stop offset="0.4" stop-color="rgb(226,211,254)"/><stop offset="0.68" stop-color="rgb(240,214,250)"/><stop offset="0.9" stop-color="rgb(252,221,241)"/><stop offset="1" stop-color="rgb(255,225,236)"/></radialGradient><radialGradient id="gb" gradientUnits="userSpaceOnUse" cx="1078.2" cy="508" r="56"><stop offset="0" stop-color="rgb(255,219,240)"/><stop offset="0.8" stop-color="rgb(255,221,238)"/><stop offset="1" stop-color="rgb(255,228,234)"/></radialGradient></defs>
<circle cx="1078.2" cy="387.6" r="56.0" fill="url(#gt)"/>
<polygon points="1060,440 1077.5,449.5 1096,440" fill="rgb(246,216,246)"/>
<circle cx="1078.2" cy="508.1" r="55.6" fill="url(#gb)"/>
<rect x="1075.5" y="522.8" width="5.6" height="6" fill="rgb(236,214,250)"/>
<path d="M1068.4 443.3A56.6 56.6 0 1 1 1088.0 443.3" fill="none" stroke="rgb(255,223,32)" stroke-width="2.0" stroke-dasharray="3 13 2.5 17" stroke-dashoffset="4"/>
<path d="M1080.2 451.9A56.2 56.2 0 1 1 1076.2 451.9" fill="none" stroke="rgb(255,223,32)" stroke-width="2.0" stroke-dasharray="3 13 2.5 17" stroke-dashoffset="9"/>
<path d="M1065.7 441.8A55.6 55.6 0 1 1 1090.7 441.8" fill="none" stroke="rgb(255,150,80)" stroke-width="2.08" stroke-dasharray="10 3.2 12 3.2 5 3.2"/>
<path d="M1068.6 453.6A55.3 55.3 0 1 1 1067.6 453.8" fill="none" stroke="rgb(255,150,80)" stroke-width="2.08" stroke-dasharray="10 3.2 12 3.2 5 3.2"/>
<path d="M1068.5 453.2H1087.5" stroke="rgb(255,150,80)" stroke-width="2.4" fill="none"/>
<path d="M1064 454.3h4M1088.5 454.3h4" stroke="rgb(255,223,32)" stroke-width="2.2" fill="none"/>
<path d="M1075.8 446.1C1074.8 445.2 1071.3 442.1 1069.8 440.4C1068.3 438.6 1067.9 437.1 1067.0 435.7C1066.1 434.3 1065.4 432.8 1064.2 432.0C1063.0 431.1 1061.3 431.2 1059.6 430.6C1057.9 430.0 1055.9 429.1 1054.0 428.3C1052.1 427.4 1050.1 426.6 1048.4 425.5C1046.7 424.4 1045.3 423.3 1043.8 421.8C1042.2 420.2 1040.6 418.5 1039.1 416.2C1037.7 413.9 1036.1 410.8 1035.0 407.9C1033.8 404.9 1033.0 401.7 1032.2 398.6C1031.3 395.5 1030.3 392.4 1029.9 389.3C1029.4 386.2 1029.2 383.1 1029.4 380.0C1029.6 376.9 1029.9 374.3 1030.9 370.8C1032.0 367.3 1033.7 362.8 1035.8 359.1C1037.9 355.5 1040.5 352.1 1043.4 349.1C1046.4 346.2 1049.8 343.6 1053.4 341.5C1057.1 339.4 1061.1 337.7 1065.1 336.6C1069.1 335.6 1073.4 335.0 1077.6 335.0C1081.8 335.0 1086.1 335.6 1090.1 336.6C1094.1 337.7 1098.1 339.4 1101.8 341.5C1105.4 343.6 1108.8 346.2 1111.8 349.1C1114.7 352.1 1117.3 355.5 1119.4 359.1C1121.5 362.8 1123.2 367.3 1124.3 370.8C1125.3 374.3 1125.3 376.9 1125.7 380.0C1126.1 383.1 1126.8 386.2 1126.6 389.3C1126.5 392.4 1125.7 395.5 1124.8 398.6C1123.9 401.7 1122.6 404.8 1121.1 407.9C1119.5 411.0 1117.5 414.5 1115.5 417.1C1113.5 419.8 1111.3 421.8 1109.0 423.6C1106.7 425.5 1104.0 426.9 1101.6 428.3C1099.1 429.7 1096.3 430.8 1094.1 432.0C1092.0 433.2 1090.3 434.2 1088.6 435.7C1086.9 437.3 1085.6 439.5 1083.9 441.3C1082.3 443.0 1079.7 445.3 1078.8 446.1" fill="none" stroke="rgb(255,77,178)" stroke-width="2.08" stroke-linejoin="round"/>
<path d="M1039.8 379.8C1039.4 378.9 1038.0 375.2 1037.4 374.8C1036.7 374.3 1036.2 376.8 1036.0 377.2" fill="none" stroke="rgb(255,77,178)" stroke-width="2.08"/>
<path d="M1042.9 412.5C1043.5 413.4 1045.0 416.2 1046.6 418.1C1048.1 419.9 1050.3 422.1 1052.1 423.6C1054.0 425.2 1055.8 426.3 1057.7 427.2C1059.6 428.0 1062.7 428.9 1063.5 428.7C1064.2 428.4 1063.2 427.1 1062.4 425.5C1061.5 423.9 1060.0 421.3 1058.6 419.0C1057.2 416.7 1055.4 414.2 1054.0 411.6C1052.6 408.9 1051.7 405.8 1050.3 403.2C1048.9 400.6 1047.0 398.3 1045.6 395.8C1044.2 393.3 1043.2 390.7 1041.9 388.4C1040.7 386.0 1038.7 383.5 1038.2 381.9C1037.7 380.2 1039.0 379.1 1039.1 378.6" fill="none" stroke="rgb(255,77,178)" stroke-width="2.08" stroke-linejoin="round"/>
<path d="M1097.9 427.5C1098.8 426.9 1101.4 425.4 1103.4 423.6C1105.4 421.9 1107.9 419.8 1109.9 417.1C1111.9 414.5 1113.9 411.0 1115.5 407.9C1117.0 404.8 1118.3 401.7 1119.2 398.6C1120.2 395.5 1121.0 391.8 1121.3 389.3C1121.5 386.8 1121.2 385.4 1120.6 383.7C1120.0 382.0 1118.5 378.7 1117.8 379.1C1117.1 379.5 1117.3 384.2 1116.4 386.0C1115.6 387.9 1113.6 388.7 1112.7 390.2C1111.8 391.7 1111.2 394.1 1110.9 394.9" fill="none" stroke="rgb(255,77,178)" stroke-width="2.08" stroke-linejoin="round"/>
<path d="M1097.9 427.5C1097.6 427.0 1096.3 425.5 1096.3 424.6C1096.3 423.7 1097.6 422.6 1097.9 422.2" fill="none" stroke="rgb(255,77,178)" stroke-width="2.08"/>
<path d="M1076.5 446.4C1075.5 444.6 1072.4 439.0 1070.7 435.7C1069.0 432.4 1067.8 429.8 1066.1 426.4C1064.4 423.0 1062.4 419.0 1060.5 415.3C1058.6 411.6 1056.6 407.7 1054.9 404.1C1053.2 400.6 1051.4 396.7 1050.3 393.9C1049.2 391.1 1048.8 389.7 1048.4 387.4C1048.0 385.1 1048.0 381.5 1048.0 380.0C1048.0 378.5 1047.8 380.2 1048.4 378.5C1049.1 376.8 1050.1 372.4 1051.9 369.6C1053.6 366.8 1056.2 363.9 1058.8 361.7C1061.5 359.5 1064.8 357.4 1067.7 356.2C1070.7 355.1 1073.8 354.8 1076.6 354.8C1079.4 354.8 1081.7 355.2 1084.6 356.2C1087.4 357.2 1090.7 358.6 1093.5 360.7C1096.3 362.8 1099.2 365.6 1101.4 368.6C1103.5 371.6 1105.3 375.6 1106.3 378.5C1107.4 381.4 1107.6 384.7 1107.8 385.9" fill="none" stroke="rgb(142,4,255)" stroke-width="2.08" stroke-linejoin="round"/>
<path d="M1093.2 421.8C1092.7 422.6 1091.7 424.1 1090.4 426.4C1089.2 428.7 1087.6 432.5 1085.8 435.7C1083.9 438.9 1080.4 443.8 1079.3 445.5" fill="none" stroke="rgb(142,4,255)" stroke-width="2.08"/>
<path d="M1077.9 447.0C1077.4 445.9 1075.6 443.2 1074.6 440.4C1073.6 437.5 1072.5 433.7 1071.9 430.1C1071.2 426.6 1071.0 422.7 1070.9 419.0C1070.9 415.3 1070.9 412.0 1071.4 407.9C1071.9 403.7 1073.0 397.7 1073.7 393.9C1074.4 390.2 1075.0 388.7 1075.6 385.4C1076.3 382.2 1076.8 374.9 1077.4 374.3C1078.1 373.6 1079.2 380.3 1079.6 381.5" fill="none" stroke="rgb(28,0,255)" stroke-width="2.08" stroke-linejoin="round"/>
<path d="M1085.3 420.4C1085.2 421.4 1085.2 423.9 1084.9 426.4C1084.5 429.0 1084.1 432.4 1083.0 435.7C1081.9 439.0 1079.3 444.6 1078.5 446.4" fill="none" stroke="rgb(28,0,255)" stroke-width="2.08"/>
<polygon points="1075.7,449.9 1077.5,445.7 1079.3,449.9" fill="rgb(28,0,255)"/>
<path d="M1062.0 465.1C1060.5 465.6 1056.2 466.4 1053.3 467.7C1050.4 469.0 1047.3 470.8 1044.7 472.9C1042.1 475.1 1039.7 477.8 1037.7 480.7C1035.7 483.6 1033.9 487.1 1032.5 490.3C1031.2 493.4 1030.1 496.6 1029.6 499.8C1029.1 503.0 1029.2 506.0 1029.4 509.3C1029.6 512.6 1030.0 516.2 1030.8 519.7C1031.6 523.2 1032.7 526.8 1034.3 530.1C1035.8 533.4 1038.0 536.7 1040.3 539.6C1042.6 542.5 1045.2 545.2 1048.1 547.4C1051.0 549.7 1054.5 551.5 1057.7 553.0C1060.8 554.5 1064.0 555.6 1067.2 556.4C1070.4 557.3 1073.8 557.7 1076.7 557.8C1079.6 558.0 1081.6 557.9 1084.5 557.5C1087.4 557.1 1090.9 556.3 1094.0 555.2C1097.2 554.1 1100.7 552.6 1103.6 550.9C1106.5 549.2 1109.1 547.1 1111.4 544.8C1113.7 542.5 1115.6 539.9 1117.4 537.0C1119.3 534.1 1121.0 530.7 1122.3 527.5C1123.6 524.3 1124.5 521.0 1125.2 518.0C1125.9 514.9 1126.3 512.2 1126.4 509.3C1126.6 506.4 1126.5 503.5 1126.1 500.6C1125.7 497.8 1124.9 494.6 1124.0 492.0C1123.2 489.4 1122.1 487.2 1120.9 485.1C1119.7 482.9 1117.3 480.0 1116.6 479.0" fill="none" stroke="rgb(255,77,178)" stroke-width="2.08" stroke-linejoin="round"/>
<path d="M1116.6 479.0C1116.9 480.9 1117.6 486.9 1118.3 490.3C1119.0 493.6 1120.1 496.0 1120.6 498.9C1121.0 501.8 1121.1 504.7 1120.9 507.6C1120.7 510.5 1120.4 513.4 1119.5 516.2C1118.6 519.1 1117.2 522.0 1115.7 524.9C1114.2 527.8 1112.5 531.0 1110.5 533.6C1108.5 536.2 1106.0 538.6 1103.6 540.5C1101.1 542.4 1098.4 543.7 1095.8 544.8C1093.2 546.0 1090.7 546.8 1088.0 547.4C1085.2 548.1 1082.2 548.7 1079.3 548.8C1076.4 549.0 1073.5 548.8 1070.6 548.3C1067.8 547.8 1064.9 546.7 1062.0 545.7C1059.1 544.7 1055.9 543.8 1053.3 542.2C1050.7 540.6 1048.4 538.5 1046.4 536.2C1044.4 533.9 1042.6 531.1 1041.2 528.4C1039.7 525.6 1038.6 522.9 1037.7 519.7C1036.9 516.5 1036.2 512.6 1036.0 509.3C1035.8 506.0 1035.9 503.0 1036.3 499.8C1036.8 496.6 1037.5 493.3 1038.6 490.3C1039.7 487.2 1041.2 484.2 1042.9 481.6C1044.7 479.0 1046.8 476.7 1049.0 474.7C1051.2 472.6 1053.8 470.8 1055.9 469.5C1058.1 468.1 1061.0 466.9 1062.0 466.3" fill="none" stroke="rgb(255,77,178)" stroke-width="2.08" stroke-linejoin="round"/>
<path d="M1065.1 462.7C1067.2 462.6 1073.2 462.0 1077.6 461.8C1082.0 461.7 1089.1 461.8 1091.4 461.8" fill="none" stroke="rgb(255,77,178)" stroke-width="3.0" stroke-linecap="round"/>
<path d="M1062.9 527.5C1063.0 526.6 1064.1 524.8 1064.6 524.0C1065.1 523.3 1066.5 521.8 1067.2 521.1C1067.9 520.4 1069.8 518.6 1070.6 518.0C1071.5 517.4 1073.3 516.2 1074.1 515.9C1075.0 515.6 1077.0 515.0 1077.9 515.0C1078.8 515.0 1081.0 515.6 1081.9 515.9C1082.8 516.2 1084.7 517.3 1085.4 518.0C1086.1 518.6 1087.4 520.5 1088.0 521.4C1088.5 522.4 1089.5 524.9 1090.1 525.8C1090.6 526.7 1092.4 528.4 1092.8 529.2C1093.3 530.0 1093.8 531.8 1093.7 532.7C1093.6 533.6 1092.7 536.4 1092.3 537.0C1091.9 537.7 1091.2 538.3 1090.6 538.4C1090.0 538.6 1087.8 538.2 1087.1 538.4C1086.4 538.7 1085.5 540.2 1084.9 540.5C1084.3 540.8 1082.6 540.8 1081.9 541.0C1081.3 541.2 1079.9 542.1 1079.3 542.2C1078.7 542.4 1077.3 542.0 1076.7 542.2C1076.1 542.4 1075.1 543.9 1074.5 544.0C1073.9 544.0 1072.2 543.0 1071.5 542.6C1070.9 542.2 1069.6 540.9 1068.9 540.5C1068.2 540.1 1066.3 539.7 1065.8 539.1C1065.3 538.5 1064.9 536.2 1064.6 535.3C1064.3 534.5 1063.6 532.7 1063.4 531.8C1063.2 530.9 1062.7 528.4 1062.9 527.5Z" fill="none" stroke="rgb(255,77,178)" stroke-width="2.08" stroke-linejoin="round"/>
<text transform="translate(1038.40,394.86) rotate(76.00)" x="-15.81" y="4.00" font-size="11.11" textLength="31.62" lengthAdjust="spacingAndGlyphs" fill="rgb(255,77,178)" >3.000</text>
<text transform="translate(1100.64,406.74) rotate(-62.00)" x="-15.88" y="4.00" font-size="11.11" textLength="31.75" lengthAdjust="spacingAndGlyphs" fill="rgb(142,4,255)" >4.000</text>
<text transform="translate(1084.86,401.82) rotate(79.00)" x="-15.81" y="4.00" font-size="11.11" textLength="31.62" lengthAdjust="spacingAndGlyphs" fill="rgb(28,0,255)" >5.000</text>
<text transform="translate(1102.70,465.99) rotate(27.00)" x="-15.81" y="4.00" font-size="11.11" textLength="31.62" lengthAdjust="spacingAndGlyphs" fill="rgb(255,77,178)" >3.000</text>
</g>
<line x1="792.38" y1="755.3" x2="792.38" y2="760.16" stroke="#000" stroke-width="1.11"/>
<line x1="771.5" y1="733.28" x2="766.64" y2="733.28" stroke="#000" stroke-width="1.11"/>
<text transform="translate(792.38,765.72)" x="-14.62" y="10.60" font-size="13.89" textLength="29.25" lengthAdjust="spacingAndGlyphs" fill="#000" >−80</text>
<text transform="translate(761.78,733.98)" x="-29.25" y="5.00" font-size="13.89" textLength="29.25" lengthAdjust="spacingAndGlyphs" fill="#000" >−80</text>
<line x1="864.13" y1="755.3" x2="864.13" y2="760.16" stroke="#000" stroke-width="1.11"/>
<line x1="771.5" y1="661.53" x2="766.64" y2="661.53" stroke="#000" stroke-width="1.11"/>
<text transform="translate(864.13,765.72)" x="-14.62" y="10.60" font-size="13.89" textLength="29.25" lengthAdjust="spacingAndGlyphs" fill="#000" >−60</text>
<text transform="translate(761.78,662.23)" x="-29.25" y="5.00" font-size="13.89" textLength="29.25" lengthAdjust="spacingAndGlyphs" fill="#000" >−60</text>
<line x1="935.89" y1="755.3" x2="935.89" y2="760.16" stroke="#000" stroke-width="1.11"/>
<line x1="771.5" y1="589.79" x2="766.64" y2="589.79" stroke="#000" stroke-width="1.11"/>
<text transform="translate(935.89,765.72)" x="-14.56" y="10.60" font-size="13.89" textLength="29.12" lengthAdjust="spacingAndGlyphs" fill="#000" >−40</text>
<text transform="translate(761.78,590.49)" x="-29.12" y="5.00" font-size="13.89" textLength="29.12" lengthAdjust="spacingAndGlyphs" fill="#000" >−40</text>
<line x1="1007.64" y1="755.3" x2="1007.64" y2="760.16" stroke="#000" stroke-width="1.11"/>
<line x1="771.5" y1="518.04" x2="766.64" y2="518.04" stroke="#000" stroke-width="1.11"/>
<text transform="translate(1007.64,765.72)" x="-14.56" y="10.60" font-size="13.89" textLength="29.12" lengthAdjust="spacingAndGlyphs" fill="#000" >−20</text>
<text transform="translate(761.78,518.74)" x="-29.12" y="5.00" font-size="13.89" textLength="29.12" lengthAdjust="spacingAndGlyphs" fill="#000" >−20</text>
<line x1="1079.40" y1="755.3" x2="1079.40" y2="760.16" stroke="#000" stroke-width="1.11"/>
<line x1="771.5" y1="446.30" x2="766.64" y2="446.30" stroke="#000" stroke-width="1.11"/>
<text transform="translate(1079.40,765.72)" x="-4.38" y="10.60" font-size="13.89" textLength="8.75" lengthAdjust="spacingAndGlyphs" fill="#000" >0</text>
<text transform="translate(761.78,447.00)" x="-8.75" y="5.00" font-size="13.89" textLength="8.75" lengthAdjust="spacingAndGlyphs" fill="#000" >0</text>
<line x1="1151.16" y1="755.3" x2="1151.16" y2="760.16" stroke="#000" stroke-width="1.11"/>
<line x1="771.5" y1="374.56" x2="766.64" y2="374.56" stroke="#000" stroke-width="1.11"/>
<text transform="translate(1151.16,765.72)" x="-8.75" y="10.60" font-size="13.89" textLength="17.50" lengthAdjust="spacingAndGlyphs" fill="#000" >20</text>
<text transform="translate(761.78,375.26)" x="-17.50" y="5.00" font-size="13.89" textLength="17.50" lengthAdjust="spacingAndGlyphs" fill="#000" >20</text>
<line x1="1222.91" y1="755.3" x2="1222.91" y2="760.16" stroke="#000" stroke-width="1.11"/>
<line x1="771.5" y1="302.81" x2="766.64" y2="302.81" stroke="#000" stroke-width="1.11"/>
<text transform="translate(1222.91,765.72)" x="-8.75" y="10.60" font-size="13.89" textLength="17.50" lengthAdjust="spacingAndGlyphs" fill="#000" >40</text>
<text transform="translate(761.78,303.51)" x="-17.50" y="5.00" font-size="13.89" textLength="17.50" lengthAdjust="spacingAndGlyphs" fill="#000" >40</text>
<line x1="1294.67" y1="755.3" x2="1294.67" y2="760.16" stroke="#000" stroke-width="1.11"/>
<line x1="771.5" y1="231.07" x2="766.64" y2="231.07" stroke="#000" stroke-width="1.11"/>
<text transform="translate(1294.67,765.72)" x="-8.81" y="10.60" font-size="13.89" textLength="17.62" lengthAdjust="spacingAndGlyphs" fill="#000" >60</text>
<text transform="translate(761.78,231.77)" x="-17.62" y="5.00" font-size="13.89" textLength="17.62" lengthAdjust="spacingAndGlyphs" fill="#000" >60</text>
<line x1="1366.42" y1="755.3" x2="1366.42" y2="760.16" stroke="#000" stroke-width="1.11"/>
<line x1="771.5" y1="159.32" x2="766.64" y2="159.32" stroke="#000" stroke-width="1.11"/>
<text transform="translate(1366.42,765.72)" x="-8.81" y="10.60" font-size="13.89" textLength="17.62" lengthAdjust="spacingAndGlyphs" fill="#000" >80</text>
<text transform="translate(761.78,160.02)" x="-17.62" y="5.00" font-size="13.89" textLength="17.62" lengthAdjust="spacingAndGlyphs" fill="#000" >80</text>
<rect x="771.5" y="138.2" width="617.10" height="617.10" fill="none" stroke="#000" stroke-width="1.11"/>
<text transform="translate(1079.40,790.70)" x="-48.69" y="4.00" font-size="13.89" textLength="97.38" lengthAdjust="spacingAndGlyphs" fill="#000" >Offset (pixels)</text>
<text transform="translate(717.30,446.30) rotate(-90.00)" x="-48.69" y="4.00" font-size="13.89" textLength="97.38" lengthAdjust="spacingAndGlyphs" fill="#000" >Offset (pixels)</text>
<line x1="805.2" y1="720.4" x2="811.5" y2="720.4" stroke="#000" stroke-width="1.6"/>
<text x="785.29" y="737.70" font-size="13.89" textLength="46.62" lengthAdjust="spacingAndGlyphs" fill="#000">10 kpc</text>
<line x1="1353.2" y1="718.3" x2="1357.7" y2="718.3" stroke="#000" stroke-width="1.4"/>
<text x="1337.10" y="736.30" font-size="14.58" textLength="9.25" lengthAdjust="spacingAndGlyphs" fill="#000" font-style="italic">p</text>
<text x="1346.10" y="738.40" font-size="10.83" textLength="26.80" lengthAdjust="spacingAndGlyphs" fill="#000">100%</text>
</g>
<g id="cbar">
<rect x="1393.3" y="752" width="12.3" height="4" fill="rgb(255,255,249)" fill-opacity="0.2"/>
<rect x="1393.3" y="750" width="12.3" height="3" fill="rgb(255,255,236)" fill-opacity="0.2"/>
<rect x="1393.3" y="748" width="12.3" height="3" fill="rgb(255,255,224)" fill-opacity="0.2"/>
<rect x="1393.3" y="745" width="12.3" height="4" fill="rgb(255,255,211)" fill-opacity="0.2"/>
<rect x="1393.3" y="743" width="12.3" height="3" fill="rgb(255,255,199)" fill-opacity="0.2"/>
<rect x="1393.3" y="740" width="12.3" height="4" fill="rgb(255,255,187)" fill-opacity="0.2"/>
<rect x="1393.3" y="738" width="12.3" height="3" fill="rgb(255,255,174)" fill-opacity="0.2"/>
<rect x="1393.3" y="736" width="12.3" height="3" fill="rgb(255,255,162)" fill-opacity="0.2"/>
<rect x="1393.3" y="733" width="12.3" height="4" fill="rgb(255,255,149)" fill-opacity="0.2"/>
<rect x="1393.3" y="731" width="12.3" height="3" fill="rgb(255,255,137)" fill-opacity="0.2"/>
<rect x="1393.3" y="728" width="12.3" height="4" fill="rgb(255,255,124)" fill-opacity="0.2"/>
<rect x="1393.3" y="726" width="12.3" height="3" fill="rgb(255,255,112)" fill-opacity="0.2"/>
<rect x="1393.3" y="723" width="12.3" height="4" fill="rgb(255,255,99)" fill-opacity="0.2"/>
<rect x="1393.3" y="721" width="12.3" height="3" fill="rgb(255,255,87)" fill-opacity="0.2"/>
<rect x="1393.3" y="719" width="12.3" height="3" fill="rgb(255,255,74)" fill-opacity="0.2"/>
<rect x="1393.3" y="716" width="12.3" height="4" fill="rgb(255,255,62)" fill-opacity="0.2"/>
<rect x="1393.3" y="714" width="12.3" height="3" fill="rgb(255,255,50)" fill-opacity="0.2"/>
<rect x="1393.3" y="711" width="12.3" height="4" fill="rgb(255,255,37)" fill-opacity="0.2"/>
<rect x="1393.3" y="709" width="12.3" height="3" fill="rgb(255,255,25)" fill-opacity="0.2"/>
<rect x="1393.3" y="707" width="12.3" height="3" fill="rgb(255,255,12)" fill-opacity="0.2"/>
<rect x="1393.3" y="704" width="12.3" height="4" fill="rgb(255,255,0)" fill-opacity="0.2"/>
<rect x="1393.3" y="702" width="12.3" height="3" fill="rgb(255,253,2)" fill-opacity="0.2"/>
<rect x="1393.3" y="699" width="12.3" height="4" fill="rgb(255,251,4)" fill-opacity="0.2"/>
<rect x="1393.3" y="697" width="12.3" height="3" fill="rgb(255,249,6)" fill-opacity="0.2"/>
<rect x="1393.3" y="695" width="12.3" height="3" fill="rgb(255,247,8)" fill-opacity="0.2"/>
<rect x="1393.3" y="692" width="12.3" height="4" fill="rgb(255,245,10)" fill-opacity="0.2"/>
<rect x="1393.3" y="690" width="12.3" height="3" fill="rgb(255,243,12)" fill-opacity="0.2"/>
<rect x="1393.3" y="687" width="12.3" height="4" fill="rgb(255,241,14)" fill-opacity="0.2"/>
<rect x="1393.3" y="685" width="12.3" height="3" fill="rgb(255,239,16)" fill-opacity="0.2"/>
<rect x="1393.3" y="682" width="12.3" height="4" fill="rgb(255,237,18)" fill-opacity="0.2"/>
<rect x="1393.3" y="680" width="12.3" height="3" fill="rgb(255,235,20)" fill-opacity="0.2"/>
<rect x="1393.3" y="678" width="12.3" height="3" fill="rgb(255,233,22)" fill-opacity="0.2"/>
<rect x="1393.3" y="675" width="12.3" height="4" fill="rgb(255,231,24)" fill-opacity="0.2"/>
<rect x="1393.3" y="673" width="12.3" height="3" fill="rgb(255,229,26)" fill-opacity="0.2"/>
<rect x="1393.3" y="670" width="12.3" height="4" fill="rgb(255,227,28)" fill-opacity="0.2"/>
<rect x="1393.3" y="668" width="12.3" height="3" fill="rgb(255,225,30)" fill-opacity="0.2"/>
<rect x="1393.3" y="666" width="12.3" height="3" fill="rgb(255,223,32)" fill-opacity="0.2"/>
<rect x="1393.3" y="663" width="12.3" height="4" fill="rgb(255,221,34)" fill-opacity="0.2"/>
<rect x="1393.3" y="661" width="12.3" height="3" fill="rgb(255,219,36)" fill-opacity="0.2"/>
<rect x="1393.3" y="658" width="12.3" height="4" fill="rgb(255,217,38)" fill-opacity="0.2"/>
<rect x="1393.3" y="656" width="12.3" height="3" fill="rgb(255,215,40)" fill-opacity="0.2"/>
<rect x="1393.3" y="654" width="12.3" height="3" fill="rgb(255,213,42)" fill-opacity="0.2"/>
<rect x="1393.3" y="651" width="12.3" height="4" fill="rgb(255,211,44)" fill-opacity="0.2"/>
<rect x="1393.3" y="649" width="12.3" height="3" fill="rgb(255,209,46)" fill-opacity="0.2"/>
<rect x="1393.3" y="646" width="12.3" height="4" fill="rgb(255,207,48)" fill-opacity="0.2"/>
<rect x="1393.3" y="644" width="12.3" height="3" fill="rgb(255,205,50)" fill-opacity="0.2"/>
<rect x="1393.3" y="642" width="12.3" height="3" fill="rgb(255,203,52)" fill-opacity="0.2"/>
<rect x="1393.3" y="639" width="12.3" height="4" fill="rgb(255,201,54)" fill-opacity="0.2"/>
<rect x="1393.3" y="637" width="12.3" height="3" fill="rgb(255,199,56)" fill-opacity="0.2"/>
<rect x="1393.3" y="634" width="12.3" height="4" fill="rgb(255,197,58)" fill-opacity="0.2"/>
<rect x="1393.3" y="632" width="12.3" height="3" fill="rgb(255,195,60)" fill-opacity="0.2"/>
<rect x="1393.3" y="629" width="12.3" height="4" fill="rgb(255,193,62)" fill-opacity="0.2"/>
<rect x="1393.3" y="627" width="12.3" height="3" fill="rgb(255,191,64)" fill-opacity="0.2"/>
<rect x="1393.3" y="625" width="12.3" height="3" fill="rgb(255,189,66)" fill-opacity="0.2"/>
<rect x="1393.3" y="622" width="12.3" height="4" fill="rgb(255,187,68)" fill-opacity="0.2"/>
<rect x="1393.3" y="620" width="12.3" height="3" fill="rgb(255,185,70)" fill-opacity="0.2"/>
<rect x="1393.3" y="617" width="12.3" height="4" fill="rgb(255,183,72)" fill-opacity="0.2"/>
<rect x="1393.3" y="615" width="12.3" height="3" fill="rgb(255,181,74)" fill-opacity="0.2"/>
<rect x="1393.3" y="613" width="12.3" height="3" fill="rgb(255,179,76)" fill-opacity="0.2"/>
<rect x="1393.3" y="610" width="12.3" height="4" fill="rgb(255,177,78)" fill-opacity="0.2"/>
<rect x="1393.3" y="608" width="12.3" height="3" fill="rgb(255,175,80)" fill-opacity="0.2"/>
<rect x="1393.3" y="605" width="12.3" height="4" fill="rgb(255,173,82)" fill-opacity="0.2"/>
<rect x="1393.3" y="603" width="12.3" height="3" fill="rgb(255,171,84)" fill-opacity="0.2"/>
<rect x="1393.3" y="601" width="12.3" height="3" fill="rgb(255,169,86)" fill-opacity="0.2"/>
<rect x="1393.3" y="598" width="12.3" height="4" fill="rgb(255,167,88)" fill-opacity="0.2"/>
<rect x="1393.3" y="596" width="12.3" height="3" fill="rgb(255,165,90)" fill-opacity="0.2"/>
<rect x="1393.3" y="593" width="12.3" height="4" fill="rgb(255,163,92)" fill-opacity="0.2"/>
<rect x="1393.3" y="591" width="12.3" height="3" fill="rgb(255,161,94)" fill-opacity="0.2"/>
<rect x="1393.3" y="588" width="12.3" height="4" fill="rgb(255,159,96)" fill-opacity="0.2"/>
<rect x="1393.3" y="586" width="12.3" height="3" fill="rgb(255,157,98)" fill-opacity="0.2"/>
<rect x="1393.3" y="584" width="12.3" height="3" fill="rgb(255,155,100)" fill-opacity="0.2"/>
<rect x="1393.3" y="581" width="12.3" height="4" fill="rgb(255,153,102)" fill-opacity="0.2"/>
<rect x="1393.3" y="579" width="12.3" height="3" fill="rgb(255,151,104)" fill-opacity="0.2"/>
<rect x="1393.3" y="576" width="12.3" height="4" fill="rgb(255,149,106)" fill-opacity="0.2"/>
<rect x="1393.3" y="574" width="12.3" height="3" fill="rgb(255,147,108)" fill-opacity="0.2"/>
<rect x="1393.3" y="572" width="12.3" height="3" fill="rgb(255,145,110)" fill-opacity="0.2"/>
<rect x="1393.3" y="569" width="12.3" height="4" fill="rgb(255,143,112)" fill-opacity="0.2"/>
<rect x="1393.3" y="567" width="12.3" height="3" fill="rgb(255,141,114)" fill-opacity="0.2"/>
<rect x="1393.3" y="564" width="12.3" height="4" fill="rgb(255,139,116)" fill-opacity="0.2"/>
<rect x="1393.3" y="562" width="12.3" height="3" fill="rgb(255,137,118)" fill-opacity="0.2"/>
<rect x="1393.3" y="560" width="12.3" height="3" fill="rgb(255,135,120)" fill-opacity="0.2"/>
<rect x="1393.3" y="557" width="12.3" height="4" fill="rgb(255,133,122)" fill-opacity="0.2"/>
<rect x="1393.3" y="555" width="12.3" height="3" fill="rgb(255,131,124)" fill-opacity="0.2"/>
<rect x="1393.3" y="552" width="12.3" height="4" fill="rgb(255,129,126)" fill-opacity="0.2"/>
<rect x="1393.3" y="550" width="12.3" height="3" fill="rgb(255,127,128)" fill-opacity="0.2"/>
<rect x="1393.3" y="548" width="12.3" height="3" fill="rgb(255,125,130)" fill-opacity="0.2"/>
<rect x="1393.3" y="545" width="12.3" height="4" fill="rgb(255,123,132)" fill-opacity="0.2"/>
<rect x="1393.3" y="543" width="12.3" height="3" fill="rgb(255,121,134)" fill-opacity="0.2"/>
<rect x="1393.3" y="540" width="12.3" height="4" fill="rgb(255,119,136)" fill-opacity="0.2"/>
<rect x="1393.3" y="538" width="12.3" height="3" fill="rgb(255,117,138)" fill-opacity="0.2"/>
<rect x="1393.3" y="535" width="12.3" height="4" fill="rgb(255,116,139)" fill-opacity="0.2"/>
<rect x="1393.3" y="533" width="12.3" height="3" fill="rgb(255,114,141)" fill-opacity="0.2"/>
<rect x="1393.3" y="531" width="12.3" height="3" fill="rgb(255,112,143)" fill-opacity="0.2"/>
<rect x="1393.3" y="528" width="12.3" height="4" fill="rgb(255,110,145)" fill-opacity="0.2"/>
<rect x="1393.3" y="526" width="12.3" height="3" fill="rgb(255,108,147)" fill-opacity="0.2"/>
<rect x="1393.3" y="523" width="12.3" height="4" fill="rgb(255,106,149)" fill-opacity="0.2"/>
<rect x="1393.3" y="521" width="12.3" height="3" fill="rgb(255,104,151)" fill-opacity="0.2"/>
<rect x="1393.3" y="519" width="12.3" height="3" fill="rgb(255,102,153)" fill-opacity="0.2"/>
<rect x="1393.3" y="516" width="12.3" height="4" fill="rgb(255,100,155)" fill-opacity="0.2"/>
<rect x="1393.3" y="514" width="12.3" height="3" fill="rgb(255,98,157)" fill-opacity="0.2"/>
<rect x="1393.3" y="511" width="12.3" height="4" fill="rgb(255,96,159)" fill-opacity="0.2"/>
<rect x="1393.3" y="509" width="12.3" height="3" fill="rgb(255,94,161)" fill-opacity="0.2"/>
<rect x="1393.3" y="507" width="12.3" height="3" fill="rgb(255,92,163)" fill-opacity="0.2"/>
<rect x="1393.3" y="504" width="12.3" height="4" fill="rgb(255,90,165)" fill-opacity="0.2"/>
<rect x="1393.3" y="502" width="12.3" height="3" fill="rgb(255,88,167)" fill-opacity="0.2"/>
<rect x="1393.3" y="499" width="12.3" height="4" fill="rgb(255,86,169)" fill-opacity="0.2"/>
<rect x="1393.3" y="497" width="12.3" height="3" fill="rgb(255,84,171)" fill-opacity="0.2"/>
<rect x="1393.3" y="495" width="12.3" height="3" fill="rgb(255,82,173)" fill-opacity="0.2"/>
<rect x="1393.3" y="492" width="12.3" height="4" fill="rgb(255,80,175)" fill-opacity="0.2"/>
<rect x="1393.3" y="490" width="12.3" height="3" fill="rgb(255,78,177)" fill-opacity="0.2"/>
<rect x="1393.3" y="487" width="12.3" height="4" fill="rgb(254,76,179)" fill-opacity="0.2"/>
<rect x="1393.3" y="485" width="12.3" height="3" fill="rgb(251,74,181)" fill-opacity="0.2"/>
<rect x="1393.3" y="482" width="12.3" height="4" fill="rgb(247,72,183)" fill-opacity="0.2"/>
<rect x="1393.3" y="480" width="12.3" height="3" fill="rgb(244,70,185)" fill-opacity="0.2"/>
<rect x="1393.3" y="478" width="12.3" height="3" fill="rgb(241,68,187)" fill-opacity="0.2"/>
<rect x="1393.3" y="475" width="12.3" height="4" fill="rgb(238,66,189)" fill-opacity="0.2"/>
<rect x="1393.3" y="473" width="12.3" height="3" fill="rgb(235,64,191)" fill-opacity="0.2"/>
<rect x="1393.3" y="470" width="12.3" height="4" fill="rgb(232,62,193)" fill-opacity="0.2"/>
<rect x="1393.3" y="468" width="12.3" height="3" fill="rgb(229,60,195)" fill-opacity="0.2"/>
<rect x="1393.3" y="466" width="12.3" height="3" fill="rgb(226,58,197)" fill-opacity="0.2"/>
<rect x="1393.3" y="463" width="12.3" height="4" fill="rgb(223,56,199)" fill-opacity="0.2"/>
<rect x="1393.3" y="461" width="12.3" height="3" fill="rgb(219,54,201)" fill-opacity="0.2"/>
<rect x="1393.3" y="458" width="12.3" height="4" fill="rgb(216,52,203)" fill-opacity="0.2"/>
<rect x="1393.3" y="456" width="12.3" height="3" fill="rgb(213,50,205)" fill-opacity="0.2"/>
<rect x="1393.3" y="454" width="12.3" height="3" fill="rgb(210,48,207)" fill-opacity="0.2"/>
<rect x="1393.3" y="451" width="12.3" height="4" fill="rgb(207,46,209)" fill-opacity="0.2"/>
<rect x="1393.3" y="449" width="12.3" height="3" fill="rgb(204,44,211)" fill-opacity="0.2"/>
<rect x="1393.3" y="446" width="12.3" height="4" fill="rgb(201,42,213)" fill-opacity="0.2"/>
<rect x="1393.3" y="444" width="12.3" height="3" fill="rgb(198,40,215)" fill-opacity="0.2"/>
<rect x="1393.3" y="441" width="12.3" height="4" fill="rgb(195,38,217)" fill-opacity="0.2"/>
<rect x="1393.3" y="439" width="12.3" height="3" fill="rgb(191,36,219)" fill-opacity="0.2"/>
<rect x="1393.3" y="437" width="12.3" height="3" fill="rgb(188,34,221)" fill-opacity="0.2"/>
<rect x="1393.3" y="434" width="12.3" height="4" fill="rgb(185,32,223)" fill-opacity="0.2"/>
<rect x="1393.3" y="432" width="12.3" height="3" fill="rgb(182,30,225)" fill-opacity="0.2"/>
<rect x="1393.3" y="429" width="12.3" height="4" fill="rgb(179,28,227)" fill-opacity="0.2"/>
<rect x="1393.3" y="427" width="12.3" height="3" fill="rgb(176,26,229)" fill-opacity="0.2"/>
<rect x="1393.3" y="425" width="12.3" height="3" fill="rgb(173,24,231)" fill-opacity="0.2"/>
<rect x="1393.3" y="422" width="12.3" height="4" fill="rgb(170,22,233)" fill-opacity="0.2"/>
<rect x="1393.3" y="420" width="12.3" height="3" fill="rgb(167,20,235)" fill-opacity="0.2"/>
<rect x="1393.3" y="417" width="12.3" height="4" fill="rgb(163,18,237)" fill-opacity="0.2"/>
<rect x="1393.3" y="415" width="12.3" height="3" fill="rgb(160,16,239)" fill-opacity="0.2"/>
<rect x="1393.3" y="413" width="12.3" height="3" fill="rgb(157,14,241)" fill-opacity="0.2"/>
<rect x="1393.3" y="410" width="12.3" height="4" fill="rgb(154,12,243)" fill-opacity="0.2"/>
<rect x="1393.3" y="408" width="12.3" height="3" fill="rgb(151,10,245)" fill-opacity="0.2"/>
<rect x="1393.3" y="405" width="12.3" height="4" fill="rgb(148,8,247)" fill-opacity="0.2"/>
<rect x="1393.3" y="403" width="12.3" height="3" fill="rgb(145,6,249)" fill-opacity="0.2"/>
<rect x="1393.3" y="401" width="12.3" height="3" fill="rgb(142,4,251)" fill-opacity="0.2"/>
<rect x="1393.3" y="398" width="12.3" height="4" fill="rgb(139,2,253)" fill-opacity="0.2"/>
<rect x="1393.3" y="396" width="12.3" height="3" fill="rgb(135,0,255)" fill-opacity="0.2"/>
<rect x="1393.3" y="393" width="12.3" height="4" fill="rgb(132,0,255)" fill-opacity="0.2"/>
<rect x="1393.3" y="391" width="12.3" height="3" fill="rgb(129,0,255)" fill-opacity="0.2"/>
<rect x="1393.3" y="388" width="12.3" height="4" fill="rgb(126,0,255)" fill-opacity="0.2"/>
<rect x="1393.3" y="386" width="12.3" height="3" fill="rgb(123,0,255)" fill-opacity="0.2"/>
<rect x="1393.3" y="384" width="12.3" height="3" fill="rgb(120,0,255)" fill-opacity="0.2"/>
<rect x="1393.3" y="381" width="12.3" height="4" fill="rgb(117,0,255)" fill-opacity="0.2"/>
<rect x="1393.3" y="379" width="12.3" height="3" fill="rgb(114,0,255)" fill-opacity="0.2"/>
<rect x="1393.3" y="376" width="12.3" height="4" fill="rgb(111,0,255)" fill-opacity="0.2"/>
<rect x="1393.3" y="374" width="12.3" height="3" fill="rgb(107,0,255)" fill-opacity="0.2"/>
<rect x="1393.3" y="372" width="12.3" height="3" fill="rgb(104,0,255)" fill-opacity="0.2"/>
<rect x="1393.3" y="369" width="12.3" height="4" fill="rgb(101,0,255)" fill-opacity="0.2"/>
<rect x="1393.3" y="367" width="12.3" height="3" fill="rgb(98,0,255)" fill-opacity="0.2"/>
<rect x="1393.3" y="364" width="12.3" height="4" fill="rgb(95,0,255)" fill-opacity="0.2"/>
<rect x="1393.3" y="362" width="12.3" height="3" fill="rgb(92,0,255)" fill-opacity="0.2"/>
<rect x="1393.3" y="360" width="12.3" height="3" fill="rgb(89,0,255)" fill-opacity="0.2"/>
<rect x="1393.3" y="357" width="12.3" height="4" fill="rgb(86,0,255)" fill-opacity="0.2"/>
<rect x="1393.3" y="355" width="12.3" height="3" fill="rgb(82,0,255)" fill-opacity="0.2"/>
<rect x="1393.3" y="352" width="12.3" height="4" fill="rgb(79,0,255)" fill-opacity="0.2"/>
<rect x="1393.3" y="350" width="12.3" height="3" fill="rgb(76,0,255)" fill-opacity="0.2"/>
<rect x="1393.3" y="347" width="12.3" height="4" fill="rgb(73,0,255)" fill-opacity="0.2"/>
<rect x="1393.3" y="345" width="12.3" height="3" fill="rgb(70,0,255)" fill-opacity="0.2"/>
<rect x="1393.3" y="343" width="12.3" height="3" fill="rgb(67,0,255)" fill-opacity="0.2"/>
<rect x="1393.3" y="340" width="12.3" height="4" fill="rgb(64,0,255)" fill-opacity="0.2"/>
<rect x="1393.3" y="338" width="12.3" height="3" fill="rgb(61,0,255)" fill-opacity="0.2"/>
<rect x="1393.3" y="335" width="12.3" height="4" fill="rgb(58,0,255)" fill-opacity="0.2"/>
<rect x="1393.3" y="333" width="12.3" height="3" fill="rgb(54,0,255)" fill-opacity="0.2"/>
<rect x="1393.3" y="331" width="12.3" height="3" fill="rgb(51,0,255)" fill-opacity="0.2"/>
<rect x="1393.3" y="328" width="12.3" height="4" fill="rgb(48,0,255)" fill-opacity="0.2"/>
<rect x="1393.3" y="326" width="12.3" height="3" fill="rgb(45,0,255)" fill-opacity="0.2"/>
<rect x="1393.3" y="323" width="12.3" height="4" fill="rgb(42,0,255)" fill-opacity="0.2"/>
<rect x="1393.3" y="321" width="12.3" height="3" fill="rgb(39,0,255)" fill-opacity="0.2"/>
<rect x="1393.3" y="319" width="12.3" height="3" fill="rgb(36,0,255)" fill-opacity="0.2"/>
<rect x="1393.3" y="316" width="12.3" height="4" fill="rgb(33,0,255)" fill-opacity="0.2"/>
<rect x="1393.3" y="314" width="12.3" height="3" fill="rgb(30,0,255)" fill-opacity="0.2"/>
<rect x="1393.3" y="311" width="12.3" height="4" fill="rgb(26,0,255)" fill-opacity="0.2"/>
<rect x="1393.3" y="309" width="12.3" height="3" fill="rgb(23,0,255)" fill-opacity="0.2"/>
<rect x="1393.3" y="307" width="12.3" height="3" fill="rgb(20,0,255)" fill-opacity="0.2"/>
<rect x="1393.3" y="304" width="12.3" height="4" fill="rgb(17,0,255)" fill-opacity="0.2"/>
<rect x="1393.3" y="302" width="12.3" height="3" fill="rgb(14,0,255)" fill-opacity="0.2"/>
<rect x="1393.3" y="299" width="12.3" height="4" fill="rgb(11,0,255)" fill-opacity="0.2"/>
<rect x="1393.3" y="297" width="12.3" height="3" fill="rgb(8,0,255)" fill-opacity="0.2"/>
<rect x="1393.3" y="294" width="12.3" height="4" fill="rgb(5,0,255)" fill-opacity="0.2"/>
<rect x="1393.3" y="292" width="12.3" height="3" fill="rgb(2,0,255)" fill-opacity="0.2"/>
<rect x="1393.3" y="290" width="12.3" height="3" fill="rgb(0,0,253)" fill-opacity="0.2"/>
<rect x="1393.3" y="287" width="12.3" height="4" fill="rgb(0,0,249)" fill-opacity="0.2"/>
<rect x="1393.3" y="285" width="12.3" height="3" fill="rgb(0,0,245)" fill-opacity="0.2"/>
<rect x="1393.3" y="282" width="12.3" height="4" fill="rgb(0,0,241)" fill-opacity="0.2"/>
<rect x="1393.3" y="280" width="12.3" height="3" fill="rgb(0,0,237)" fill-opacity="0.2"/>
<rect x="1393.3" y="278" width="12.3" height="3" fill="rgb(0,0,233)" fill-opacity="0.2"/>
<rect x="1393.3" y="275" width="12.3" height="4" fill="rgb(0,0,229)" fill-opacity="0.2"/>
<rect x="1393.3" y="273" width="12.3" height="3" fill="rgb(0,0,225)" fill-opacity="0.2"/>
<rect x="1393.3" y="270" width="12.3" height="4" fill="rgb(0,0,221)" fill-opacity="0.2"/>
<rect x="1393.3" y="268" width="12.3" height="3" fill="rgb(0,0,217)" fill-opacity="0.2"/>
<rect x="1393.3" y="266" width="12.3" height="3" fill="rgb(0,0,213)" fill-opacity="0.2"/>
<rect x="1393.3" y="263" width="12.3" height="4" fill="rgb(0,0,209)" fill-opacity="0.2"/>
<rect x="1393.3" y="261" width="12.3" height="3" fill="rgb(0,0,205)" fill-opacity="0.2"/>
<rect x="1393.3" y="258" width="12.3" height="4" fill="rgb(0,0,201)" fill-opacity="0.2"/>
<rect x="1393.3" y="256" width="12.3" height="3" fill="rgb(0,0,197)" fill-opacity="0.2"/>
<rect x="1393.3" y="253" width="12.3" height="4" fill="rgb(0,0,193)" fill-opacity="0.2"/>
<rect x="1393.3" y="251" width="12.3" height="3" fill="rgb(0,0,189)" fill-opacity="0.2"/>
<rect x="1393.3" y="249" width="12.3" height="3" fill="rgb(0,0,185)" fill-opacity="0.2"/>
<rect x="1393.3" y="246" width="12.3" height="4" fill="rgb(0,0,181)" fill-opacity="0.2"/>
<rect x="1393.3" y="244" width="12.3" height="3" fill="rgb(0,0,177)" fill-opacity="0.2"/>
<rect x="1393.3" y="241" width="12.3" height="4" fill="rgb(0,0,173)" fill-opacity="0.2"/>
<rect x="1393.3" y="239" width="12.3" height="3" fill="rgb(0,0,169)" fill-opacity="0.2"/>
<rect x="1393.3" y="237" width="12.3" height="3" fill="rgb(0,0,165)" fill-opacity="0.2"/>
<rect x="1393.3" y="234" width="12.3" height="4" fill="rgb(0,0,161)" fill-opacity="0.2"/>
<rect x="1393.3" y="232" width="12.3" height="3" fill="rgb(0,0,157)" fill-opacity="0.2"/>
<rect x="1393.3" y="229" width="12.3" height="4" fill="rgb(0,0,153)" fill-opacity="0.2"/>
<rect x="1393.3" y="227" width="12.3" height="3" fill="rgb(0,0,149)" fill-opacity="0.2"/>
<rect x="1393.3" y="225" width="12.3" height="3" fill="rgb(0,0,145)" fill-opacity="0.2"/>
<rect x="1393.3" y="222" width="12.3" height="4" fill="rgb(0,0,141)" fill-opacity="0.2"/>
<rect x="1393.3" y="220" width="12.3" height="3" fill="rgb(0,0,137)" fill-opacity="0.2"/>
<rect x="1393.3" y="217" width="12.3" height="4" fill="rgb(0,0,133)" fill-opacity="0.2"/>
<rect x="1393.3" y="215" width="12.3" height="3" fill="rgb(0,0,129)" fill-opacity="0.2"/>
<rect x="1393.3" y="213" width="12.3" height="3" fill="rgb(0,0,126)" fill-opacity="0.2"/>
<rect x="1393.3" y="210" width="12.3" height="4" fill="rgb(0,0,122)" fill-opacity="0.2"/>
<rect x="1393.3" y="208" width="12.3" height="3" fill="rgb(0,0,118)" fill-opacity="0.2"/>
<rect x="1393.3" y="205" width="12.3" height="4" fill="rgb(0,0,114)" fill-opacity="0.2"/>
<rect x="1393.3" y="203" width="12.3" height="3" fill="rgb(0,0,110)" fill-opacity="0.2"/>
<rect x="1393.3" y="200" width="12.3" height="4" fill="rgb(0,0,106)" fill-opacity="0.2"/>
<rect x="1393.3" y="198" width="12.3" height="3" fill="rgb(0,0,102)" fill-opacity="0.2"/>
<rect x="1393.3" y="196" width="12.3" height="3" fill="rgb(0,0,98)" fill-opacity="0.2"/>
<rect x="1393.3" y="193" width="12.3" height="4" fill="rgb(0,0,94)" fill-opacity="0.2"/>
<rect x="1393.3" y="191" width="12.3" height="3" fill="rgb(0,0,90)" fill-opacity="0.2"/>
<rect x="1393.3" y="188" width="12.3" height="4" fill="rgb(0,0,86)" fill-opacity="0.2"/>
<rect x="1393.3" y="186" width="12.3" height="3" fill="rgb(0,0,82)" fill-opacity="0.2"/>
<rect x="1393.3" y="184" width="12.3" height="3" fill="rgb(0,0,78)" fill-opacity="0.2"/>
<rect x="1393.3" y="181" width="12.3" height="4" fill="rgb(0,0,74)" fill-opacity="0.2"/>
<rect x="1393.3" y="179" width="12.3" height="3" fill="rgb(0,0,70)" fill-opacity="0.2"/>
<rect x="1393.3" y="176" width="12.3" height="4" fill="rgb(0,0,66)" fill-opacity="0.2"/>
<rect x="1393.3" y="174" width="12.3" height="3" fill="rgb(0,0,62)" fill-opacity="0.2"/>
<rect x="1393.3" y="172" width="12.3" height="3" fill="rgb(0,0,58)" fill-opacity="0.2"/>
<rect x="1393.3" y="169" width="12.3" height="4" fill="rgb(0,0,54)" fill-opacity="0.2"/>
<rect x="1393.3" y="167" width="12.3" height="3" fill="rgb(0,0,50)" fill-opacity="0.2"/>
<rect x="1393.3" y="164" width="12.3" height="4" fill="rgb(0,0,46)" fill-opacity="0.2"/>
<rect x="1393.3" y="162" width="12.3" height="3" fill="rgb(0,0,42)" fill-opacity="0.2"/>
<rect x="1393.3" y="159" width="12.3" height="4" fill="rgb(0,0,38)" fill-opacity="0.2"/>
<rect x="1393.3" y="157" width="12.3" height="3" fill="rgb(0,0,34)" fill-opacity="0.2"/>
<rect x="1393.3" y="155" width="12.3" height="3" fill="rgb(0,0,30)" fill-opacity="0.2"/>
<rect x="1393.3" y="152" width="12.3" height="4" fill="rgb(0,0,26)" fill-opacity="0.2"/>
<rect x="1393.3" y="150" width="12.3" height="3" fill="rgb(0,0,22)" fill-opacity="0.2"/>
<rect x="1393.3" y="147" width="12.3" height="4" fill="rgb(0,0,18)" fill-opacity="0.2"/>
<rect x="1393.3" y="145" width="12.3" height="3" fill="rgb(0,0,14)" fill-opacity="0.2"/>
<rect x="1393.3" y="143" width="12.3" height="3" fill="rgb(0,0,10)" fill-opacity="0.2"/>
<rect x="1393.3" y="140" width="12.3" height="4" fill="rgb(0,0,6)" fill-opacity="0.2"/>
<rect x="1393.3" y="138" width="12.3" height="3" fill="rgb(0,0,2)" fill-opacity="0.2"/>
<rect x="1393.3" y="138.3" width="12.30" height="617.00" fill="none" stroke="#000" stroke-width="1.11"/>
<line x1="1405.6" y1="755.30" x2="1410.46" y2="755.30" stroke="#000" stroke-width="1.11"/>
<text transform="translate(1416.22,756.00)" x="0.00" y="5.00" font-size="13.89" textLength="8.75" lengthAdjust="spacingAndGlyphs" fill="#000" >0</text>
<line x1="1405.6" y1="667.16" x2="1410.46" y2="667.16" stroke="#000" stroke-width="1.11"/>
<text transform="translate(1416.22,667.86)" x="0.00" y="5.00" font-size="13.89" textLength="8.88" lengthAdjust="spacingAndGlyphs" fill="#000" >1</text>
<line x1="1405.6" y1="579.01" x2="1410.46" y2="579.01" stroke="#000" stroke-width="1.11"/>
<text transform="translate(1416.22,579.71)" x="0.00" y="5.00" font-size="13.89" textLength="8.75" lengthAdjust="spacingAndGlyphs" fill="#000" >2</text>
<line x1="1405.6" y1="490.87" x2="1410.46" y2="490.87" stroke="#000" stroke-width="1.11"/>
<text transform="translate(1416.22,491.57)" x="0.00" y="5.00" font-size="13.89" textLength="8.75" lengthAdjust="spacingAndGlyphs" fill="#000" >3</text>
<line x1="1405.6" y1="402.73" x2="1410.46" y2="402.73" stroke="#000" stroke-width="1.11"/>
<text transform="translate(1416.22,403.43)" x="0.00" y="5.00" font-size="13.89" textLength="8.75" lengthAdjust="spacingAndGlyphs" fill="#000" >4</text>
<line x1="1405.6" y1="314.59" x2="1410.46" y2="314.59" stroke="#000" stroke-width="1.11"/>
<text transform="translate(1416.22,315.29)" x="0.00" y="5.00" font-size="13.89" textLength="8.75" lengthAdjust="spacingAndGlyphs" fill="#000" >5</text>
<line x1="1405.6" y1="226.44" x2="1410.46" y2="226.44" stroke="#000" stroke-width="1.11"/>
<text transform="translate(1416.22,227.14)" x="0.00" y="5.00" font-size="13.89" textLength="8.88" lengthAdjust="spacingAndGlyphs" fill="#000" >6</text>
<line x1="1405.6" y1="138.30" x2="1410.46" y2="138.30" stroke="#000" stroke-width="1.11"/>
<text transform="translate(1416.22,139.00)" x="0.00" y="5.00" font-size="13.89" textLength="8.75" lengthAdjust="spacingAndGlyphs" fill="#000" >7</text>
<g transform="translate(1441.0,447.7) rotate(-90)">
<text x="-102.00" y="0" font-size="13.89" font-style="italic" textLength="20.87" lengthAdjust="spacingAndGlyphs">log</text>
<text x="-80.63" y="2.5" font-size="10.69" textLength="12.10" lengthAdjust="spacingAndGlyphs">10</text>
<text x="-63.71" y="0" font-size="13.89" textLength="165.72" lengthAdjust="spacingAndGlyphs">Intensity (arbitrary unit)</text>
</g>
</g>
</svg>
</body></html>
